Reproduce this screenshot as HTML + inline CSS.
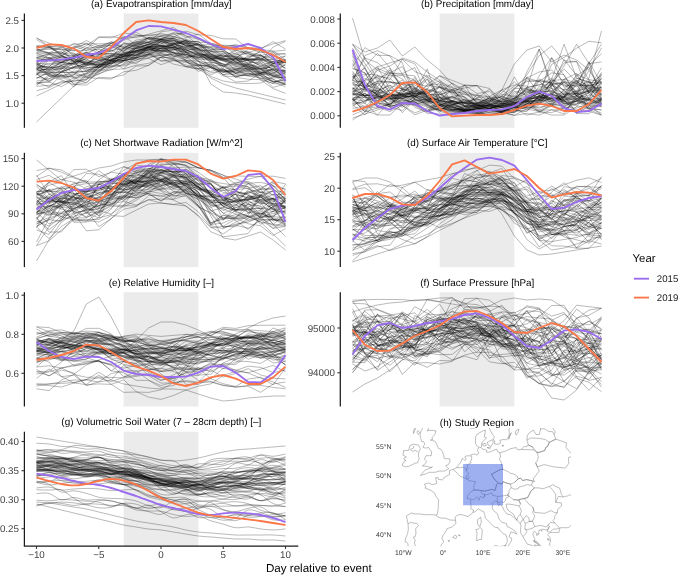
<!DOCTYPE html>
<html><head><meta charset="utf-8"><style>
html,body{margin:0;padding:0;background:#fff;}
svg{display:block;will-change:transform;}
text{font-family:"Liberation Sans",sans-serif;text-rendering:geometricPrecision;}
.tk{font-size:9.80px;fill:#444;}
.ti{font-size:9.90px;fill:#000;}
.at{font-size:11.6px;fill:#000;}
.lt{font-size:11.4px;fill:#000;}
.ll{font-size:9.7px;fill:#1a1a1a;}
.mk{font-size:6.8px;fill:#3a3a3a;}
</style></head><body>
<svg width="685" height="575" viewBox="0 0 685 575">
<rect width="685" height="575" fill="#fff"/>
<rect x="123.65" y="13.50" width="74.70" height="114.30" fill="#ebebeb"/>
<g fill="none" stroke="#000" stroke-opacity="0.5" stroke-width="0.55" stroke-linejoin="round"><path d="M36.5 49.0L49.0 52.7 61.4 58.6 73.9 62.1 86.3 57.0 98.8 60.3 111.2 60.6 123.7 60.2 136.1 58.9 148.6 58.4 161.0 64.7 173.4 60.3 185.9 60.8 198.3 71.4 210.8 67.5 223.2 71.7 235.7 68.9 248.1 69.8 260.6 73.2 273.1 63.5 285.5 59.3"/><path d="M36.5 45.7L49.0 46.9 61.4 45.4 73.9 56.2 86.3 53.9 98.8 60.9 111.2 55.9 123.7 54.3 136.1 50.9 148.6 47.4 161.0 41.8 173.4 43.6 185.9 47.5 198.3 52.5 210.8 58.8 223.2 58.2 235.7 58.8 248.1 58.0 260.6 51.0 273.1 55.1 285.5 53.6"/><path d="M36.5 63.0L49.0 76.3 61.4 75.4 73.9 73.9 86.3 77.5 98.8 78.4 111.2 79.0 123.7 71.8 136.1 70.3 148.6 65.2 161.0 57.3 173.4 52.2 185.9 57.9 198.3 64.5 210.8 72.9 223.2 70.7 235.7 69.7 248.1 65.0 260.6 56.2 273.1 58.0 285.5 68.8"/><path d="M36.5 78.5L49.0 71.4 61.4 76.6 73.9 71.1 86.3 71.3 98.8 71.1 111.2 64.3 123.7 56.1 136.1 55.1 148.6 50.1 161.0 46.5 173.4 49.0 185.9 49.8 198.3 55.3 210.8 54.2 223.2 61.2 235.7 58.5 248.1 58.9 260.6 51.0 273.1 59.5 285.5 61.8"/><path d="M36.5 70.0L49.0 58.7 61.4 60.1 73.9 58.3 86.3 65.1 98.8 53.9 111.2 53.6 123.7 55.9 136.1 47.0 148.6 44.5 161.0 39.4 173.4 40.4 185.9 44.4 198.3 54.3 210.8 58.4 223.2 58.4 235.7 63.2 248.1 65.0 260.6 71.6 273.1 69.2 285.5 77.9"/><path d="M36.5 66.2L49.0 67.0 61.4 72.0 73.9 67.5 86.3 63.9 98.8 63.3 111.2 59.4 123.7 56.2 136.1 50.6 148.6 45.8 161.0 48.5 173.4 56.1 185.9 51.3 198.3 61.6 210.8 67.7 223.2 76.0 235.7 76.8 248.1 73.5 260.6 73.1 273.1 68.9 285.5 60.5"/><path d="M36.5 63.0L49.0 64.4 61.4 62.5 73.9 63.4 86.3 55.1 98.8 58.6 111.2 55.1 123.7 52.6 136.1 52.4 148.6 46.3 161.0 55.8 173.4 59.7 185.9 65.0 198.3 68.5 210.8 67.6 223.2 72.6 235.7 69.5 248.1 71.6 260.6 73.6 273.1 81.0 285.5 83.8"/><path d="M36.5 65.9L49.0 73.6 61.4 71.2 73.9 66.8 86.3 63.3 98.8 67.6 111.2 63.5 123.7 56.8 136.1 44.5 148.6 37.8 161.0 39.2 173.4 42.3 185.9 51.5 198.3 52.3 210.8 58.0 223.2 67.5 235.7 57.6 248.1 71.0 260.6 66.1 273.1 61.2 285.5 68.1"/><path d="M36.5 69.4L49.0 75.5 61.4 77.2 73.9 76.4 86.3 73.4 98.8 64.9 111.2 63.9 123.7 51.1 136.1 47.3 148.6 47.5 161.0 41.8 173.4 45.7 185.9 51.7 198.3 55.8 210.8 58.3 223.2 64.2 235.7 68.7 248.1 68.6 260.6 80.0 273.1 88.5 285.5 93.4"/><path d="M36.5 82.2L49.0 86.9 61.4 75.2 73.9 87.0 86.3 75.5 98.8 71.5 111.2 61.4 123.7 60.6 136.1 57.9 148.6 54.1 161.0 40.7 173.4 44.6 185.9 47.8 198.3 43.0 210.8 54.0 223.2 56.9 235.7 55.5 248.1 60.3 260.6 59.0 273.1 62.9 285.5 62.3"/><path d="M36.5 52.3L49.0 47.1 61.4 54.0 73.9 55.8 86.3 52.8 98.8 48.5 111.2 43.2 123.7 52.2 136.1 50.7 148.6 47.9 161.0 52.9 173.4 49.5 185.9 46.7 198.3 48.6 210.8 53.1 223.2 55.8 235.7 56.6 248.1 59.8 260.6 59.1 273.1 54.8 285.5 61.1"/><path d="M36.5 60.3L49.0 58.8 61.4 62.2 73.9 64.3 86.3 57.9 98.8 51.9 111.2 43.5 123.7 37.1 136.1 37.6 148.6 34.2 161.0 30.8 173.4 27.3 185.9 36.3 198.3 39.2 210.8 44.5 223.2 48.2 235.7 46.8 248.1 52.4 260.6 54.8 273.1 63.6 285.5 68.2"/><path d="M36.5 47.1L49.0 48.4 61.4 49.6 73.9 50.8 86.3 45.8 98.8 36.9 111.2 36.7 123.7 38.4 136.1 32.1 148.6 39.1 161.0 41.5 173.4 39.8 185.9 50.7 198.3 47.7 210.8 46.7 223.2 45.5 235.7 54.5 248.1 53.5 260.6 58.9 273.1 61.7 285.5 59.7"/><path d="M36.5 65.1L49.0 57.4 61.4 62.6 73.9 56.9 86.3 52.8 98.8 54.6 111.2 50.0 123.7 56.5 136.1 58.3 148.6 46.7 161.0 46.2 173.4 45.5 185.9 56.1 198.3 57.0 210.8 57.2 223.2 59.5 235.7 60.3 248.1 57.9 260.6 60.7 273.1 59.2 285.5 56.0"/><path d="M36.5 83.4L49.0 80.9 61.4 71.8 73.9 62.5 86.3 60.5 98.8 51.5 111.2 43.6 123.7 47.6 136.1 44.4 148.6 39.6 161.0 40.1 173.4 38.4 185.9 41.5 198.3 53.6 210.8 56.7 223.2 57.1 235.7 53.8 248.1 59.6 260.6 60.1 273.1 63.8 285.5 55.9"/><path d="M36.5 58.7L49.0 59.7 61.4 62.9 73.9 64.1 86.3 62.1 98.8 65.5 111.2 61.4 123.7 48.2 136.1 40.1 148.6 38.0 161.0 38.9 173.4 34.3 185.9 32.7 198.3 39.2 210.8 44.7 223.2 50.7 235.7 57.0 248.1 59.6 260.6 57.1 273.1 65.6 285.5 72.8"/><path d="M36.5 86.3L49.0 85.4 61.4 82.7 73.9 80.9 86.3 79.7 98.8 65.1 111.2 60.8 123.7 55.9 136.1 54.0 148.6 51.4 161.0 48.9 173.4 47.1 185.9 43.8 198.3 49.6 210.8 51.5 223.2 54.0 235.7 62.0 248.1 69.2 260.6 68.9 273.1 79.4 285.5 84.3"/><path d="M36.5 65.4L49.0 59.9 61.4 55.4 73.9 61.8 86.3 51.7 98.8 59.2 111.2 59.7 123.7 54.7 136.1 58.1 148.6 54.3 161.0 47.3 173.4 44.4 185.9 42.1 198.3 41.2 210.8 54.2 223.2 58.1 235.7 59.2 248.1 65.1 260.6 69.0 273.1 66.1 285.5 61.4"/><path d="M36.5 37.6L49.0 46.6 61.4 47.2 73.9 54.1 86.3 55.1 98.8 46.2 111.2 42.1 123.7 48.1 136.1 42.6 148.6 42.2 161.0 31.9 173.4 30.1 185.9 37.7 198.3 34.0 210.8 43.4 223.2 45.2 235.7 45.8 248.1 56.4 260.6 55.4 273.1 63.2 285.5 62.4"/><path d="M36.5 69.1L49.0 74.4 61.4 78.9 73.9 75.0 86.3 61.1 98.8 67.3 111.2 60.6 123.7 63.1 136.1 54.8 148.6 49.0 161.0 48.4 173.4 48.2 185.9 58.2 198.3 54.3 210.8 55.4 223.2 60.5 235.7 64.7 248.1 66.7 260.6 69.1 273.1 76.0 285.5 73.8"/><path d="M36.5 57.5L49.0 57.9 61.4 62.8 73.9 55.0 86.3 66.2 98.8 61.2 111.2 55.1 123.7 51.1 136.1 43.5 148.6 37.5 161.0 36.5 173.4 39.7 185.9 45.5 198.3 48.2 210.8 50.7 223.2 56.9 235.7 50.2 248.1 52.8 260.6 60.3 273.1 70.9 285.5 70.9"/><path d="M36.5 46.3L49.0 45.3 61.4 55.2 73.9 67.5 86.3 65.8 98.8 54.9 111.2 53.6 123.7 54.8 136.1 55.1 148.6 52.5 161.0 60.9 173.4 59.2 185.9 66.7 198.3 69.2 210.8 76.4 223.2 81.0 235.7 83.0 248.1 83.6 260.6 83.1 273.1 76.9 285.5 77.8"/><path d="M36.5 68.0L49.0 70.7 61.4 62.5 73.9 58.6 86.3 47.8 98.8 47.6 111.2 41.7 123.7 46.1 136.1 41.6 148.6 41.7 161.0 39.8 173.4 40.5 185.9 42.3 198.3 41.6 210.8 49.7 223.2 49.4 235.7 58.7 248.1 49.2 260.6 48.8 273.1 55.6 285.5 62.4"/><path d="M36.5 38.4L49.0 43.1 61.4 47.0 73.9 50.7 86.3 50.3 98.8 45.3 111.2 45.4 123.7 46.7 136.1 48.5 148.6 44.9 161.0 40.7 173.4 44.1 185.9 40.6 198.3 42.0 210.8 43.1 223.2 47.3 235.7 51.4 248.1 63.9 260.6 68.3 273.1 74.4 285.5 72.7"/><path d="M36.5 49.8L49.0 49.4 61.4 48.4 73.9 61.9 86.3 69.6 98.8 69.8 111.2 64.9 123.7 54.7 136.1 49.8 148.6 43.9 161.0 40.2 173.4 42.7 185.9 52.3 198.3 64.9 210.8 66.8 223.2 70.1 235.7 72.4 248.1 70.0 260.6 77.9 273.1 81.4 285.5 82.5"/><path d="M36.5 71.9L49.0 68.0 61.4 66.1 73.9 72.7 86.3 76.5 98.8 72.5 111.2 60.9 123.7 68.9 136.1 65.2 148.6 63.4 161.0 56.9 173.4 58.3 185.9 61.7 198.3 66.6 210.8 74.9 223.2 69.2 235.7 76.4 248.1 75.2 260.6 73.9 273.1 75.2 285.5 79.0"/><path d="M36.5 68.2L49.0 65.8 61.4 69.3 73.9 84.5 86.3 85.1 98.8 77.3 111.2 77.9 123.7 74.9 136.1 66.1 148.6 65.5 161.0 57.2 173.4 58.4 185.9 66.7 198.3 65.0 210.8 66.0 223.2 65.4 235.7 73.5 248.1 71.1 260.6 71.9 273.1 75.4 285.5 82.1"/><path d="M36.5 74.2L49.0 67.1 61.4 55.1 73.9 61.6 86.3 62.1 98.8 62.5 111.2 56.2 123.7 53.3 136.1 55.9 148.6 45.5 161.0 43.9 173.4 37.8 185.9 46.2 198.3 51.0 210.8 50.3 223.2 46.3 235.7 50.3 248.1 54.2 260.6 55.2 273.1 64.4 285.5 60.1"/><path d="M36.5 74.1L49.0 81.3 61.4 75.0 73.9 77.7 86.3 83.2 98.8 70.2 111.2 62.6 123.7 53.0 136.1 51.9 148.6 55.8 161.0 48.1 173.4 47.9 185.9 60.5 198.3 61.1 210.8 66.8 223.2 72.4 235.7 70.4 248.1 75.7 260.6 78.2 273.1 78.1 285.5 77.1"/><path d="M36.5 81.0L49.0 79.1 61.4 72.2 73.9 67.8 86.3 68.5 98.8 66.8 111.2 56.1 123.7 57.3 136.1 48.1 148.6 37.7 161.0 36.5 173.4 39.0 185.9 45.8 198.3 45.0 210.8 47.4 223.2 56.4 235.7 58.5 248.1 66.3 260.6 70.8 273.1 63.7 285.5 60.6"/><path d="M36.5 75.7L49.0 59.4 61.4 64.7 73.9 63.4 86.3 58.6 98.8 67.7 111.2 59.3 123.7 53.1 136.1 48.5 148.6 44.1 161.0 45.7 173.4 47.4 185.9 39.6 198.3 49.2 210.8 57.9 223.2 65.8 235.7 69.4 248.1 63.2 260.6 68.4 273.1 67.1 285.5 62.3"/><path d="M36.5 64.8L49.0 68.4 61.4 61.8 73.9 56.0 86.3 60.1 98.8 62.8 111.2 56.7 123.7 54.8 136.1 51.2 148.6 53.0 161.0 52.5 173.4 44.4 185.9 43.2 198.3 52.9 210.8 62.5 223.2 71.8 235.7 71.3 248.1 67.8 260.6 72.5 273.1 72.7 285.5 72.2"/><path d="M36.5 55.1L49.0 58.3 61.4 53.8 73.9 52.9 86.3 64.6 98.8 60.9 111.2 63.7 123.7 60.6 136.1 57.8 148.6 53.8 161.0 61.1 173.4 60.8 185.9 62.2 198.3 66.0 210.8 66.3 223.2 74.7 235.7 71.0 248.1 64.5 260.6 67.1 273.1 70.7 285.5 64.9"/><path d="M36.5 67.6L49.0 66.8 61.4 56.9 73.9 46.0 86.3 50.3 98.8 49.3 111.2 52.1 123.7 43.8 136.1 47.0 148.6 44.6 161.0 45.7 173.4 53.6 185.9 54.6 198.3 57.4 210.8 58.6 223.2 55.0 235.7 57.1 248.1 52.5 260.6 49.0 273.1 41.6 285.5 49.0"/><path d="M36.5 62.6L49.0 69.8 61.4 65.4 73.9 62.7 86.3 58.8 98.8 51.7 111.2 58.4 123.7 42.4 136.1 46.3 148.6 48.3 161.0 45.3 173.4 46.0 185.9 54.3 198.3 57.9 210.8 51.7 223.2 52.1 235.7 61.1 248.1 58.5 260.6 66.3 273.1 65.2 285.5 70.8"/><path d="M36.5 57.2L49.0 53.9 61.4 53.4 73.9 43.0 86.3 49.0 98.8 37.4 111.2 37.8 123.7 33.1 136.1 34.4 148.6 38.8 161.0 38.9 173.4 38.5 185.9 42.5 198.3 48.9 210.8 56.7 223.2 57.8 235.7 65.6 248.1 62.2 260.6 62.8 273.1 76.4 285.5 78.2"/><path d="M36.5 73.9L49.0 74.7 61.4 74.6 73.9 83.5 86.3 80.4 98.8 66.9 111.2 61.9 123.7 59.1 136.1 52.4 148.6 46.3 161.0 50.5 173.4 52.4 185.9 60.2 198.3 64.5 210.8 62.2 223.2 64.2 235.7 64.2 248.1 64.3 260.6 69.5 273.1 61.0 285.5 61.9"/><path d="M36.5 84.8L49.0 74.7 61.4 77.0 73.9 74.9 86.3 64.1 98.8 56.3 111.2 60.5 123.7 53.8 136.1 50.7 148.6 46.9 161.0 41.4 173.4 46.7 185.9 52.4 198.3 58.0 210.8 60.4 223.2 59.7 235.7 57.1 248.1 64.1 260.6 54.8 273.1 62.1 285.5 65.7"/><path d="M36.5 70.3L49.0 69.2 61.4 62.4 73.9 57.7 86.3 57.6 98.8 57.7 111.2 61.0 123.7 58.7 136.1 56.8 148.6 49.1 161.0 51.4 173.4 52.9 185.9 61.4 198.3 68.8 210.8 71.4 223.2 68.6 235.7 77.1 248.1 72.9 260.6 75.4 273.1 81.7 285.5 86.8"/><path d="M36.5 50.4L49.0 46.7 61.4 55.8 73.9 60.7 86.3 77.2 98.8 68.1 111.2 56.1 123.7 48.0 136.1 41.9 148.6 38.3 161.0 39.6 173.4 41.7 185.9 43.2 198.3 44.3 210.8 49.8 223.2 51.4 235.7 58.8 248.1 59.6 260.6 58.1 273.1 66.5 285.5 74.7"/><path d="M36.5 85.3L49.0 76.3 61.4 79.9 73.9 84.9 86.3 82.6 98.8 72.0 111.2 66.5 123.7 64.8 136.1 60.2 148.6 55.6 161.0 57.6 173.4 64.1 185.9 66.7 198.3 69.0 210.8 64.1 223.2 75.0 235.7 81.9 248.1 81.1 260.6 73.2 273.1 82.0 285.5 79.5"/><path d="M36.5 53.8L49.0 53.9 61.4 55.8 73.9 48.2 86.3 43.8 98.8 43.8 111.2 43.6 123.7 36.0 136.1 45.3 148.6 47.4 161.0 48.5 173.4 50.8 185.9 43.9 198.3 48.5 210.8 54.6 223.2 58.7 235.7 62.4 248.1 67.0 260.6 75.9 273.1 82.3 285.5 79.5"/><path d="M36.5 78.2L49.0 73.0 61.4 72.6 73.9 72.7 86.3 70.9 98.8 65.7 111.2 63.1 123.7 60.6 136.1 45.6 148.6 42.5 161.0 38.8 173.4 45.9 185.9 48.6 198.3 49.4 210.8 55.2 223.2 59.3 235.7 63.9 248.1 55.8 260.6 55.7 273.1 52.3 285.5 62.8"/><path d="M36.5 73.8L49.0 70.6 61.4 68.7 73.9 67.0 86.3 63.5 98.8 55.6 111.2 47.1 123.7 50.8 136.1 43.4 148.6 42.8 161.0 45.7 173.4 47.9 185.9 49.4 198.3 55.7 210.8 56.2 223.2 54.9 235.7 61.6 248.1 66.5 260.6 73.3 273.1 74.0 285.5 63.6"/><path d="M36.5 57.8L49.0 54.3 61.4 61.3 73.9 56.7 86.3 62.4 98.8 60.7 111.2 58.9 123.7 56.8 136.1 55.5 148.6 46.9 161.0 50.8 173.4 43.7 185.9 43.1 198.3 44.3 210.8 51.7 223.2 51.6 235.7 62.8 248.1 60.1 260.6 75.0 273.1 79.3 285.5 84.8"/><path d="M36.5 69.1L49.0 73.6 61.4 67.9 73.9 59.5 86.3 64.6 98.8 64.8 111.2 60.4 123.7 55.8 136.1 51.4 148.6 48.6 161.0 51.2 173.4 49.3 185.9 52.4 198.3 61.4 210.8 63.5 223.2 69.5 235.7 67.6 248.1 69.2 260.6 69.1 273.1 76.7 285.5 75.4"/><path d="M36.5 49.6L49.0 53.2 61.4 51.8 73.9 60.9 86.3 63.4 98.8 58.3 111.2 50.5 123.7 48.8 136.1 45.3 148.6 42.3 161.0 42.3 173.4 56.6 185.9 54.3 198.3 58.9 210.8 65.8 223.2 74.5 235.7 74.1 248.1 76.1 260.6 75.6 273.1 87.4 285.5 84.0"/><path d="M36.5 68.2L49.0 63.1 61.4 67.3 73.9 62.9 86.3 71.1 98.8 64.2 111.2 60.1 123.7 56.4 136.1 53.9 148.6 47.4 161.0 39.2 173.4 32.5 185.9 35.2 198.3 44.8 210.8 53.8 223.2 59.7 235.7 66.4 248.1 67.8 260.6 68.3 273.1 72.3 285.5 81.2"/><path d="M36.5 82.8L49.0 82.4 61.4 71.8 73.9 67.2 86.3 54.0 98.8 57.8 111.2 55.1 123.7 58.5 136.1 60.2 148.6 54.5 161.0 55.4 173.4 54.2 185.9 49.4 198.3 55.3 210.8 59.6 223.2 64.0 235.7 73.3 248.1 69.5 260.6 62.9 273.1 69.5 285.5 77.6"/><path d="M36.5 72.7L49.0 72.0 61.4 72.4 73.9 72.3 86.3 71.5 98.8 65.9 111.2 68.0 123.7 60.9 136.1 50.9 148.6 47.6 161.0 43.8 173.4 40.6 185.9 45.7 198.3 45.0 210.8 44.7 223.2 46.2 235.7 45.7 248.1 47.6 260.6 48.2 273.1 43.9 285.5 40.6"/><path d="M36.5 90.7L49.0 87.6 61.4 81.4 73.9 81.2 86.3 79.2 98.8 74.3 111.2 67.3 123.7 61.5 136.1 54.9 148.6 57.4 161.0 53.9 173.4 54.8 185.9 57.9 198.3 53.4 210.8 61.9 223.2 66.0 235.7 58.9 248.1 68.1 260.6 74.0 273.1 76.2 285.5 73.2"/><path d="M36.5 52.5L49.0 53.1 61.4 51.9 73.9 58.9 86.3 62.6 98.8 65.0 111.2 62.2 123.7 57.6 136.1 52.5 148.6 47.6 161.0 45.9 173.4 47.3 185.9 50.0 198.3 53.8 210.8 68.0 223.2 71.1 235.7 73.3 248.1 72.8 260.6 78.6 273.1 83.6 285.5 84.3"/><path d="M36.5 77.4L49.0 78.9 61.4 69.0 73.9 61.1 86.3 56.2 98.8 54.9 111.2 49.2 123.7 40.2 136.1 36.3 148.6 35.0 161.0 35.0 173.4 36.8 185.9 39.1 198.3 44.4 210.8 47.4 223.2 47.6 235.7 44.5 248.1 48.0 260.6 52.7 273.1 51.3 285.5 50.2"/><path d="M36.5 73.8L49.0 81.9 61.4 86.7 73.9 79.7 86.3 72.8 98.8 66.7 111.2 63.2 123.7 60.4 136.1 47.9 148.6 49.7 161.0 51.7 173.4 49.0 185.9 52.6 198.3 53.4 210.8 56.3 223.2 66.4 235.7 61.2 248.1 60.5 260.6 59.3 273.1 59.0 285.5 62.2"/><path d="M36.5 62.1L49.0 72.6 61.4 65.7 73.9 69.0 86.3 65.7 98.8 64.1 111.2 59.6 123.7 54.6 136.1 48.3 148.6 44.0 161.0 39.0 173.4 37.3 185.9 31.1 198.3 34.8 210.8 35.4 223.2 38.8 235.7 39.0 248.1 48.4 260.6 49.5 273.1 50.9 285.5 60.0"/><path d="M36.5 50.5L49.0 53.0 61.4 46.8 73.9 44.4 86.3 43.1 98.8 51.9 111.2 46.8 123.7 48.8 136.1 48.5 148.6 51.1 161.0 48.7 173.4 43.2 185.9 40.9 198.3 51.7 210.8 58.3 223.2 68.8 235.7 77.3 248.1 79.2 260.6 79.7 273.1 83.4 285.5 76.5"/><path d="M36.5 60.4L49.0 60.9 61.4 65.7 73.9 56.0 86.3 47.6 98.8 53.1 111.2 54.1 123.7 49.8 136.1 44.9 148.6 42.4 161.0 35.6 173.4 33.5 185.9 41.1 198.3 49.9 210.8 60.9 223.2 66.3 235.7 73.3 248.1 67.1 260.6 61.1 273.1 47.0 285.5 41.4"/><path d="M36.5 39.7L49.0 46.9 61.4 53.3 73.9 47.0 86.3 40.6 98.8 46.0 111.2 51.3 123.7 43.7 136.1 42.9 148.6 46.5 161.0 46.7 173.4 52.9 185.9 54.4 198.3 59.0 210.8 60.3 223.2 53.2 235.7 53.3 248.1 51.4 260.6 58.8 273.1 52.8 285.5 54.2"/><path d="M36.5 64.5L49.0 67.7 61.4 67.2 73.9 77.8 86.3 77.9 98.8 73.7 111.2 69.5 123.7 68.9 136.1 56.4 148.6 48.8 161.0 47.8 173.4 44.4 185.9 47.2 198.3 43.3 210.8 56.1 223.2 61.0 235.7 63.3 248.1 60.2 260.6 65.8 273.1 72.1 285.5 70.2"/><path d="M36.5 63.2L49.0 54.6 61.4 57.2 73.9 58.3 86.3 64.4 98.8 63.8 111.2 66.0 123.7 60.9 136.1 57.2 148.6 51.9 161.0 50.4 173.4 47.3 185.9 48.8 198.3 50.3 210.8 58.9 223.2 64.1 235.7 66.3 248.1 65.8 260.6 72.3 273.1 73.8 285.5 77.7"/><path d="M36.5 58.1L49.0 60.6 61.4 57.1 73.9 54.4 86.3 52.6 98.8 59.6 111.2 57.3 123.7 60.7 136.1 52.3 148.6 49.9 161.0 46.3 173.4 47.6 185.9 55.9 198.3 65.7 210.8 64.5 223.2 70.9 235.7 75.5 248.1 75.0 260.6 73.5 273.1 69.6 285.5 71.6"/><path d="M36.5 46.3L49.0 47.3 61.4 50.0 73.9 47.9 86.3 43.9 98.8 47.5 111.2 45.6 123.7 37.4 136.1 35.5 148.6 35.8 161.0 33.5 173.4 36.5 185.9 40.3 198.3 46.2 210.8 48.3 223.2 49.8 235.7 57.5 248.1 61.0 260.6 64.4 273.1 68.9 285.5 71.9"/><path d="M36.5 68.7L49.0 69.5 61.4 68.6 73.9 64.3 86.3 67.9 98.8 65.4 111.2 60.1 123.7 60.3 136.1 63.7 148.6 54.3 161.0 53.3 173.4 57.6 185.9 52.8 198.3 56.7 210.8 59.6 223.2 60.2 235.7 69.7 248.1 74.6 260.6 75.0 273.1 68.5 285.5 70.6"/><path d="M36.5 53.4L49.0 57.8 61.4 56.9 73.9 59.4 86.3 67.4 98.8 67.6 111.2 62.4 123.7 58.1 136.1 50.6 148.6 50.2 161.0 45.5 173.4 43.5 185.9 40.4 198.3 45.4 210.8 58.0 223.2 59.4 235.7 59.6 248.1 59.5 260.6 61.8 273.1 65.6 285.5 80.8"/><path d="M36.5 122.0L49.0 110.0 61.4 98.0 73.9 86.0 86.3 74.0 98.8 68.0 111.2 66.0 123.7 66.0 136.1 62.0 148.6 58.0 161.0 55.0 173.4 56.0 185.9 60.0 198.3 66.0 210.8 78.0 223.2 84.0 235.7 88.0 248.1 91.0 260.6 94.0 273.1 97.0 285.5 100.0"/><path d="M36.5 96.0L49.0 90.0 61.4 84.0 73.9 78.0 86.3 74.0 98.8 70.0 111.2 70.0 123.7 64.0 136.1 58.0 148.6 54.0 161.0 50.0 173.4 52.0 185.9 56.0 198.3 60.0 210.8 84.0 223.2 92.0 235.7 93.0 248.1 95.0 260.6 98.0 273.1 101.0 285.5 104.0"/></g>
<path d="M36.5 61.0L49.0 60.4 61.4 59.6 73.9 57.6 86.3 55.0 98.8 53.0 111.2 48.0 123.7 39.0 136.1 30.4 148.6 26.0 161.0 26.4 173.4 29.6 185.9 33.0 198.3 38.0 210.8 44.0 223.2 49.0 235.7 47.0 248.1 44.0 260.6 48.0 273.1 57.0 285.5 81.0" fill="none" stroke="#9a6cef" stroke-width="1.85" stroke-linejoin="round" stroke-linecap="butt"/>
<path d="M36.5 48.0L49.0 44.4 61.4 45.0 73.9 48.6 86.3 57.0 98.8 58.0 111.2 47.0 123.7 33.0 136.1 22.0 148.6 20.4 161.0 22.0 173.4 23.0 185.9 25.0 198.3 31.0 210.8 39.0 223.2 47.0 235.7 49.0 248.1 48.0 260.6 50.0 273.1 55.0 285.5 62.0" fill="none" stroke="#fb7748" stroke-width="1.85" stroke-linejoin="round" stroke-linecap="butt"/>
<line x1="24.40" y1="13.50" x2="24.40" y2="127.80" stroke="#1a1a1a" stroke-width="1.25"/>
<line x1="21.50" y1="20.40" x2="24.40" y2="20.40" stroke="#333" stroke-width="1.1"/>
<text x="19.00" y="23.90" text-anchor="end" class="tk">2.5</text>
<line x1="21.50" y1="48.00" x2="24.40" y2="48.00" stroke="#333" stroke-width="1.1"/>
<text x="19.00" y="51.50" text-anchor="end" class="tk">2.0</text>
<line x1="21.50" y1="75.60" x2="24.40" y2="75.60" stroke="#333" stroke-width="1.1"/>
<text x="19.00" y="79.10" text-anchor="end" class="tk">1.5</text>
<line x1="21.50" y1="103.20" x2="24.40" y2="103.20" stroke="#333" stroke-width="1.1"/>
<text x="19.00" y="106.70" text-anchor="end" class="tk">1.0</text>
<text x="161.35" y="7.10" text-anchor="middle" class="ti">(a) Evapotranspiration [mm/day]</text>
<rect x="439.65" y="13.50" width="74.70" height="114.30" fill="#ebebeb"/>
<g fill="none" stroke="#000" stroke-opacity="0.5" stroke-width="0.55" stroke-linejoin="round"><path d="M352.5 99.1L364.9 111.9 377.4 101.6 389.9 94.2 402.3 96.8 414.8 96.0 427.2 84.8 439.6 84.2 452.1 87.7 464.6 91.8 477.0 103.1 489.4 97.9 501.9 107.2 514.4 105.4 526.8 103.0 539.2 110.0 551.7 105.6 564.1 89.0 576.6 92.3 589.0 101.2 601.5 99.5"/><path d="M352.5 88.3L364.9 89.7 377.4 101.0 389.9 95.5 402.3 92.3 414.8 83.8 427.2 75.1 439.6 82.1 452.1 103.4 464.6 109.9 477.0 112.2 489.4 109.2 501.9 110.3 514.4 101.2 526.8 94.9 539.2 88.9 551.7 80.7 564.1 79.3 576.6 96.0 589.0 63.4 601.5 44.2"/><path d="M352.5 98.6L364.9 110.3 377.4 115.0 389.9 115.0 402.3 103.6 414.8 97.1 427.2 88.6 439.6 75.8 452.1 83.4 464.6 92.4 477.0 100.6 489.4 103.6 501.9 107.8 514.4 102.5 526.8 95.7 539.2 96.1 551.7 100.1 564.1 94.3 576.6 78.0 589.0 82.4 601.5 82.9"/><path d="M352.5 93.4L364.9 95.4 377.4 96.7 389.9 100.2 402.3 96.1 414.8 88.1 427.2 99.9 439.6 93.9 452.1 101.5 464.6 105.9 477.0 112.5 489.4 115.4 501.9 111.7 514.4 112.5 526.8 102.9 539.2 98.7 551.7 95.0 564.1 78.9 576.6 83.3 589.0 111.5 601.5 115.0"/><path d="M352.5 48.0L364.9 69.0 377.4 86.4 389.9 99.5 402.3 94.7 414.8 107.4 427.2 111.9 439.6 108.8 452.1 107.6 464.6 108.8 477.0 104.8 489.4 108.8 501.9 111.2 514.4 109.3 526.8 104.0 539.2 102.0 551.7 80.7 564.1 90.6 576.6 83.0 589.0 92.5 601.5 89.9"/><path d="M352.5 94.9L364.9 78.1 377.4 87.1 389.9 70.0 402.3 88.1 414.8 96.1 427.2 90.6 439.6 108.9 452.1 114.1 464.6 111.7 477.0 108.9 489.4 106.0 501.9 106.5 514.4 109.2 526.8 99.7 539.2 93.1 551.7 100.4 564.1 97.1 576.6 74.4 589.0 79.7 601.5 95.8"/><path d="M352.5 94.7L364.9 91.5 377.4 83.3 389.9 95.0 402.3 99.7 414.8 93.5 427.2 91.5 439.6 86.2 452.1 103.9 464.6 108.8 477.0 105.0 489.4 108.0 501.9 105.9 514.4 103.1 526.8 102.6 539.2 86.4 551.7 88.1 564.1 93.6 576.6 93.6 589.0 91.6 601.5 103.5"/><path d="M352.5 104.5L364.9 115.0 377.4 101.9 389.9 88.9 402.3 79.8 414.8 100.6 427.2 99.4 439.6 98.4 452.1 104.4 464.6 102.7 477.0 108.1 489.4 110.4 501.9 111.4 514.4 110.8 526.8 111.3 539.2 99.7 551.7 104.6 564.1 104.0 576.6 104.7 589.0 81.3 601.5 94.4"/><path d="M352.5 53.1L364.9 85.6 377.4 94.9 389.9 97.2 402.3 105.6 414.8 96.4 427.2 101.3 439.6 97.8 452.1 98.2 464.6 102.5 477.0 98.8 489.4 102.5 501.9 96.3 514.4 103.2 526.8 102.7 539.2 89.5 551.7 105.1 564.1 97.8 576.6 98.4 589.0 100.7 601.5 103.5"/><path d="M352.5 106.9L364.9 96.2 377.4 91.7 389.9 95.7 402.3 96.3 414.8 93.2 427.2 100.3 439.6 109.0 452.1 107.1 464.6 110.3 477.0 110.5 489.4 108.7 501.9 105.1 514.4 87.8 526.8 81.5 539.2 81.3 551.7 72.8 564.1 74.7 576.6 96.5 589.0 99.8 601.5 106.5"/><path d="M352.5 68.5L364.9 73.0 377.4 91.0 389.9 85.2 402.3 96.2 414.8 96.3 427.2 104.9 439.6 111.1 452.1 114.5 464.6 112.0 477.0 112.3 489.4 108.9 501.9 111.7 514.4 106.1 526.8 104.6 539.2 91.6 551.7 79.5 564.1 85.8 576.6 85.6 589.0 85.5 601.5 82.8"/><path d="M352.5 72.6L364.9 86.0 377.4 102.8 389.9 98.5 402.3 98.3 414.8 93.9 427.2 93.1 439.6 97.7 452.1 100.8 464.6 103.4 477.0 107.1 489.4 110.0 501.9 111.0 514.4 107.8 526.8 115.2 539.2 111.7 551.7 112.7 564.1 107.2 576.6 108.2 589.0 103.1 601.5 101.8"/><path d="M352.5 94.4L364.9 95.6 377.4 94.5 389.9 107.2 402.3 110.5 414.8 98.3 427.2 97.1 439.6 100.3 452.1 96.6 464.6 102.7 477.0 105.3 489.4 106.2 501.9 111.2 514.4 103.8 526.8 100.2 539.2 97.4 551.7 97.9 564.1 100.2 576.6 113.4 589.0 106.1 601.5 84.1"/><path d="M352.5 93.8L364.9 100.2 377.4 97.7 389.9 94.2 402.3 95.5 414.8 91.6 427.2 101.3 439.6 97.7 452.1 100.5 464.6 106.1 477.0 107.3 489.4 105.4 501.9 101.2 514.4 98.3 526.8 88.7 539.2 49.1 551.7 88.4 564.1 104.0 576.6 99.3 589.0 104.3 601.5 100.2"/><path d="M352.5 89.1L364.9 75.3 377.4 66.6 389.9 89.7 402.3 94.1 414.8 89.9 427.2 76.5 439.6 97.5 452.1 105.0 464.6 101.8 477.0 105.3 489.4 108.3 501.9 103.2 514.4 107.8 526.8 106.6 539.2 95.9 551.7 98.8 564.1 90.6 576.6 99.4 589.0 92.0 601.5 87.9"/><path d="M352.5 93.4L364.9 95.7 377.4 95.5 389.9 86.9 402.3 95.5 414.8 98.2 427.2 85.0 439.6 87.3 452.1 89.6 464.6 101.4 477.0 98.5 489.4 106.1 501.9 110.2 514.4 110.5 526.8 97.8 539.2 93.4 551.7 99.2 564.1 99.2 576.6 93.2 589.0 80.4 601.5 99.0"/><path d="M352.5 76.0L364.9 89.4 377.4 93.6 389.9 90.3 402.3 94.2 414.8 95.7 427.2 103.9 439.6 112.4 452.1 100.5 464.6 103.1 477.0 103.4 489.4 101.1 501.9 92.6 514.4 81.9 526.8 92.9 539.2 92.0 551.7 91.1 564.1 82.2 576.6 91.1 589.0 87.9 601.5 87.5"/><path d="M352.5 114.9L364.9 109.5 377.4 101.8 389.9 94.9 402.3 95.3 414.8 102.0 427.2 98.9 439.6 99.9 452.1 105.9 464.6 111.1 477.0 108.3 489.4 109.8 501.9 106.2 514.4 93.2 526.8 87.8 539.2 84.5 551.7 85.2 564.1 65.9 576.6 44.2 589.0 63.6 601.5 62.0"/><path d="M352.5 96.0L364.9 88.8 377.4 90.9 389.9 98.1 402.3 107.3 414.8 98.8 427.2 105.3 439.6 110.2 452.1 109.8 464.6 107.1 477.0 112.1 489.4 108.1 501.9 105.8 514.4 107.7 526.8 109.0 539.2 105.0 551.7 85.7 564.1 89.8 576.6 75.8 589.0 67.1 601.5 94.8"/><path d="M352.5 74.8L364.9 86.9 377.4 75.2 389.9 92.7 402.3 103.5 414.8 104.9 427.2 100.7 439.6 104.5 452.1 101.5 464.6 109.4 477.0 110.4 489.4 104.2 501.9 112.2 514.4 107.2 526.8 107.2 539.2 107.1 551.7 105.0 564.1 111.1 576.6 98.4 589.0 92.7 601.5 79.2"/><path d="M352.5 100.7L364.9 93.3 377.4 102.8 389.9 106.4 402.3 88.1 414.8 82.7 427.2 86.7 439.6 80.6 452.1 94.7 464.6 97.0 477.0 104.9 489.4 106.0 501.9 105.1 514.4 91.1 526.8 94.8 539.2 80.3 551.7 84.0 564.1 100.4 576.6 111.2 589.0 110.4 601.5 97.7"/><path d="M352.5 53.2L364.9 66.8 377.4 53.2 389.9 67.6 402.3 88.5 414.8 86.8 427.2 98.2 439.6 107.4 452.1 109.8 464.6 110.5 477.0 108.6 489.4 104.6 501.9 101.3 514.4 76.9 526.8 98.2 539.2 96.1 551.7 57.9 564.1 75.5 576.6 93.6 589.0 98.7 601.5 103.8"/><path d="M352.5 55.6L364.9 88.2 377.4 95.0 389.9 82.3 402.3 84.3 414.8 87.4 427.2 96.0 439.6 93.7 452.1 104.2 464.6 101.7 477.0 102.9 489.4 104.2 501.9 106.1 514.4 97.3 526.8 89.9 539.2 92.4 551.7 90.7 564.1 98.3 576.6 83.5 589.0 65.4 601.5 53.7"/><path d="M352.5 83.0L364.9 97.2 377.4 98.3 389.9 98.6 402.3 98.4 414.8 95.1 427.2 100.2 439.6 105.6 452.1 100.8 464.6 105.2 477.0 107.8 489.4 112.8 501.9 114.7 514.4 111.6 526.8 104.8 539.2 111.6 551.7 106.1 564.1 99.4 576.6 100.1 589.0 97.4 601.5 82.7"/><path d="M352.5 108.4L364.9 106.0 377.4 108.1 389.9 104.0 402.3 96.6 414.8 91.9 427.2 93.6 439.6 87.6 452.1 92.9 464.6 92.1 477.0 95.3 489.4 96.6 501.9 102.1 514.4 99.5 526.8 99.0 539.2 97.5 551.7 95.2 564.1 81.5 576.6 86.9 589.0 81.5 601.5 96.6"/><path d="M352.5 68.2L364.9 72.7 377.4 96.6 389.9 96.1 402.3 97.6 414.8 105.5 427.2 113.3 439.6 114.1 452.1 115.0 464.6 110.2 477.0 107.5 489.4 104.3 501.9 98.0 514.4 107.3 526.8 103.9 539.2 97.5 551.7 100.1 564.1 101.7 576.6 104.0 589.0 99.4 601.5 98.0"/><path d="M352.5 85.2L364.9 85.4 377.4 88.1 389.9 96.1 402.3 95.1 414.8 91.2 427.2 92.0 439.6 103.3 452.1 110.1 464.6 107.3 477.0 106.7 489.4 105.0 501.9 107.5 514.4 100.8 526.8 89.8 539.2 91.0 551.7 84.6 564.1 94.7 576.6 93.6 589.0 107.5 601.5 105.0"/><path d="M352.5 79.8L364.9 58.0 377.4 62.7 389.9 72.5 402.3 79.0 414.8 90.6 427.2 89.0 439.6 100.6 452.1 102.6 464.6 85.2 477.0 85.6 489.4 96.4 501.9 89.8 514.4 84.9 526.8 86.1 539.2 95.8 551.7 95.2 564.1 96.5 576.6 93.7 589.0 89.8 601.5 87.5"/><path d="M352.5 82.4L364.9 80.7 377.4 96.8 389.9 93.5 402.3 94.5 414.8 93.9 427.2 102.9 439.6 105.4 452.1 106.7 464.6 111.1 477.0 108.3 489.4 108.1 501.9 105.7 514.4 106.6 526.8 109.3 539.2 111.3 551.7 115.1 564.1 115.0 576.6 106.7 589.0 92.0 601.5 78.4"/><path d="M352.5 66.6L364.9 47.6 377.4 55.3 389.9 55.6 402.3 62.5 414.8 100.0 427.2 99.9 439.6 102.0 452.1 101.8 464.6 106.3 477.0 108.6 489.4 108.9 501.9 105.0 514.4 98.9 526.8 76.9 539.2 93.7 551.7 79.3 564.1 44.2 576.6 78.2 589.0 82.0 601.5 99.3"/><path d="M352.5 105.2L364.9 100.8 377.4 96.7 389.9 98.8 402.3 93.4 414.8 93.5 427.2 79.2 439.6 101.3 452.1 106.8 464.6 109.4 477.0 110.6 489.4 110.5 501.9 98.0 514.4 99.0 526.8 88.5 539.2 99.4 551.7 102.0 564.1 92.8 576.6 79.9 589.0 99.1 601.5 74.4"/><path d="M352.5 99.2L364.9 93.5 377.4 98.1 389.9 107.5 402.3 102.3 414.8 96.6 427.2 91.1 439.6 105.9 452.1 109.9 464.6 109.9 477.0 105.8 489.4 98.1 501.9 102.5 514.4 105.8 526.8 97.9 539.2 98.0 551.7 93.1 564.1 79.5 576.6 73.3 589.0 92.6 601.5 101.9"/><path d="M352.5 78.9L364.9 67.5 377.4 89.5 389.9 95.4 402.3 102.2 414.8 102.5 427.2 107.3 439.6 110.6 452.1 104.4 464.6 102.2 477.0 103.9 489.4 97.4 501.9 103.4 514.4 97.7 526.8 100.5 539.2 102.3 551.7 92.6 564.1 101.2 576.6 101.5 589.0 108.1 601.5 113.1"/><path d="M352.5 91.0L364.9 103.7 377.4 82.2 389.9 68.3 402.3 90.1 414.8 91.5 427.2 95.5 439.6 103.5 452.1 110.1 464.6 109.8 477.0 109.8 489.4 104.7 501.9 104.2 514.4 106.4 526.8 106.1 539.2 102.4 551.7 93.3 564.1 101.8 576.6 97.2 589.0 84.5 601.5 100.5"/><path d="M352.5 97.9L364.9 97.3 377.4 100.6 389.9 96.7 402.3 93.6 414.8 92.9 427.2 68.9 439.6 103.7 452.1 107.1 464.6 112.1 477.0 111.4 489.4 112.0 501.9 111.0 514.4 107.8 526.8 106.7 539.2 96.4 551.7 105.6 564.1 105.7 576.6 101.5 589.0 88.1 601.5 100.8"/><path d="M352.5 83.9L364.9 86.6 377.4 100.4 389.9 90.3 402.3 90.5 414.8 96.8 427.2 101.1 439.6 102.9 452.1 106.0 464.6 106.2 477.0 105.5 489.4 108.9 501.9 112.8 514.4 102.5 526.8 101.2 539.2 80.8 551.7 82.8 564.1 107.1 576.6 100.4 589.0 104.8 601.5 115.0"/><path d="M352.5 103.3L364.9 101.8 377.4 90.7 389.9 85.4 402.3 89.1 414.8 93.1 427.2 96.6 439.6 103.9 452.1 109.0 464.6 110.4 477.0 109.2 489.4 110.6 501.9 109.9 514.4 106.7 526.8 107.6 539.2 96.6 551.7 83.0 564.1 84.3 576.6 95.4 589.0 109.5 601.5 115.0"/><path d="M352.5 89.4L364.9 95.7 377.4 106.6 389.9 104.6 402.3 96.1 414.8 96.5 427.2 104.9 439.6 85.5 452.1 91.1 464.6 105.9 477.0 105.2 489.4 103.6 501.9 100.2 514.4 95.9 526.8 101.4 539.2 95.8 551.7 100.6 564.1 97.4 576.6 96.1 589.0 90.5 601.5 90.1"/><path d="M352.5 44.4L364.9 63.6 377.4 81.2 389.9 82.1 402.3 83.0 414.8 80.1 427.2 100.2 439.6 105.3 452.1 101.5 464.6 103.5 477.0 103.7 489.4 109.1 501.9 112.6 514.4 112.6 526.8 106.5 539.2 97.4 551.7 88.4 564.1 104.0 576.6 101.1 589.0 98.7 601.5 100.6"/><path d="M352.5 103.2L364.9 103.1 377.4 115.0 389.9 101.9 402.3 99.2 414.8 89.9 427.2 100.5 439.6 110.6 452.1 102.5 464.6 112.2 477.0 114.4 489.4 109.7 501.9 103.3 514.4 104.3 526.8 101.3 539.2 99.9 551.7 94.5 564.1 100.2 576.6 93.4 589.0 85.2 601.5 90.1"/><path d="M352.5 44.4L364.9 57.7 377.4 79.3 389.9 72.6 402.3 66.6 414.8 88.9 427.2 100.8 439.6 94.7 452.1 90.8 464.6 88.0 477.0 85.6 489.4 99.6 501.9 108.0 514.4 100.1 526.8 87.1 539.2 85.2 551.7 78.1 564.1 91.5 576.6 98.8 589.0 98.2 601.5 94.1"/><path d="M352.5 92.4L364.9 87.5 377.4 76.1 389.9 78.2 402.3 89.9 414.8 77.5 427.2 97.6 439.6 100.2 452.1 89.7 464.6 85.2 477.0 85.6 489.4 88.4 501.9 105.4 514.4 104.5 526.8 100.2 539.2 96.2 551.7 101.7 564.1 102.4 576.6 97.3 589.0 95.7 601.5 82.4"/><path d="M352.5 82.2L364.9 91.0 377.4 91.0 389.9 105.9 402.3 105.3 414.8 112.9 427.2 108.2 439.6 104.9 452.1 105.2 464.6 99.7 477.0 105.6 489.4 105.7 501.9 107.0 514.4 105.2 526.8 90.9 539.2 99.9 551.7 82.1 564.1 62.8 576.6 61.5 589.0 79.6 601.5 81.6"/><path d="M352.5 63.5L364.9 88.5 377.4 97.3 389.9 96.3 402.3 112.7 414.8 99.4 427.2 102.4 439.6 100.4 452.1 102.1 464.6 110.4 477.0 109.2 489.4 106.7 501.9 109.7 514.4 110.4 526.8 111.1 539.2 100.8 551.7 106.5 564.1 108.5 576.6 103.9 589.0 99.8 601.5 102.2"/><path d="M352.5 59.8L364.9 88.6 377.4 68.4 389.9 73.3 402.3 74.5 414.8 75.9 427.2 98.2 439.6 106.9 452.1 105.2 464.6 108.8 477.0 94.4 489.4 101.1 501.9 95.9 514.4 101.5 526.8 72.0 539.2 49.1 551.7 84.4 564.1 81.9 576.6 83.3 589.0 62.3 601.5 99.5"/><path d="M352.5 77.2L364.9 87.1 377.4 94.6 389.9 105.3 402.3 100.3 414.8 102.1 427.2 110.3 439.6 108.3 452.1 110.6 464.6 109.2 477.0 106.8 489.4 101.6 501.9 100.9 514.4 104.3 526.8 101.3 539.2 100.7 551.7 91.1 564.1 97.0 576.6 79.9 589.0 86.1 601.5 81.7"/><path d="M352.5 71.2L364.9 87.2 377.4 70.3 389.9 75.9 402.3 75.5 414.8 80.1 427.2 96.4 439.6 91.0 452.1 105.7 464.6 106.8 477.0 104.3 489.4 99.1 501.9 104.5 514.4 104.1 526.8 101.2 539.2 104.6 551.7 103.2 564.1 106.6 576.6 99.0 589.0 99.4 601.5 104.0"/><path d="M352.5 90.2L364.9 97.9 377.4 107.2 389.9 111.5 402.3 105.5 414.8 114.8 427.2 110.2 439.6 105.3 452.1 108.6 464.6 109.9 477.0 113.6 489.4 114.6 501.9 114.0 514.4 109.3 526.8 107.1 539.2 110.4 551.7 109.8 564.1 113.9 576.6 95.6 589.0 100.3 601.5 86.5"/><path d="M352.5 102.4L364.9 89.2 377.4 93.5 389.9 73.0 402.3 73.5 414.8 67.5 427.2 97.4 439.6 100.5 452.1 104.8 464.6 99.2 477.0 104.8 489.4 105.1 501.9 107.8 514.4 111.8 526.8 104.0 539.2 103.0 551.7 98.4 564.1 103.9 576.6 101.4 589.0 106.0 601.5 106.9"/><path d="M352.5 98.2L364.9 93.4 377.4 102.8 389.9 104.2 402.3 93.8 414.8 101.6 427.2 112.0 439.6 104.8 452.1 106.7 464.6 111.1 477.0 113.7 489.4 110.1 501.9 112.6 514.4 115.3 526.8 108.7 539.2 103.4 551.7 97.3 564.1 100.4 576.6 95.7 589.0 103.2 601.5 104.0"/><path d="M352.5 89.7L364.9 80.4 377.4 77.1 389.9 93.2 402.3 98.4 414.8 95.3 427.2 88.8 439.6 92.7 452.1 101.1 464.6 103.2 477.0 98.1 489.4 89.3 501.9 99.2 514.4 102.9 526.8 98.0 539.2 98.8 551.7 96.7 564.1 100.9 576.6 95.3 589.0 90.5 601.5 72.4"/><path d="M352.5 87.6L364.9 96.0 377.4 88.1 389.9 95.2 402.3 104.8 414.8 104.9 427.2 110.9 439.6 100.9 452.1 97.4 464.6 93.5 477.0 101.9 489.4 103.8 501.9 103.3 514.4 103.1 526.8 99.0 539.2 93.3 551.7 98.4 564.1 97.2 576.6 84.0 589.0 86.5 601.5 102.9"/><path d="M352.5 99.1L364.9 101.0 377.4 97.7 389.9 103.6 402.3 91.0 414.8 96.5 427.2 96.4 439.6 104.7 452.1 113.3 464.6 110.2 477.0 107.2 489.4 102.6 501.9 103.9 514.4 100.5 526.8 101.5 539.2 108.3 551.7 103.7 564.1 97.1 576.6 92.1 589.0 84.1 601.5 75.3"/><path d="M352.5 80.4L364.9 82.6 377.4 91.9 389.9 106.9 402.3 102.2 414.8 93.3 427.2 93.8 439.6 82.3 452.1 86.7 464.6 106.7 477.0 102.2 489.4 106.3 501.9 105.7 514.4 103.8 526.8 98.8 539.2 75.9 551.7 57.4 564.1 87.5 576.6 80.8 589.0 90.9 601.5 73.4"/><path d="M352.5 92.5L364.9 80.2 377.4 66.9 389.9 62.9 402.3 59.2 414.8 71.6 427.2 76.5 439.6 87.1 452.1 92.0 464.6 97.1 477.0 108.0 489.4 106.5 501.9 98.8 514.4 102.8 526.8 99.3 539.2 113.0 551.7 103.3 564.1 97.6 576.6 85.5 589.0 61.7 601.5 83.8"/><path d="M352.5 80.1L364.9 87.9 377.4 81.4 389.9 98.1 402.3 98.2 414.8 104.6 427.2 111.1 439.6 107.9 452.1 111.1 464.6 111.6 477.0 111.4 489.4 115.5 501.9 112.1 514.4 107.1 526.8 101.2 539.2 99.6 551.7 85.1 564.1 82.9 576.6 94.8 589.0 91.3 601.5 78.5"/><path d="M352.5 91.3L364.9 87.4 377.4 81.2 389.9 81.3 402.3 89.6 414.8 88.1 427.2 95.3 439.6 101.1 452.1 96.2 464.6 103.1 477.0 107.3 489.4 104.6 501.9 107.5 514.4 98.3 526.8 93.3 539.2 79.0 551.7 82.9 564.1 94.8 576.6 113.6 589.0 113.7 601.5 99.7"/><path d="M352.5 77.2L364.9 67.9 377.4 94.2 389.9 97.4 402.3 97.9 414.8 88.7 427.2 78.8 439.6 97.0 452.1 97.0 464.6 100.2 477.0 107.2 489.4 101.7 501.9 90.0 514.4 99.2 526.8 89.1 539.2 94.9 551.7 82.8 564.1 69.1 576.6 81.8 589.0 88.1 601.5 67.7"/><path d="M352.5 73.7L364.9 96.9 377.4 106.5 389.9 95.6 402.3 94.3 414.8 98.7 427.2 106.2 439.6 105.4 452.1 111.1 464.6 110.8 477.0 108.0 489.4 108.1 501.9 112.3 514.4 115.3 526.8 113.5 539.2 115.1 551.7 109.7 564.1 110.3 576.6 110.0 589.0 108.3 601.5 110.0"/><path d="M352.5 99.2L364.9 107.0 377.4 95.8 389.9 101.3 402.3 89.9 414.8 89.0 427.2 98.2 439.6 101.5 452.1 107.8 464.6 111.9 477.0 107.5 489.4 108.1 501.9 107.8 514.4 107.0 526.8 102.0 539.2 100.7 551.7 98.3 564.1 96.2 576.6 81.4 589.0 91.3 601.5 93.4"/><path d="M352.5 101.0L364.9 95.0 377.4 95.4 389.9 99.4 402.3 103.6 414.8 103.1 427.2 102.0 439.6 102.1 452.1 100.6 464.6 105.4 477.0 99.5 489.4 100.7 501.9 94.4 514.4 96.3 526.8 79.9 539.2 81.0 551.7 92.2 564.1 94.7 576.6 91.4 589.0 103.6 601.5 99.0"/><path d="M352.5 88.3L364.9 96.0 377.4 103.8 389.9 104.7 402.3 93.4 414.8 81.2 427.2 93.0 439.6 86.9 452.1 93.0 464.6 85.2 477.0 93.5 489.4 91.4 501.9 102.5 514.4 89.5 526.8 75.0 539.2 55.6 551.7 46.0 564.1 60.8 576.6 61.7 589.0 94.6 601.5 100.0"/><path d="M352.5 76.8L364.9 74.0 377.4 75.1 389.9 79.7 402.3 59.2 414.8 63.8 427.2 84.3 439.6 75.8 452.1 80.3 464.6 85.2 477.0 104.1 489.4 107.1 501.9 104.0 514.4 102.3 526.8 106.0 539.2 99.9 551.7 101.6 564.1 95.8 576.6 90.8 589.0 70.3 601.5 88.8"/><path d="M352.5 99.5L364.9 87.9 377.4 83.3 389.9 81.9 402.3 84.6 414.8 95.0 427.2 94.5 439.6 94.9 452.1 89.6 464.6 94.6 477.0 95.3 489.4 104.2 501.9 109.7 514.4 105.3 526.8 77.8 539.2 81.5 551.7 93.8 564.1 110.8 576.6 100.5 589.0 105.1 601.5 105.8"/><path d="M352.5 80.8L364.9 55.5 377.4 50.7 389.9 56.1 402.3 73.8 414.8 94.9 427.2 99.3 439.6 96.5 452.1 109.7 464.6 109.5 477.0 103.3 489.4 98.3 501.9 101.9 514.4 101.4 526.8 91.6 539.2 92.3 551.7 86.1 564.1 59.6 576.6 75.4 589.0 88.9 601.5 77.2"/><path d="M352.5 99.3L364.9 111.9 377.4 93.1 389.9 74.0 402.3 83.9 414.8 85.2 427.2 90.0 439.6 93.0 452.1 83.0 464.6 90.3 477.0 97.4 489.4 97.0 501.9 97.7 514.4 88.5 526.8 88.1 539.2 92.9 551.7 64.4 564.1 57.3 576.6 48.2 589.0 41.2 601.5 42.8"/><path d="M352.5 18.0L364.9 60.0 377.4 70.0 389.9 66.0 402.3 58.0 414.8 62.0 427.2 72.0 439.6 80.0 452.1 90.0 464.6 100.0 477.0 104.0 489.4 102.0 501.9 96.0 514.4 86.0 526.8 78.0 539.2 72.0 551.7 70.0 564.1 82.0 576.6 92.0 589.0 78.0 601.5 31.0"/><path d="M352.5 44.0L364.9 52.0 377.4 48.0 389.9 40.0 402.3 56.0 414.8 47.0 427.2 60.0 439.6 70.0 452.1 84.0 464.6 98.0 477.0 106.0 489.4 100.0 501.9 90.0 514.4 64.0 526.8 50.0 539.2 46.0 551.7 62.0 564.1 55.0 576.6 60.0 589.0 70.0 601.5 48.0"/><path d="M352.5 120.0L364.9 112.0 377.4 108.0 389.9 104.0 402.3 100.0 414.8 102.0 427.2 106.0 439.6 110.0 452.1 112.0 464.6 113.0 477.0 114.0 489.4 113.0 501.9 112.0 514.4 110.0 526.8 104.0 539.2 100.0 551.7 98.0 564.1 102.0 576.6 106.0 589.0 108.0 601.5 110.0"/><path d="M352.5 118.0L364.9 114.0 377.4 110.0 389.9 106.0 402.3 104.0 414.8 100.0 427.2 104.0 439.6 108.0 452.1 111.0 464.6 112.0 477.0 113.0 489.4 112.0 501.9 110.0 514.4 106.0 526.8 100.0 539.2 96.0 551.7 94.0 564.1 98.0 576.6 100.0 589.0 104.0 601.5 106.0"/></g>
<path d="M352.5 49.6L364.9 85.0 377.4 106.0 389.9 109.6 402.3 103.0 414.8 103.6 427.2 111.0 439.6 115.6 452.1 114.0 464.6 113.0 477.0 111.0 489.4 110.0 501.9 109.6 514.4 106.0 526.8 97.0 539.2 91.6 551.7 96.0 564.1 108.0 576.6 112.0 589.0 111.0 601.5 103.6" fill="none" stroke="#9a6cef" stroke-width="1.85" stroke-linejoin="round" stroke-linecap="butt"/>
<path d="M352.5 111.6L364.9 107.6 377.4 102.0 389.9 95.0 402.3 83.0 414.8 82.4 427.2 92.0 439.6 108.0 452.1 116.4 464.6 115.6 477.0 115.0 489.4 115.0 501.9 114.0 514.4 110.0 526.8 105.6 539.2 103.6 551.7 106.0 564.1 111.0 576.6 111.0 589.0 104.0 601.5 90.0" fill="none" stroke="#fb7748" stroke-width="1.85" stroke-linejoin="round" stroke-linecap="butt"/>
<line x1="340.30" y1="13.50" x2="340.30" y2="127.80" stroke="#1a1a1a" stroke-width="1.25"/>
<line x1="337.40" y1="19.00" x2="340.30" y2="19.00" stroke="#333" stroke-width="1.1"/>
<text x="334.90" y="22.50" text-anchor="end" class="tk">0.008</text>
<line x1="337.40" y1="43.20" x2="340.30" y2="43.20" stroke="#333" stroke-width="1.1"/>
<text x="334.90" y="46.70" text-anchor="end" class="tk">0.006</text>
<line x1="337.40" y1="67.40" x2="340.30" y2="67.40" stroke="#333" stroke-width="1.1"/>
<text x="334.90" y="70.90" text-anchor="end" class="tk">0.004</text>
<line x1="337.40" y1="91.60" x2="340.30" y2="91.60" stroke="#333" stroke-width="1.1"/>
<text x="334.90" y="95.10" text-anchor="end" class="tk">0.002</text>
<line x1="337.40" y1="115.80" x2="340.30" y2="115.80" stroke="#333" stroke-width="1.1"/>
<text x="334.90" y="119.30" text-anchor="end" class="tk">0.000</text>
<text x="477.25" y="7.10" text-anchor="middle" class="ti">(b) Precipitation [mm/day]</text>
<rect x="123.65" y="152.80" width="74.70" height="114.30" fill="#ebebeb"/>
<g fill="none" stroke="#000" stroke-opacity="0.5" stroke-width="0.55" stroke-linejoin="round"><path d="M36.5 217.3L49.0 232.1 61.4 231.9 73.9 217.0 86.3 208.3 98.8 212.4 111.2 204.8 123.7 205.6 136.1 186.9 148.6 193.8 161.0 201.0 173.4 191.9 185.9 190.4 198.3 194.5 210.8 201.0 223.2 213.3 235.7 208.0 248.1 201.0 260.6 206.8 273.1 219.0 285.5 216.9"/><path d="M36.5 212.5L49.0 197.5 61.4 206.1 73.9 222.3 86.3 222.1 98.8 217.9 111.2 195.8 123.7 189.4 136.1 173.9 148.6 177.2 161.0 187.0 173.4 195.6 185.9 196.4 198.3 207.0 210.8 212.7 223.2 218.3 235.7 217.8 248.1 215.5 260.6 195.5 273.1 200.8 285.5 207.5"/><path d="M36.5 192.9L49.0 198.5 61.4 205.2 73.9 186.6 86.3 194.8 98.8 190.8 111.2 179.8 123.7 179.3 136.1 172.7 148.6 168.9 161.0 164.0 173.4 164.1 185.9 162.0 198.3 167.8 210.8 170.2 223.2 175.2 235.7 179.1 248.1 183.2 260.6 189.2 273.1 205.4 285.5 212.7"/><path d="M36.5 205.7L49.0 194.1 61.4 201.2 73.9 203.6 86.3 209.4 98.8 205.9 111.2 197.1 123.7 178.2 136.1 180.0 148.6 168.8 161.0 166.8 173.4 172.9 185.9 176.0 198.3 183.6 210.8 194.9 223.2 186.9 235.7 189.8 248.1 200.6 260.6 209.1 273.1 198.9 285.5 208.8"/><path d="M36.5 213.0L49.0 200.6 61.4 188.3 73.9 187.8 86.3 198.9 98.8 201.2 111.2 189.1 123.7 186.1 136.1 188.8 148.6 183.4 161.0 179.3 173.4 183.2 185.9 172.9 198.3 183.9 210.8 181.3 223.2 188.1 235.7 193.0 248.1 193.3 260.6 189.3 273.1 189.2 285.5 198.9"/><path d="M36.5 179.6L49.0 175.3 61.4 182.5 73.9 190.5 86.3 190.3 98.8 186.3 111.2 189.0 123.7 182.7 136.1 192.3 148.6 193.8 161.0 201.0 173.4 194.0 185.9 190.8 198.3 196.4 210.8 195.9 223.2 197.2 235.7 204.9 248.1 197.0 260.6 195.7 273.1 209.6 285.5 213.5"/><path d="M36.5 214.5L49.0 210.9 61.4 202.4 73.9 197.7 86.3 198.6 98.8 193.0 111.2 189.7 123.7 183.0 136.1 179.8 148.6 185.5 161.0 187.1 173.4 180.3 185.9 180.9 198.3 199.9 210.8 223.1 223.2 215.6 235.7 216.3 248.1 213.6 260.6 194.2 273.1 199.1 285.5 217.8"/><path d="M36.5 192.0L49.0 190.5 61.4 199.7 73.9 195.0 86.3 191.0 98.8 193.2 111.2 179.4 123.7 181.2 136.1 171.0 148.6 170.5 161.0 175.5 173.4 186.7 185.9 183.1 198.3 192.4 210.8 203.1 223.2 193.7 235.7 194.5 248.1 197.4 260.6 202.2 273.1 219.3 285.5 220.9"/><path d="M36.5 204.4L49.0 202.3 61.4 201.0 73.9 203.4 86.3 213.4 98.8 202.2 111.2 197.0 123.7 176.2 136.1 165.1 148.6 166.5 161.0 159.0 173.4 163.0 185.9 174.2 198.3 177.5 210.8 179.5 223.2 187.4 235.7 186.1 248.1 188.4 260.6 185.6 273.1 195.5 285.5 200.6"/><path d="M36.5 203.8L49.0 182.2 61.4 179.6 73.9 182.2 86.3 189.1 98.8 184.4 111.2 186.8 123.7 189.1 136.1 181.5 148.6 182.1 161.0 179.9 173.4 175.3 185.9 177.3 198.3 193.2 210.8 204.9 223.2 209.1 235.7 213.8 248.1 216.4 260.6 215.8 273.1 202.6 285.5 184.2"/><path d="M36.5 175.0L49.0 194.4 61.4 200.2 73.9 186.5 86.3 192.9 98.8 181.7 111.2 181.4 123.7 185.0 136.1 180.8 148.6 181.7 161.0 184.8 173.4 176.0 185.9 177.3 198.3 187.7 210.8 191.4 223.2 186.5 235.7 198.9 248.1 200.2 260.6 195.8 273.1 190.6 285.5 192.2"/><path d="M36.5 224.3L49.0 213.0 61.4 212.2 73.9 210.1 86.3 204.3 98.8 201.6 111.2 196.0 123.7 184.2 136.1 172.3 148.6 174.3 161.0 181.4 173.4 185.2 185.9 181.1 198.3 188.7 210.8 192.6 223.2 187.7 235.7 182.4 248.1 181.4 260.6 187.8 273.1 182.1 285.5 194.4"/><path d="M36.5 204.6L49.0 212.8 61.4 216.5 73.9 213.3 86.3 209.8 98.8 209.0 111.2 203.9 123.7 201.4 136.1 205.1 148.6 199.7 161.0 203.0 173.4 204.5 185.9 202.4 198.3 211.8 210.8 226.8 223.2 234.0 235.7 225.3 248.1 228.3 260.6 220.3 273.1 219.3 285.5 224.9"/><path d="M36.5 207.9L49.0 198.0 61.4 187.3 73.9 184.2 86.3 180.2 98.8 197.4 111.2 185.6 123.7 173.6 136.1 185.6 148.6 172.5 161.0 169.4 173.4 174.9 185.9 177.3 198.3 187.1 210.8 206.5 223.2 227.4 235.7 224.1 248.1 222.2 260.6 217.0 273.1 213.5 285.5 210.7"/><path d="M36.5 208.3L49.0 201.2 61.4 201.9 73.9 196.2 86.3 186.7 98.8 184.3 111.2 180.1 123.7 174.6 136.1 170.6 148.6 172.1 161.0 164.9 173.4 172.8 185.9 171.7 198.3 178.8 210.8 194.7 223.2 206.3 235.7 191.6 248.1 194.9 260.6 204.5 273.1 198.4 285.5 196.3"/><path d="M36.5 227.4L49.0 208.6 61.4 218.9 73.9 203.2 86.3 194.9 98.8 189.5 111.2 182.9 123.7 184.8 136.1 183.4 148.6 180.1 161.0 179.7 173.4 172.1 185.9 171.0 198.3 185.2 210.8 183.6 223.2 200.4 235.7 198.5 248.1 191.1 260.6 197.5 273.1 204.5 285.5 200.2"/><path d="M36.5 192.8L49.0 185.3 61.4 182.0 73.9 169.6 86.3 169.2 98.8 176.7 111.2 172.3 123.7 174.1 136.1 177.5 148.6 175.5 161.0 172.1 173.4 171.3 185.9 170.8 198.3 180.7 210.8 184.9 223.2 196.9 235.7 209.7 248.1 211.1 260.6 199.5 273.1 203.6 285.5 203.3"/><path d="M36.5 196.5L49.0 189.6 61.4 188.4 73.9 213.2 86.3 230.8 98.8 229.8 111.2 218.5 123.7 209.2 136.1 206.6 148.6 195.6 161.0 195.3 173.4 200.0 185.9 206.0 198.3 215.2 210.8 227.8 223.2 226.3 235.7 219.0 248.1 216.3 260.6 213.0 273.1 219.3 285.5 221.9"/><path d="M36.5 199.9L49.0 211.7 61.4 205.0 73.9 206.9 86.3 207.3 98.8 200.0 111.2 194.5 123.7 190.8 136.1 182.6 148.6 171.8 161.0 185.6 173.4 182.4 185.9 181.5 198.3 187.5 210.8 195.1 223.2 206.4 235.7 210.6 248.1 204.3 260.6 206.0 273.1 211.9 285.5 211.0"/><path d="M36.5 223.9L49.0 219.7 61.4 221.1 73.9 207.7 86.3 217.4 98.8 212.0 111.2 197.4 123.7 186.3 136.1 178.3 148.6 177.5 161.0 165.1 173.4 163.7 185.9 173.7 198.3 189.4 210.8 190.3 223.2 198.0 235.7 200.7 248.1 199.7 260.6 196.9 273.1 205.9 285.5 206.4"/><path d="M36.5 210.8L49.0 215.6 61.4 204.7 73.9 196.5 86.3 212.9 98.8 203.2 111.2 206.0 123.7 207.0 136.1 200.4 148.6 191.9 161.0 189.5 173.4 186.2 185.9 187.7 198.3 194.7 210.8 200.7 223.2 203.7 235.7 210.1 248.1 209.4 260.6 207.9 273.1 224.3 285.5 225.2"/><path d="M36.5 218.6L49.0 207.4 61.4 197.6 73.9 201.4 86.3 207.5 98.8 184.1 111.2 187.8 123.7 190.1 136.1 186.6 148.6 186.2 161.0 179.4 173.4 183.4 185.9 179.2 198.3 186.4 210.8 192.4 223.2 200.0 235.7 191.3 248.1 195.3 260.6 199.4 273.1 210.3 285.5 207.6"/><path d="M36.5 215.0L49.0 205.8 61.4 208.0 73.9 200.7 86.3 191.5 98.8 187.4 111.2 195.9 123.7 200.2 136.1 194.4 148.6 189.1 161.0 189.0 173.4 181.6 185.9 193.6 198.3 195.7 210.8 196.2 223.2 200.7 235.7 194.4 248.1 198.1 260.6 203.6 273.1 203.3 285.5 207.0"/><path d="M36.5 195.3L49.0 181.7 61.4 175.6 73.9 194.0 86.3 193.1 98.8 179.8 111.2 171.7 123.7 166.7 136.1 172.1 148.6 171.9 161.0 179.9 173.4 191.5 185.9 194.9 198.3 205.3 210.8 224.5 223.2 223.0 235.7 217.6 248.1 203.7 260.6 209.3 273.1 204.6 285.5 209.1"/><path d="M36.5 245.6L49.0 226.6 61.4 216.3 73.9 204.7 86.3 194.2 98.8 199.3 111.2 183.7 123.7 183.3 136.1 181.1 148.6 183.7 161.0 173.0 173.4 169.0 185.9 177.5 198.3 175.2 210.8 183.8 223.2 199.3 235.7 188.9 248.1 183.8 260.6 192.6 273.1 185.9 285.5 195.8"/><path d="M36.5 226.0L49.0 219.8 61.4 213.7 73.9 209.4 86.3 201.1 98.8 205.3 111.2 203.9 123.7 196.9 136.1 192.6 148.6 179.5 161.0 173.4 173.4 164.3 185.9 165.0 198.3 178.7 210.8 188.0 223.2 190.5 235.7 189.4 248.1 188.4 260.6 197.4 273.1 190.8 285.5 203.1"/><path d="M36.5 213.9L49.0 197.1 61.4 201.5 73.9 205.3 86.3 199.6 98.8 211.4 111.2 198.4 123.7 190.3 136.1 187.1 148.6 185.2 161.0 182.5 173.4 188.3 185.9 185.4 198.3 196.0 210.8 203.8 223.2 208.1 235.7 199.9 248.1 199.2 260.6 189.2 273.1 181.4 285.5 183.9"/><path d="M36.5 219.4L49.0 205.4 61.4 206.8 73.9 221.1 86.3 219.5 98.8 219.6 111.2 209.2 123.7 188.9 136.1 182.2 148.6 179.1 161.0 172.2 173.4 175.6 185.9 173.9 198.3 187.0 210.8 195.9 223.2 203.0 235.7 205.4 248.1 203.4 260.6 214.0 273.1 206.6 285.5 201.6"/><path d="M36.5 203.9L49.0 203.5 61.4 191.3 73.9 198.9 86.3 196.0 98.8 200.0 111.2 191.0 123.7 183.7 136.1 182.5 148.6 176.7 161.0 172.7 173.4 176.8 185.9 183.0 198.3 189.4 210.8 201.0 223.2 199.8 235.7 202.9 248.1 196.8 260.6 199.9 273.1 194.4 285.5 199.0"/><path d="M36.5 222.3L49.0 217.6 61.4 199.8 73.9 209.3 86.3 201.3 98.8 183.5 111.2 194.2 123.7 185.3 136.1 185.8 148.6 182.7 161.0 191.0 173.4 198.9 185.9 188.4 198.3 198.2 210.8 199.3 223.2 203.3 235.7 201.2 248.1 199.6 260.6 191.5 273.1 198.5 285.5 206.9"/><path d="M36.5 218.6L49.0 229.7 61.4 220.3 73.9 208.1 86.3 205.4 98.8 184.2 111.2 180.3 123.7 170.4 136.1 163.5 148.6 160.0 161.0 159.0 173.4 160.5 185.9 162.0 198.3 167.8 210.8 170.2 223.2 175.2 235.7 184.1 248.1 186.7 260.6 201.7 273.1 208.7 285.5 200.8"/><path d="M36.5 199.7L49.0 211.3 61.4 196.4 73.9 187.3 86.3 173.5 98.8 174.3 111.2 180.2 123.7 184.7 136.1 179.8 148.6 169.2 161.0 170.4 173.4 171.7 185.9 178.1 198.3 186.9 210.8 203.0 223.2 202.4 235.7 201.8 248.1 200.2 260.6 196.9 273.1 201.9 285.5 189.9"/><path d="M36.5 176.6L49.0 168.2 61.4 170.0 73.9 176.9 86.3 182.0 98.8 194.5 111.2 191.0 123.7 180.9 136.1 180.2 148.6 178.0 161.0 178.1 173.4 185.3 185.9 181.5 198.3 184.6 210.8 192.1 223.2 206.7 235.7 200.2 248.1 209.3 260.6 217.6 273.1 215.4 285.5 211.3"/><path d="M36.5 203.6L49.0 188.9 61.4 202.7 73.9 202.4 86.3 208.5 98.8 201.3 111.2 197.4 123.7 191.1 136.1 196.0 148.6 184.0 161.0 188.8 173.4 189.2 185.9 189.4 198.3 186.8 210.8 194.1 223.2 196.8 235.7 201.8 248.1 198.4 260.6 194.8 273.1 204.1 285.5 207.8"/><path d="M36.5 197.3L49.0 199.1 61.4 202.6 73.9 199.5 86.3 197.4 98.8 207.6 111.2 200.7 123.7 181.0 136.1 183.5 148.6 186.7 161.0 190.2 173.4 195.0 185.9 183.8 198.3 186.3 210.8 195.0 223.2 201.6 235.7 201.2 248.1 192.2 260.6 188.9 273.1 188.8 285.5 199.0"/><path d="M36.5 242.1L49.0 218.2 61.4 213.4 73.9 202.2 86.3 206.7 98.8 205.6 111.2 202.0 123.7 195.8 136.1 186.0 148.6 177.8 161.0 175.3 173.4 181.9 185.9 193.2 198.3 206.0 210.8 213.8 223.2 227.6 235.7 225.0 248.1 220.7 260.6 218.2 273.1 211.5 285.5 200.9"/><path d="M36.5 191.6L49.0 190.5 61.4 192.8 73.9 183.0 86.3 182.6 98.8 170.5 111.2 180.0 123.7 174.5 136.1 167.5 148.6 170.7 161.0 171.1 173.4 168.3 185.9 180.5 198.3 183.5 210.8 194.5 223.2 195.9 235.7 202.2 248.1 207.1 260.6 201.7 273.1 198.4 285.5 209.9"/><path d="M36.5 209.5L49.0 214.7 61.4 213.3 73.9 218.0 86.3 217.8 98.8 210.5 111.2 214.1 123.7 205.1 136.1 198.4 148.6 193.1 161.0 196.9 173.4 192.1 185.9 192.5 198.3 199.4 210.8 207.3 223.2 203.7 235.7 184.5 248.1 182.7 260.6 192.5 273.1 194.6 285.5 194.2"/><path d="M36.5 202.0L49.0 208.5 61.4 204.8 73.9 200.4 86.3 202.4 98.8 208.5 111.2 204.2 123.7 198.7 136.1 183.0 148.6 171.0 161.0 171.6 173.4 171.3 185.9 171.3 198.3 181.1 210.8 193.9 223.2 219.9 235.7 210.0 248.1 209.6 260.6 224.3 273.1 218.7 285.5 223.8"/><path d="M36.5 186.0L49.0 198.9 61.4 192.7 73.9 197.1 86.3 202.0 98.8 197.1 111.2 183.0 123.7 175.6 136.1 175.3 148.6 176.3 161.0 180.0 173.4 176.8 185.9 186.0 198.3 196.4 210.8 205.4 223.2 204.9 235.7 197.4 248.1 183.3 260.6 182.4 273.1 185.3 285.5 200.6"/><path d="M36.5 218.2L49.0 203.5 61.4 206.8 73.9 196.1 86.3 210.4 98.8 226.6 111.2 218.7 123.7 205.6 136.1 206.0 148.6 199.8 161.0 199.0 173.4 199.4 185.9 195.0 198.3 206.2 210.8 225.6 223.2 228.8 235.7 222.1 248.1 216.4 260.6 219.8 273.1 228.3 285.5 226.5"/><path d="M36.5 184.8L49.0 191.6 61.4 190.8 73.9 193.2 86.3 207.5 98.8 215.5 111.2 194.6 123.7 184.5 136.1 182.1 148.6 170.3 161.0 160.9 173.4 163.3 185.9 165.1 198.3 172.3 210.8 181.2 223.2 183.6 235.7 185.1 248.1 186.7 260.6 195.5 273.1 183.2 285.5 189.8"/><path d="M36.5 170.5L49.0 168.2 61.4 172.2 73.9 177.9 86.3 181.9 98.8 182.0 111.2 180.6 123.7 173.5 136.1 173.3 148.6 178.5 161.0 166.5 173.4 168.0 185.9 167.0 198.3 167.8 210.8 170.2 223.2 177.4 235.7 175.8 248.1 176.4 260.6 176.4 273.1 176.2 285.5 178.4"/><path d="M36.5 196.7L49.0 206.7 61.4 200.7 73.9 190.1 86.3 191.7 98.8 188.8 111.2 185.3 123.7 166.7 136.1 169.8 148.6 168.5 161.0 170.5 173.4 175.5 185.9 186.5 198.3 193.7 210.8 201.5 223.2 213.1 235.7 219.0 248.1 218.0 260.6 213.9 273.1 211.4 285.5 207.8"/><path d="M36.5 192.8L49.0 201.2 61.4 196.2 73.9 200.3 86.3 192.8 98.8 199.6 111.2 194.3 123.7 198.1 136.1 195.6 148.6 191.2 161.0 185.5 173.4 183.5 185.9 182.9 198.3 189.7 210.8 193.1 223.2 203.3 235.7 207.5 248.1 204.8 260.6 215.7 273.1 216.7 285.5 206.5"/><path d="M36.5 201.7L49.0 201.7 61.4 198.1 73.9 199.3 86.3 191.3 98.8 190.3 111.2 186.6 123.7 185.6 136.1 179.4 148.6 173.1 161.0 172.7 173.4 176.6 185.9 177.2 198.3 184.2 210.8 183.3 223.2 201.0 235.7 193.7 248.1 212.8 260.6 210.1 273.1 221.0 285.5 218.0"/><path d="M36.5 213.9L49.0 211.9 61.4 206.0 73.9 194.5 86.3 190.6 98.8 180.6 111.2 189.7 123.7 180.1 136.1 188.2 148.6 182.6 161.0 172.3 173.4 185.1 185.9 192.0 198.3 197.3 210.8 202.6 223.2 202.8 235.7 210.2 248.1 199.6 260.6 196.8 273.1 206.9 285.5 224.1"/><path d="M36.5 194.7L49.0 191.3 61.4 186.8 73.9 195.1 86.3 188.8 98.8 187.6 111.2 188.6 123.7 189.3 136.1 190.0 148.6 180.9 161.0 180.7 173.4 184.1 185.9 189.6 198.3 205.7 210.8 222.7 223.2 219.1 235.7 217.9 248.1 207.9 260.6 217.1 273.1 216.9 285.5 217.1"/><path d="M36.5 212.2L49.0 205.0 61.4 209.1 73.9 212.3 86.3 210.8 98.8 208.7 111.2 179.9 123.7 176.0 136.1 178.2 148.6 177.5 161.0 159.0 173.4 166.9 185.9 175.6 198.3 179.9 210.8 180.7 223.2 188.8 235.7 183.5 248.1 179.1 260.6 176.4 273.1 186.0 285.5 189.2"/><path d="M36.5 192.0L49.0 182.4 61.4 189.6 73.9 186.0 86.3 183.7 98.8 183.0 111.2 178.3 123.7 178.8 136.1 182.6 148.6 171.7 161.0 166.4 173.4 171.6 185.9 169.4 198.3 177.3 210.8 194.9 223.2 203.8 235.7 210.8 248.1 216.8 260.6 222.1 273.1 224.3 285.5 236.4"/><path d="M36.5 194.9L49.0 190.5 61.4 196.8 73.9 189.9 86.3 191.3 98.8 187.8 111.2 192.8 123.7 192.3 136.1 194.1 148.6 185.7 161.0 174.9 173.4 183.5 185.9 193.4 198.3 196.0 210.8 197.3 223.2 189.6 235.7 200.2 248.1 192.1 260.6 195.4 273.1 199.8 285.5 197.5"/><path d="M36.5 201.2L49.0 196.1 61.4 202.3 73.9 211.1 86.3 217.2 98.8 202.4 111.2 188.1 123.7 181.4 136.1 181.1 148.6 181.6 161.0 169.2 173.4 172.7 185.9 179.7 198.3 187.6 210.8 194.8 223.2 186.7 235.7 199.5 248.1 203.0 260.6 200.2 273.1 198.4 285.5 207.2"/><path d="M36.5 227.1L49.0 218.6 61.4 202.8 73.9 204.7 86.3 197.0 98.8 194.9 111.2 188.9 123.7 178.3 136.1 183.9 148.6 173.6 161.0 180.9 173.4 177.6 185.9 178.4 198.3 186.5 210.8 197.8 223.2 195.7 235.7 209.7 248.1 207.3 260.6 218.2 273.1 225.6 285.5 226.1"/><path d="M36.5 193.5L49.0 199.1 61.4 202.7 73.9 195.8 86.3 194.9 98.8 200.2 111.2 203.3 123.7 196.7 136.1 190.7 148.6 181.7 161.0 174.6 173.4 182.2 185.9 185.2 198.3 191.8 210.8 210.0 223.2 220.4 235.7 205.6 248.1 189.5 260.6 192.5 273.1 191.5 285.5 202.2"/><path d="M36.5 184.3L49.0 193.1 61.4 198.6 73.9 189.3 86.3 205.5 98.8 198.0 111.2 194.4 123.7 187.0 136.1 181.2 148.6 173.3 161.0 169.7 173.4 175.1 185.9 168.9 198.3 176.9 210.8 184.6 223.2 192.4 235.7 194.3 248.1 209.0 260.6 208.5 273.1 209.3 285.5 205.3"/><path d="M36.5 230.0L49.0 234.4 61.4 218.5 73.9 206.3 86.3 196.4 98.8 203.0 111.2 199.2 123.7 198.2 136.1 186.8 148.6 182.3 161.0 181.2 173.4 188.3 185.9 184.6 198.3 177.2 210.8 182.9 223.2 198.5 235.7 212.0 248.1 195.8 260.6 200.6 273.1 209.0 285.5 212.4"/><path d="M36.5 198.1L49.0 202.5 61.4 201.1 73.9 211.8 86.3 204.0 98.8 216.0 111.2 207.9 123.7 197.0 136.1 197.6 148.6 191.2 161.0 193.5 173.4 196.2 185.9 193.5 198.3 199.6 210.8 224.0 223.2 217.7 235.7 218.2 248.1 223.8 260.6 225.8 273.1 235.5 285.5 228.6"/><path d="M36.5 221.0L49.0 226.1 61.4 207.0 73.9 208.6 86.3 202.7 98.8 196.9 111.2 198.5 123.7 195.5 136.1 198.1 148.6 193.7 161.0 181.7 173.4 180.1 185.9 184.0 198.3 196.4 210.8 201.5 223.2 210.6 235.7 204.5 248.1 212.7 260.6 213.4 273.1 217.7 285.5 197.9"/><path d="M36.5 207.0L49.0 206.8 61.4 198.6 73.9 193.4 86.3 198.5 98.8 192.8 111.2 190.6 123.7 173.9 136.1 176.7 148.6 164.4 161.0 159.0 173.4 160.7 185.9 162.0 198.3 167.8 210.8 171.1 223.2 177.6 235.7 191.6 248.1 193.7 260.6 202.9 273.1 198.0 285.5 202.2"/><path d="M36.5 245.6L49.0 240.8 61.4 230.0 73.9 219.9 86.3 212.2 98.8 213.1 111.2 191.2 123.7 192.6 136.1 189.9 148.6 183.3 161.0 186.3 173.4 174.5 185.9 186.2 198.3 194.8 210.8 211.0 223.2 207.6 235.7 209.7 248.1 208.4 260.6 214.7 273.1 206.6 285.5 226.0"/><path d="M36.5 212.2L49.0 223.8 61.4 219.8 73.9 216.2 86.3 213.0 98.8 217.9 111.2 214.6 123.7 200.5 136.1 191.2 148.6 189.0 161.0 181.2 173.4 185.4 185.9 183.2 198.3 197.0 210.8 210.4 223.2 218.4 235.7 214.4 248.1 220.1 260.6 216.3 273.1 228.5 285.5 220.0"/><path d="M36.5 212.8L49.0 206.4 61.4 216.9 73.9 219.5 86.3 221.2 98.8 213.0 111.2 205.9 123.7 192.9 136.1 184.1 148.6 188.1 161.0 180.5 173.4 184.3 185.9 190.8 198.3 202.7 210.8 225.1 223.2 214.8 235.7 220.6 248.1 229.4 260.6 219.3 273.1 220.2 285.5 219.3"/><path d="M36.5 193.7L49.0 201.6 61.4 194.8 73.9 197.2 86.3 200.4 98.8 187.9 111.2 180.2 123.7 177.2 136.1 184.0 148.6 180.3 161.0 180.9 173.4 173.5 185.9 188.3 198.3 197.5 210.8 212.8 223.2 226.5 235.7 226.6 248.1 218.4 260.6 211.0 273.1 224.4 285.5 213.5"/><path d="M36.5 227.0L49.0 238.6 61.4 226.6 73.9 218.7 86.3 220.4 98.8 222.0 111.2 215.6 123.7 216.4 136.1 210.2 148.6 204.0 161.0 203.0 173.4 204.5 185.9 206.0 198.3 216.2 210.8 231.8 223.2 236.8 235.7 235.2 248.1 233.6 260.6 215.9 273.1 206.7 285.5 198.6"/><path d="M36.5 261.0L49.0 240.0 61.4 222.0 73.9 214.0 86.3 210.0 98.8 206.0 111.2 200.0 123.7 196.0 136.1 186.0 148.6 180.0 161.0 178.0 173.4 180.0 185.9 184.0 198.3 192.0 210.8 216.0 223.2 238.0 235.7 240.0 248.1 236.0 260.6 232.0 273.1 240.0 285.5 250.0"/><path d="M36.5 160.0L49.0 170.0 61.4 180.0 73.9 176.0 86.3 172.0 98.8 168.0 111.2 166.0 123.7 162.0 136.1 160.0 148.6 160.0 161.0 160.0 173.4 162.0 185.9 166.0 198.3 176.0 210.8 196.0 223.2 206.0 235.7 212.0 248.1 216.0 260.6 222.0 273.1 234.0 285.5 246.0"/></g>
<path d="M36.5 209.6L49.0 200.0 61.4 193.0 73.9 190.0 86.3 189.6 98.8 188.0 111.2 181.6 123.7 174.0 136.1 168.0 148.6 165.6 161.0 167.0 173.4 169.0 185.9 171.0 198.3 177.0 210.8 188.0 223.2 197.0 235.7 191.0 248.1 175.0 260.6 173.6 273.1 189.0 285.5 222.0" fill="none" stroke="#9a6cef" stroke-width="1.85" stroke-linejoin="round" stroke-linecap="butt"/>
<path d="M36.5 181.6L49.0 180.6 61.4 183.0 73.9 187.6 86.3 198.0 98.8 200.6 111.2 191.0 123.7 178.0 136.1 163.6 148.6 161.0 161.0 161.6 173.4 159.6 185.9 159.6 198.3 164.4 210.8 173.6 223.2 178.6 235.7 176.0 248.1 170.4 260.6 171.6 273.1 180.0 285.5 195.0" fill="none" stroke="#fb7748" stroke-width="1.85" stroke-linejoin="round" stroke-linecap="butt"/>
<line x1="24.40" y1="152.80" x2="24.40" y2="267.10" stroke="#1a1a1a" stroke-width="1.25"/>
<line x1="21.50" y1="158.60" x2="24.40" y2="158.60" stroke="#333" stroke-width="1.1"/>
<text x="19.00" y="162.10" text-anchor="end" class="tk">150</text>
<line x1="21.50" y1="186.20" x2="24.40" y2="186.20" stroke="#333" stroke-width="1.1"/>
<text x="19.00" y="189.70" text-anchor="end" class="tk">120</text>
<line x1="21.50" y1="213.80" x2="24.40" y2="213.80" stroke="#333" stroke-width="1.1"/>
<text x="19.00" y="217.30" text-anchor="end" class="tk">90</text>
<line x1="21.50" y1="241.40" x2="24.40" y2="241.40" stroke="#333" stroke-width="1.1"/>
<text x="19.00" y="244.90" text-anchor="end" class="tk">60</text>
<text x="161.35" y="146.40" text-anchor="middle" class="ti">(c) Net Shortwave Radiation [W/m^2]</text>
<rect x="439.65" y="152.80" width="74.70" height="114.30" fill="#ebebeb"/>
<g fill="none" stroke="#000" stroke-opacity="0.5" stroke-width="0.55" stroke-linejoin="round"><path d="M352.5 242.0L364.9 225.8 377.4 228.7 389.9 216.5 402.3 222.6 414.8 208.0 427.2 199.9 439.6 193.5 452.1 178.3 464.6 181.4 477.0 170.6 489.4 165.1 501.9 166.1 514.4 178.7 526.8 182.1 539.2 207.2 551.7 208.1 564.1 205.5 576.6 208.9 589.0 207.3 601.5 197.9"/><path d="M352.5 210.6L364.9 213.1 377.4 225.9 389.9 225.1 402.3 225.5 414.8 205.8 427.2 200.9 439.6 197.8 452.1 203.8 464.6 206.6 477.0 201.6 489.4 202.0 501.9 200.9 514.4 203.0 526.8 214.7 539.2 219.4 551.7 221.7 564.1 224.8 576.6 220.1 589.0 227.5 601.5 215.4"/><path d="M352.5 221.2L364.9 221.9 377.4 206.0 389.9 211.5 402.3 216.1 414.8 225.0 427.2 217.9 439.6 215.2 452.1 212.0 464.6 196.0 477.0 193.3 489.4 184.1 501.9 187.3 514.4 198.7 526.8 211.9 539.2 202.7 551.7 216.7 564.1 217.6 576.6 223.5 589.0 215.8 601.5 211.2"/><path d="M352.5 260.7L364.9 250.1 377.4 239.6 389.9 231.5 402.3 234.3 414.8 218.1 427.2 210.6 439.6 200.4 452.1 210.2 464.6 209.2 477.0 203.8 489.4 202.3 501.9 200.4 514.4 204.2 526.8 214.7 539.2 237.5 551.7 232.3 564.1 226.1 576.6 225.2 589.0 235.1 601.5 235.7"/><path d="M352.5 200.8L364.9 204.4 377.4 206.8 389.9 197.8 402.3 194.9 414.8 197.0 427.2 192.9 439.6 201.4 452.1 198.9 464.6 191.4 477.0 187.4 489.4 181.8 501.9 180.2 514.4 192.3 526.8 202.5 539.2 194.6 551.7 186.1 564.1 194.1 576.6 186.9 589.0 186.1 601.5 197.2"/><path d="M352.5 217.0L364.9 214.5 377.4 211.7 389.9 219.6 402.3 213.0 414.8 202.1 427.2 200.4 439.6 207.3 452.1 204.0 464.6 206.8 477.0 208.0 489.4 198.8 501.9 199.1 514.4 205.3 526.8 217.5 539.2 236.1 551.7 245.8 564.1 246.1 576.6 248.2 589.0 240.6 601.5 244.0"/><path d="M352.5 202.1L364.9 202.4 377.4 195.7 389.9 208.1 402.3 205.9 414.8 210.0 427.2 198.2 439.6 197.6 452.1 198.8 464.6 194.8 477.0 192.3 489.4 192.3 501.9 193.1 514.4 198.4 526.8 203.9 539.2 221.5 551.7 221.7 564.1 220.8 576.6 221.7 589.0 210.5 601.5 199.1"/><path d="M352.5 197.4L364.9 217.5 377.4 215.6 389.9 220.8 402.3 206.8 414.8 203.0 427.2 201.7 439.6 195.8 452.1 199.0 464.6 192.7 477.0 189.0 489.4 194.8 501.9 204.4 514.4 213.3 526.8 223.1 539.2 229.4 551.7 238.7 564.1 225.8 576.6 215.3 589.0 207.0 601.5 215.9"/><path d="M352.5 230.7L364.9 220.7 377.4 214.2 389.9 214.0 402.3 209.9 414.8 200.8 427.2 193.5 439.6 191.1 452.1 185.0 464.6 182.3 477.0 178.1 489.4 174.8 501.9 180.2 514.4 190.7 526.8 186.7 539.2 197.4 551.7 196.0 564.1 189.5 576.6 198.0 589.0 200.8 601.5 205.9"/><path d="M352.5 210.9L364.9 227.6 377.4 229.2 389.9 221.4 402.3 232.5 414.8 221.6 427.2 225.3 439.6 215.8 452.1 205.3 464.6 195.3 477.0 185.5 489.4 180.0 501.9 184.2 514.4 190.9 526.8 189.2 539.2 199.1 551.7 188.6 564.1 195.5 576.6 193.2 589.0 192.3 601.5 203.3"/><path d="M352.5 181.6L364.9 207.7 377.4 233.8 389.9 237.7 402.3 236.3 414.8 225.9 427.2 226.0 439.6 216.9 452.1 208.1 464.6 197.2 477.0 200.4 489.4 202.7 501.9 194.1 514.4 200.2 526.8 201.7 539.2 217.6 551.7 209.7 564.1 208.6 576.6 212.5 589.0 210.0 601.5 198.6"/><path d="M352.5 212.3L364.9 201.3 377.4 215.5 389.9 221.6 402.3 207.0 414.8 197.0 427.2 210.2 439.6 209.3 452.1 201.6 464.6 201.2 477.0 198.2 489.4 200.5 501.9 197.9 514.4 214.3 526.8 228.7 539.2 226.3 551.7 224.6 564.1 219.1 576.6 220.0 589.0 220.6 601.5 219.7"/><path d="M352.5 204.7L364.9 208.8 377.4 205.5 389.9 218.7 402.3 208.9 414.8 204.9 427.2 198.6 439.6 190.0 452.1 189.7 464.6 187.9 477.0 185.8 489.4 193.7 501.9 191.0 514.4 200.7 526.8 212.7 539.2 223.0 551.7 211.2 564.1 200.5 576.6 207.9 589.0 197.7 601.5 207.6"/><path d="M352.5 250.5L364.9 238.6 377.4 236.6 389.9 233.3 402.3 239.5 414.8 243.8 427.2 237.1 439.6 230.4 452.1 224.3 464.6 217.5 477.0 210.1 489.4 211.4 501.9 206.9 514.4 223.2 526.8 229.5 539.2 235.7 551.7 234.2 564.1 235.4 576.6 223.3 589.0 218.1 601.5 219.5"/><path d="M352.5 222.5L364.9 226.2 377.4 217.2 389.9 207.4 402.3 187.6 414.8 182.2 427.2 179.9 439.6 177.6 452.1 173.7 464.6 171.1 477.0 166.6 489.4 172.9 501.9 179.3 514.4 186.2 526.8 200.7 539.2 215.3 551.7 202.8 564.1 215.6 576.6 198.8 589.0 200.6 601.5 194.6"/><path d="M352.5 208.4L364.9 210.8 377.4 207.8 389.9 206.2 402.3 205.9 414.8 197.4 427.2 196.9 439.6 187.8 452.1 188.3 464.6 178.4 477.0 177.7 489.4 175.4 501.9 186.3 514.4 187.9 526.8 207.3 539.2 212.5 551.7 199.9 564.1 213.0 576.6 220.3 589.0 233.3 601.5 227.4"/><path d="M352.5 240.7L364.9 250.2 377.4 245.7 389.9 250.5 402.3 246.8 414.8 243.8 427.2 236.6 439.6 223.8 452.1 215.0 464.6 208.5 477.0 205.5 489.4 206.9 501.9 195.6 514.4 204.8 526.8 214.4 539.2 209.6 551.7 206.5 564.1 214.1 576.6 218.5 589.0 206.3 601.5 202.4"/><path d="M352.5 214.6L364.9 227.5 377.4 223.7 389.9 216.3 402.3 215.2 414.8 195.4 427.2 195.1 439.6 199.1 452.1 197.2 464.6 182.6 477.0 193.2 489.4 195.0 501.9 194.5 514.4 200.6 526.8 218.0 539.2 224.6 551.7 222.2 564.1 224.7 576.6 212.9 589.0 218.0 601.5 208.3"/><path d="M352.5 229.2L364.9 235.5 377.4 235.4 389.9 236.9 402.3 229.1 414.8 218.9 427.2 219.9 439.6 212.3 452.1 201.1 464.6 192.8 477.0 185.0 489.4 188.6 501.9 192.8 514.4 208.2 526.8 211.9 539.2 220.2 551.7 218.9 564.1 200.0 576.6 200.2 589.0 205.3 601.5 198.0"/><path d="M352.5 197.0L364.9 220.8 377.4 209.0 389.9 220.3 402.3 220.5 414.8 219.8 427.2 210.6 439.6 199.8 452.1 203.7 464.6 208.0 477.0 197.6 489.4 202.2 501.9 201.5 514.4 212.6 526.8 223.4 539.2 225.4 551.7 211.2 564.1 196.3 576.6 196.6 589.0 195.2 601.5 185.9"/><path d="M352.5 189.6L364.9 187.7 377.4 196.2 389.9 205.0 402.3 212.5 414.8 210.0 427.2 210.5 439.6 198.0 452.1 202.7 464.6 197.3 477.0 188.1 489.4 181.9 501.9 177.4 514.4 182.7 526.8 198.0 539.2 199.2 551.7 208.2 564.1 208.4 576.6 193.8 589.0 184.9 601.5 178.1"/><path d="M352.5 210.6L364.9 226.4 377.4 241.9 389.9 237.4 402.3 233.5 414.8 222.2 427.2 222.4 439.6 209.6 452.1 200.4 464.6 195.0 477.0 195.1 489.4 194.4 501.9 181.7 514.4 190.7 526.8 197.7 539.2 207.9 551.7 219.6 564.1 204.1 576.6 205.2 589.0 212.0 601.5 197.7"/><path d="M352.5 245.1L364.9 244.1 377.4 240.0 389.9 228.4 402.3 227.3 414.8 227.4 427.2 214.7 439.6 205.0 452.1 194.5 464.6 191.3 477.0 189.0 489.4 192.6 501.9 194.6 514.4 198.7 526.8 209.5 539.2 209.8 551.7 218.3 564.1 208.4 576.6 200.8 589.0 201.2 601.5 185.5"/><path d="M352.5 228.8L364.9 237.4 377.4 237.6 389.9 237.7 402.3 235.7 414.8 230.3 427.2 222.2 439.6 208.3 452.1 204.5 464.6 203.2 477.0 208.3 489.4 202.8 501.9 204.0 514.4 213.2 526.8 222.8 539.2 227.0 551.7 222.3 564.1 217.8 576.6 228.3 589.0 212.4 601.5 201.7"/><path d="M352.5 194.8L364.9 201.8 377.4 209.0 389.9 202.4 402.3 210.0 414.8 200.8 427.2 208.3 439.6 204.4 452.1 204.8 464.6 191.5 477.0 192.7 489.4 192.2 501.9 189.8 514.4 187.6 526.8 203.7 539.2 217.8 551.7 214.8 564.1 221.3 576.6 226.5 589.0 233.3 601.5 222.1"/><path d="M352.5 234.9L364.9 233.1 377.4 224.5 389.9 223.5 402.3 217.7 414.8 222.5 427.2 215.7 439.6 212.4 452.1 211.3 464.6 214.7 477.0 212.1 489.4 202.1 501.9 209.9 514.4 217.7 526.8 239.5 539.2 249.0 551.7 242.5 564.1 226.2 576.6 224.7 589.0 229.5 601.5 222.7"/><path d="M352.5 211.5L364.9 206.8 377.4 207.7 389.9 209.4 402.3 215.5 414.8 210.6 427.2 208.1 439.6 197.9 452.1 199.6 464.6 194.8 477.0 183.4 489.4 178.4 501.9 180.0 514.4 194.5 526.8 206.0 539.2 227.8 551.7 230.4 564.1 220.1 576.6 212.2 589.0 225.5 601.5 217.3"/><path d="M352.5 206.6L364.9 201.1 377.4 193.9 389.9 202.9 402.3 210.7 414.8 201.5 427.2 210.4 439.6 211.6 452.1 203.7 464.6 190.4 477.0 184.9 489.4 182.5 501.9 188.4 514.4 193.3 526.8 211.1 539.2 239.9 551.7 230.7 564.1 222.3 576.6 229.7 589.0 242.1 601.5 222.4"/><path d="M352.5 210.7L364.9 197.9 377.4 204.5 389.9 206.8 402.3 202.0 414.8 202.8 427.2 208.2 439.6 185.1 452.1 174.1 464.6 169.8 477.0 168.0 489.4 172.2 501.9 176.6 514.4 195.1 526.8 206.8 539.2 208.7 551.7 203.0 564.1 186.7 576.6 188.3 589.0 194.5 601.5 185.8"/><path d="M352.5 238.1L364.9 222.3 377.4 226.3 389.9 222.3 402.3 232.0 414.8 229.3 427.2 223.4 439.6 213.9 452.1 201.0 464.6 192.5 477.0 183.5 489.4 175.1 501.9 184.9 514.4 198.6 526.8 214.1 539.2 227.3 551.7 214.4 564.1 191.0 576.6 197.8 589.0 203.0 601.5 208.1"/><path d="M352.5 238.5L364.9 240.6 377.4 230.5 389.9 232.4 402.3 232.8 414.8 239.2 427.2 234.5 439.6 226.8 452.1 219.7 464.6 207.2 477.0 200.0 489.4 203.1 501.9 192.2 514.4 194.1 526.8 211.1 539.2 213.9 551.7 200.8 564.1 205.9 576.6 211.2 589.0 214.2 601.5 216.0"/><path d="M352.5 195.3L364.9 223.2 377.4 216.0 389.9 210.3 402.3 215.5 414.8 217.6 427.2 213.4 439.6 210.1 452.1 208.7 464.6 205.0 477.0 195.9 489.4 195.8 501.9 198.7 514.4 208.4 526.8 221.3 539.2 221.9 551.7 226.5 564.1 230.4 576.6 230.7 589.0 215.7 601.5 218.6"/><path d="M352.5 253.6L364.9 251.7 377.4 241.6 389.9 239.3 402.3 234.1 414.8 227.4 427.2 224.5 439.6 219.5 452.1 208.5 464.6 212.6 477.0 212.4 489.4 200.0 501.9 199.6 514.4 206.6 526.8 200.2 539.2 199.0 551.7 211.4 564.1 211.5 576.6 215.1 589.0 216.7 601.5 216.8"/><path d="M352.5 214.2L364.9 204.5 377.4 193.8 389.9 191.9 402.3 202.0 414.8 208.6 427.2 214.3 439.6 208.5 452.1 198.7 464.6 202.5 477.0 203.8 489.4 204.5 501.9 206.7 514.4 211.0 526.8 233.3 539.2 226.9 551.7 223.3 564.1 226.8 576.6 224.7 589.0 236.7 601.5 237.9"/><path d="M352.5 210.4L364.9 205.8 377.4 191.5 389.9 205.4 402.3 208.2 414.8 211.9 427.2 201.0 439.6 192.8 452.1 193.7 464.6 187.6 477.0 185.0 489.4 193.9 501.9 197.5 514.4 207.6 526.8 222.8 539.2 228.2 551.7 234.7 564.1 233.7 576.6 248.2 589.0 248.3 601.5 235.8"/><path d="M352.5 219.5L364.9 213.3 377.4 227.3 389.9 225.2 402.3 215.3 414.8 211.6 427.2 215.7 439.6 216.1 452.1 211.3 464.6 206.4 477.0 195.1 489.4 192.5 501.9 193.2 514.4 196.1 526.8 209.8 539.2 209.9 551.7 220.3 564.1 213.6 576.6 205.6 589.0 197.0 601.5 195.4"/><path d="M352.5 229.5L364.9 229.8 377.4 221.4 389.9 221.0 402.3 211.6 414.8 208.5 427.2 208.3 439.6 204.6 452.1 196.2 464.6 187.1 477.0 185.2 489.4 184.2 501.9 175.5 514.4 177.0 526.8 183.5 539.2 192.4 551.7 193.9 564.1 206.1 576.6 196.3 589.0 207.7 601.5 203.1"/><path d="M352.5 225.9L364.9 220.2 377.4 220.5 389.9 207.7 402.3 217.8 414.8 210.9 427.2 206.2 439.6 188.8 452.1 186.0 464.6 179.9 477.0 182.0 489.4 184.3 501.9 183.6 514.4 182.9 526.8 203.2 539.2 209.0 551.7 219.0 564.1 225.9 576.6 234.9 589.0 221.9 601.5 211.0"/><path d="M352.5 215.2L364.9 210.1 377.4 217.5 389.9 219.5 402.3 222.9 414.8 221.3 427.2 218.9 439.6 216.1 452.1 210.8 464.6 201.8 477.0 204.3 489.4 200.5 501.9 192.3 514.4 189.0 526.8 204.4 539.2 210.9 551.7 209.3 564.1 199.4 576.6 203.3 589.0 212.7 601.5 215.9"/><path d="M352.5 204.4L364.9 206.8 377.4 211.0 389.9 205.2 402.3 198.9 414.8 191.1 427.2 203.4 439.6 208.9 452.1 203.4 464.6 199.3 477.0 201.5 489.4 205.6 501.9 209.1 514.4 210.9 526.8 217.3 539.2 225.9 551.7 232.2 564.1 234.4 576.6 229.9 589.0 222.2 601.5 234.6"/><path d="M352.5 206.9L364.9 210.8 377.4 214.3 389.9 218.2 402.3 227.2 414.8 210.4 427.2 189.6 439.6 192.2 452.1 195.6 464.6 196.6 477.0 196.6 489.4 195.1 501.9 194.7 514.4 213.5 526.8 221.2 539.2 238.8 551.7 234.6 564.1 230.6 576.6 219.1 589.0 215.0 601.5 207.5"/><path d="M352.5 188.7L364.9 184.2 377.4 183.8 389.9 186.4 402.3 185.2 414.8 182.2 427.2 190.0 439.6 191.6 452.1 184.8 464.6 186.0 477.0 183.3 489.4 185.2 501.9 180.6 514.4 191.7 526.8 202.1 539.2 204.6 551.7 196.1 564.1 193.3 576.6 186.3 589.0 186.9 601.5 187.4"/><path d="M352.5 201.1L364.9 213.0 377.4 218.2 389.9 205.4 402.3 215.1 414.8 206.2 427.2 192.7 439.6 190.8 452.1 193.9 464.6 197.4 477.0 189.8 489.4 190.5 501.9 192.5 514.4 207.8 526.8 227.3 539.2 240.3 551.7 241.5 564.1 239.5 576.6 237.4 589.0 233.6 601.5 226.2"/><path d="M352.5 250.2L364.9 245.7 377.4 242.2 389.9 235.4 402.3 233.9 414.8 225.5 427.2 221.7 439.6 214.1 452.1 214.9 464.6 197.7 477.0 201.1 489.4 200.5 501.9 195.1 514.4 205.8 526.8 215.8 539.2 227.6 551.7 225.0 564.1 224.0 576.6 221.4 589.0 217.4 601.5 211.8"/><path d="M352.5 234.8L364.9 238.5 377.4 240.7 389.9 233.4 402.3 230.3 414.8 228.0 427.2 222.9 439.6 216.3 452.1 213.0 464.6 203.9 477.0 202.3 489.4 194.8 501.9 194.4 514.4 199.3 526.8 208.3 539.2 225.1 551.7 213.7 564.1 210.9 576.6 209.4 589.0 213.4 601.5 204.8"/><path d="M352.5 199.9L364.9 197.8 377.4 200.9 389.9 205.2 402.3 217.3 414.8 225.8 427.2 224.0 439.6 218.6 452.1 216.4 464.6 211.6 477.0 205.0 489.4 200.8 501.9 210.4 514.4 220.0 526.8 228.8 539.2 247.0 551.7 237.1 564.1 230.7 576.6 229.3 589.0 226.8 601.5 222.8"/><path d="M352.5 212.9L364.9 208.6 377.4 202.1 389.9 206.6 402.3 215.5 414.8 207.6 427.2 208.6 439.6 209.2 452.1 197.5 464.6 198.5 477.0 199.1 489.4 197.5 501.9 194.6 514.4 205.8 526.8 221.5 539.2 225.0 551.7 205.5 564.1 216.4 576.6 195.0 589.0 196.1 601.5 176.7"/><path d="M352.5 213.9L364.9 210.0 377.4 211.4 389.9 214.3 402.3 217.6 414.8 207.9 427.2 209.6 439.6 208.5 452.1 198.0 464.6 195.3 477.0 187.1 489.4 187.5 501.9 182.4 514.4 191.2 526.8 211.4 539.2 215.7 551.7 217.8 564.1 231.1 576.6 247.7 589.0 234.6 601.5 228.4"/><path d="M352.5 180.3L364.9 181.5 377.4 196.9 389.9 197.1 402.3 196.9 414.8 194.0 427.2 200.4 439.6 190.2 452.1 183.5 464.6 179.9 477.0 174.1 489.4 176.8 501.9 187.8 514.4 191.9 526.8 203.9 539.2 224.3 551.7 224.3 564.1 213.4 576.6 217.7 589.0 222.7 601.5 234.3"/><path d="M352.5 220.6L364.9 229.3 377.4 236.4 389.9 217.6 402.3 215.3 414.8 225.3 427.2 213.2 439.6 215.6 452.1 207.4 464.6 193.2 477.0 175.9 489.4 172.8 501.9 168.5 514.4 186.7 526.8 179.7 539.2 195.6 551.7 195.7 564.1 205.0 576.6 193.0 589.0 195.8 601.5 188.2"/><path d="M352.5 233.6L364.9 242.2 377.4 240.4 389.9 234.8 402.3 235.5 414.8 233.8 427.2 220.7 439.6 200.8 452.1 193.4 464.6 177.0 477.0 170.2 489.4 184.9 501.9 194.5 514.4 197.6 526.8 210.8 539.2 232.0 551.7 229.0 564.1 210.3 576.6 195.7 589.0 207.4 601.5 218.4"/><path d="M352.5 244.8L364.9 243.5 377.4 240.1 389.9 237.0 402.3 229.7 414.8 227.3 427.2 223.4 439.6 210.0 452.1 215.6 464.6 211.4 477.0 210.5 489.4 203.2 501.9 202.7 514.4 207.2 526.8 211.3 539.2 214.4 551.7 234.4 564.1 233.6 576.6 235.4 589.0 234.3 601.5 233.1"/><path d="M352.5 209.6L364.9 216.0 377.4 210.3 389.9 214.3 402.3 204.8 414.8 198.7 427.2 195.2 439.6 196.8 452.1 187.3 464.6 185.7 477.0 185.6 489.4 189.8 501.9 191.9 514.4 200.4 526.8 211.8 539.2 210.2 551.7 215.3 564.1 210.4 576.6 211.4 589.0 223.8 601.5 228.6"/><path d="M352.5 227.3L364.9 223.7 377.4 218.0 389.9 207.9 402.3 209.3 414.8 217.8 427.2 215.4 439.6 204.8 452.1 205.7 464.6 195.1 477.0 186.9 489.4 192.0 501.9 196.5 514.4 213.2 526.8 218.2 539.2 229.6 551.7 230.6 564.1 226.7 576.6 223.8 589.0 207.5 601.5 207.7"/><path d="M352.5 204.2L364.9 208.3 377.4 202.8 389.9 210.7 402.3 212.8 414.8 209.9 427.2 206.5 439.6 198.8 452.1 201.0 464.6 198.4 477.0 194.6 489.4 193.0 501.9 193.5 514.4 201.5 526.8 210.1 539.2 207.0 551.7 191.9 564.1 182.7 576.6 193.4 589.0 188.3 601.5 194.9"/><path d="M352.5 248.2L364.9 243.8 377.4 236.6 389.9 231.6 402.3 234.3 414.8 224.3 427.2 222.0 439.6 227.6 452.1 223.4 464.6 218.0 477.0 213.7 489.4 209.2 501.9 201.0 514.4 212.8 526.8 232.4 539.2 228.8 551.7 229.1 564.1 236.9 576.6 239.8 589.0 243.2 601.5 233.9"/><path d="M352.5 206.8L364.9 210.4 377.4 221.8 389.9 216.9 402.3 228.9 414.8 217.9 427.2 210.0 439.6 213.1 452.1 199.5 464.6 199.0 477.0 198.3 489.4 200.0 501.9 200.5 514.4 206.9 526.8 210.6 539.2 217.6 551.7 214.1 564.1 201.9 576.6 193.4 589.0 201.1 601.5 198.1"/><path d="M352.5 207.5L364.9 208.9 377.4 196.8 389.9 204.3 402.3 212.0 414.8 223.5 427.2 216.3 439.6 216.2 452.1 206.6 464.6 196.9 477.0 189.8 489.4 190.2 501.9 188.9 514.4 197.1 526.8 202.7 539.2 202.9 551.7 211.2 564.1 200.3 576.6 198.3 589.0 209.2 601.5 210.0"/><path d="M352.5 226.5L364.9 220.8 377.4 213.4 389.9 219.4 402.3 216.0 414.8 212.9 427.2 212.1 439.6 201.3 452.1 196.7 464.6 173.4 477.0 179.1 489.4 184.6 501.9 177.6 514.4 186.2 526.8 196.2 539.2 191.5 551.7 190.1 564.1 184.8 576.6 180.3 589.0 177.8 601.5 182.6"/><path d="M352.5 202.5L364.9 198.0 377.4 193.9 389.9 184.5 402.3 187.7 414.8 198.7 427.2 202.1 439.6 190.5 452.1 188.4 464.6 179.6 477.0 181.7 489.4 171.1 501.9 180.4 514.4 177.9 526.8 190.4 539.2 208.7 551.7 209.7 564.1 220.5 576.6 215.8 589.0 227.1 601.5 219.8"/><path d="M352.5 219.9L364.9 223.7 377.4 240.8 389.9 230.2 402.3 220.7 414.8 225.8 427.2 219.7 439.6 209.0 452.1 202.2 464.6 201.5 477.0 192.6 489.4 186.7 501.9 190.7 514.4 201.7 526.8 209.4 539.2 216.6 551.7 227.0 564.1 214.5 576.6 205.8 589.0 217.4 601.5 224.0"/><path d="M352.5 255.3L364.9 251.8 377.4 246.8 389.9 245.1 402.3 228.9 414.8 218.0 427.2 217.3 439.6 215.6 452.1 214.2 464.6 210.8 477.0 206.3 489.4 197.9 501.9 201.2 514.4 210.0 526.8 211.7 539.2 227.2 551.7 229.2 564.1 231.9 576.6 221.8 589.0 216.7 601.5 239.8"/><path d="M352.5 214.2L364.9 213.2 377.4 221.5 389.9 204.4 402.3 207.3 414.8 210.5 427.2 212.6 439.6 211.7 452.1 197.6 464.6 194.7 477.0 193.9 489.4 180.6 501.9 185.7 514.4 190.9 526.8 203.4 539.2 213.1 551.7 213.4 564.1 217.5 576.6 219.4 589.0 226.7 601.5 228.6"/><path d="M352.5 207.9L364.9 224.4 377.4 225.0 389.9 211.9 402.3 215.9 414.8 216.1 427.2 217.2 439.6 219.8 452.1 214.2 464.6 203.1 477.0 203.9 489.4 199.2 501.9 198.5 514.4 209.0 526.8 218.4 539.2 222.8 551.7 234.5 564.1 231.9 576.6 232.3 589.0 228.1 601.5 225.6"/><path d="M352.5 182.0L364.9 178.0 377.4 178.0 389.9 182.0 402.3 192.0 414.8 200.0 427.2 205.0 439.6 205.0 452.1 200.0 464.6 190.0 477.0 190.0 489.4 200.0 501.9 214.0 514.4 236.0 526.8 250.0 539.2 255.0 551.7 254.0 564.1 252.0 576.6 250.0 589.0 248.0 601.5 246.0"/><path d="M352.5 262.0L364.9 258.0 377.4 254.0 389.9 250.0 402.3 244.0 414.8 236.0 427.2 228.0 439.6 220.0 452.1 214.0 464.6 210.0 477.0 208.0 489.4 206.0 501.9 210.0 514.4 218.0 526.8 228.0 539.2 240.0 551.7 250.0 564.1 248.0 576.6 244.0 589.0 240.0 601.5 236.0"/></g>
<path d="M352.5 240.0L364.9 228.0 377.4 218.0 389.9 209.0 402.3 205.6 414.8 204.4 427.2 198.0 439.6 188.0 452.1 177.0 464.6 168.0 477.0 159.6 489.4 157.6 501.9 160.0 514.4 165.6 526.8 180.0 539.2 195.0 551.7 209.0 564.1 207.6 576.6 202.0 589.0 198.0 601.5 196.4" fill="none" stroke="#9a6cef" stroke-width="1.85" stroke-linejoin="round" stroke-linecap="butt"/>
<path d="M352.5 198.0L364.9 194.0 377.4 194.0 389.9 197.6 402.3 204.4 414.8 205.0 427.2 195.6 439.6 181.0 452.1 164.4 464.6 160.4 477.0 167.0 489.4 173.6 501.9 171.6 514.4 169.0 526.8 176.0 539.2 188.0 551.7 197.6 564.1 194.4 576.6 192.0 589.0 192.6 601.5 195.6" fill="none" stroke="#fb7748" stroke-width="1.85" stroke-linejoin="round" stroke-linecap="butt"/>
<line x1="340.30" y1="152.80" x2="340.30" y2="267.10" stroke="#1a1a1a" stroke-width="1.25"/>
<line x1="337.40" y1="156.80" x2="340.30" y2="156.80" stroke="#333" stroke-width="1.1"/>
<text x="334.90" y="160.30" text-anchor="end" class="tk">25</text>
<line x1="337.40" y1="188.20" x2="340.30" y2="188.20" stroke="#333" stroke-width="1.1"/>
<text x="334.90" y="191.70" text-anchor="end" class="tk">20</text>
<line x1="337.40" y1="219.70" x2="340.30" y2="219.70" stroke="#333" stroke-width="1.1"/>
<text x="334.90" y="223.20" text-anchor="end" class="tk">15</text>
<line x1="337.40" y1="251.20" x2="340.30" y2="251.20" stroke="#333" stroke-width="1.1"/>
<text x="334.90" y="254.70" text-anchor="end" class="tk">10</text>
<text x="477.25" y="146.40" text-anchor="middle" class="ti">(d) Surface Air Temperature [°C]</text>
<rect x="123.65" y="292.20" width="74.70" height="114.30" fill="#ebebeb"/>
<g fill="none" stroke="#000" stroke-opacity="0.5" stroke-width="0.55" stroke-linejoin="round"><path d="M36.5 352.3L49.0 352.7 61.4 348.0 73.9 346.5 86.3 345.1 98.8 345.1 111.2 355.4 123.7 355.9 136.1 356.4 148.6 356.4 161.0 361.0 173.4 358.2 185.9 356.9 198.3 358.0 210.8 357.7 223.2 350.2 235.7 356.0 248.1 354.8 260.6 357.9 273.1 358.3 285.5 364.5"/><path d="M36.5 343.7L49.0 340.7 61.4 342.3 73.9 346.8 86.3 345.4 98.8 348.4 111.2 356.2 123.7 352.4 136.1 359.6 148.6 365.4 161.0 363.2 173.4 361.7 185.9 358.6 198.3 359.3 210.8 353.4 223.2 353.0 235.7 356.9 248.1 347.5 260.6 349.3 273.1 348.9 285.5 346.8"/><path d="M36.5 351.4L49.0 349.2 61.4 341.7 73.9 339.1 86.3 338.8 98.8 336.7 111.2 334.8 123.7 347.8 136.1 355.9 148.6 362.7 161.0 363.0 173.4 353.6 185.9 352.0 198.3 352.3 210.8 347.9 223.2 343.1 235.7 343.9 248.1 351.7 260.6 352.6 273.1 352.8 285.5 349.3"/><path d="M36.5 362.0L49.0 359.9 61.4 356.4 73.9 352.9 86.3 348.9 98.8 349.5 111.2 359.6 123.7 361.7 136.1 365.3 148.6 363.8 161.0 365.4 173.4 358.9 185.9 364.5 198.3 359.8 210.8 359.1 223.2 356.7 235.7 361.1 248.1 361.5 260.6 363.4 273.1 356.0 285.5 351.4"/><path d="M36.5 338.2L49.0 335.2 61.4 333.4 73.9 337.8 86.3 337.7 98.8 338.6 111.2 338.3 123.7 338.1 136.1 336.8 148.6 345.1 161.0 347.6 173.4 350.6 185.9 351.4 198.3 346.0 210.8 343.9 223.2 333.3 235.7 336.7 248.1 336.9 260.6 338.9 273.1 340.3 285.5 343.7"/><path d="M36.5 344.8L49.0 344.4 61.4 341.1 73.9 339.8 86.3 340.5 98.8 344.1 111.2 345.1 123.7 342.3 136.1 338.3 148.6 341.3 161.0 340.8 173.4 343.8 185.9 350.8 198.3 345.9 210.8 349.3 223.2 351.7 235.7 346.1 248.1 343.1 260.6 346.6 273.1 343.3 285.5 339.5"/><path d="M36.5 354.6L49.0 349.7 61.4 345.6 73.9 347.0 86.3 346.1 98.8 346.7 111.2 354.5 123.7 361.4 136.1 356.1 148.6 361.9 161.0 362.3 173.4 362.7 185.9 365.2 198.3 369.6 210.8 367.2 223.2 363.7 235.7 362.9 248.1 354.0 260.6 356.0 273.1 356.6 285.5 351.0"/><path d="M36.5 334.5L49.0 330.7 61.4 329.9 73.9 333.4 86.3 333.6 98.8 332.5 111.2 335.2 123.7 343.6 136.1 345.7 148.6 345.9 161.0 356.3 173.4 352.5 185.9 354.2 198.3 355.8 210.8 353.6 223.2 349.7 235.7 353.6 248.1 352.3 260.6 354.6 273.1 353.9 285.5 360.5"/><path d="M36.5 339.0L49.0 334.6 61.4 332.8 73.9 333.3 86.3 333.2 98.8 335.0 111.2 336.1 123.7 341.4 136.1 339.6 148.6 338.9 161.0 340.8 173.4 339.0 185.9 336.7 198.3 334.5 210.8 331.3 223.2 332.1 235.7 335.7 248.1 340.9 260.6 342.4 273.1 340.2 285.5 336.6"/><path d="M36.5 337.2L49.0 331.8 61.4 335.9 73.9 342.6 86.3 341.6 98.8 342.8 111.2 337.4 123.7 340.5 136.1 341.7 148.6 345.6 161.0 344.6 173.4 342.2 185.9 339.5 198.3 336.6 210.8 344.1 223.2 344.9 235.7 338.4 248.1 337.4 260.6 337.1 273.1 346.8 285.5 339.5"/><path d="M36.5 353.3L49.0 354.6 61.4 360.1 73.9 361.1 86.3 358.9 98.8 351.5 111.2 349.7 123.7 349.4 136.1 351.1 148.6 351.1 161.0 347.4 173.4 350.1 185.9 350.6 198.3 347.4 210.8 343.5 223.2 339.2 235.7 335.0 248.1 345.5 260.6 344.4 273.1 342.4 285.5 349.5"/><path d="M36.5 343.9L49.0 344.9 61.4 340.5 73.9 338.8 86.3 332.2 98.8 335.4 111.2 346.3 123.7 349.8 136.1 353.7 148.6 360.4 161.0 365.2 173.4 360.4 185.9 356.4 198.3 352.9 210.8 355.5 223.2 347.6 235.7 344.3 248.1 342.7 260.6 343.4 273.1 344.9 285.5 343.9"/><path d="M36.5 359.0L49.0 352.9 61.4 358.5 73.9 356.4 86.3 356.2 98.8 350.3 111.2 353.5 123.7 350.8 136.1 347.5 148.6 353.5 161.0 354.5 173.4 349.5 185.9 341.3 198.3 343.7 210.8 342.2 223.2 343.7 235.7 346.9 248.1 350.4 260.6 340.8 273.1 327.9 285.5 332.8"/><path d="M36.5 329.0L49.0 336.0 61.4 338.4 73.9 338.3 86.3 337.8 98.8 332.6 111.2 335.6 123.7 338.2 136.1 343.2 148.6 354.0 161.0 352.7 173.4 354.9 185.9 361.4 198.3 355.3 210.8 348.7 223.2 342.8 235.7 337.3 248.1 330.3 260.6 334.4 273.1 341.9 285.5 344.9"/><path d="M36.5 341.4L49.0 338.8 61.4 340.0 73.9 336.9 86.3 336.3 98.8 335.1 111.2 341.6 123.7 346.8 136.1 350.0 148.6 348.2 161.0 347.9 173.4 350.9 185.9 357.9 198.3 353.2 210.8 361.0 223.2 355.4 235.7 351.7 248.1 351.3 260.6 348.2 273.1 348.3 285.5 348.9"/><path d="M36.5 342.9L49.0 341.6 61.4 343.6 73.9 347.5 86.3 354.1 98.8 353.5 111.2 349.7 123.7 350.2 136.1 346.3 148.6 349.7 161.0 348.5 173.4 349.9 185.9 348.7 198.3 347.3 210.8 343.7 223.2 348.1 235.7 339.4 248.1 343.6 260.6 348.8 273.1 351.3 285.5 352.2"/><path d="M36.5 351.2L49.0 347.7 61.4 342.4 73.9 344.9 86.3 346.5 98.8 349.5 111.2 351.0 123.7 357.2 136.1 361.1 148.6 369.7 161.0 368.8 173.4 358.7 185.9 353.5 198.3 353.1 210.8 344.7 223.2 345.6 235.7 341.7 248.1 341.7 260.6 343.5 273.1 340.3 285.5 342.8"/><path d="M36.5 358.1L49.0 352.7 61.4 349.1 73.9 345.2 86.3 346.2 98.8 349.3 111.2 348.7 123.7 349.2 136.1 354.6 148.6 356.7 161.0 363.7 173.4 361.9 185.9 357.7 198.3 349.9 210.8 344.6 223.2 335.2 235.7 336.3 248.1 343.0 260.6 336.6 273.1 331.5 285.5 327.8"/><path d="M36.5 344.5L49.0 339.6 61.4 342.8 73.9 345.7 86.3 341.8 98.8 340.8 111.2 340.5 123.7 345.8 136.1 355.3 148.6 353.2 161.0 352.2 173.4 347.3 185.9 349.2 198.3 349.4 210.8 343.7 223.2 340.7 235.7 349.4 248.1 356.3 260.6 351.6 273.1 351.3 285.5 349.2"/><path d="M36.5 351.3L49.0 344.8 61.4 346.3 73.9 349.0 86.3 351.9 98.8 345.6 111.2 354.9 123.7 353.2 136.1 349.8 148.6 357.0 161.0 361.3 173.4 360.2 185.9 363.1 198.3 363.0 210.8 360.8 223.2 352.7 235.7 349.8 248.1 348.6 260.6 353.7 273.1 360.1 285.5 358.6"/><path d="M36.5 342.0L49.0 338.9 61.4 343.1 73.9 340.3 86.3 347.8 98.8 348.2 111.2 351.1 123.7 356.0 136.1 357.9 148.6 356.4 161.0 357.7 173.4 358.9 185.9 356.2 198.3 353.3 210.8 350.8 223.2 340.9 235.7 337.7 248.1 337.4 260.6 334.1 273.1 338.0 285.5 341.8"/><path d="M36.5 326.8L49.0 327.6 61.4 332.3 73.9 332.4 86.3 335.3 98.8 338.8 111.2 336.4 123.7 341.1 136.1 341.4 148.6 336.5 161.0 341.8 173.4 339.8 185.9 340.5 198.3 343.2 210.8 346.1 223.2 343.3 235.7 339.2 248.1 336.7 260.6 342.7 273.1 342.3 285.5 351.0"/><path d="M36.5 363.0L49.0 356.6 61.4 360.9 73.9 355.8 86.3 353.1 98.8 352.1 111.2 350.3 123.7 353.2 136.1 357.9 148.6 368.7 161.0 371.6 173.4 369.4 185.9 369.2 198.3 369.7 210.8 365.5 223.2 358.0 235.7 355.5 248.1 349.0 260.6 349.6 273.1 347.5 285.5 353.0"/><path d="M36.5 345.5L49.0 339.9 61.4 343.1 73.9 341.6 86.3 337.9 98.8 339.8 111.2 339.8 123.7 336.3 136.1 335.7 148.6 344.3 161.0 351.9 173.4 349.8 185.9 351.0 198.3 342.0 210.8 343.9 223.2 341.2 235.7 342.9 248.1 340.7 260.6 341.0 273.1 334.4 285.5 337.3"/><path d="M36.5 341.1L49.0 342.1 61.4 347.8 73.9 336.8 86.3 340.2 98.8 341.5 111.2 345.0 123.7 350.4 136.1 350.5 148.6 345.3 161.0 344.4 173.4 342.7 185.9 334.3 198.3 334.8 210.8 335.6 223.2 329.1 235.7 329.5 248.1 329.8 260.6 330.8 273.1 331.5 285.5 336.8"/><path d="M36.5 347.1L49.0 353.8 61.4 351.4 73.9 353.6 86.3 355.5 98.8 347.9 111.2 350.3 123.7 353.5 136.1 357.0 148.6 360.0 161.0 364.4 173.4 366.0 185.9 362.8 198.3 364.0 210.8 358.7 223.2 356.1 235.7 351.2 248.1 343.6 260.6 338.8 273.1 345.6 285.5 348.7"/><path d="M36.5 339.7L49.0 342.7 61.4 338.2 73.9 334.8 86.3 328.4 98.8 328.3 111.2 333.8 123.7 346.3 136.1 347.4 148.6 350.8 161.0 353.1 173.4 355.8 185.9 351.8 198.3 344.8 210.8 346.2 223.2 338.4 235.7 340.0 248.1 337.0 260.6 337.8 273.1 340.4 285.5 333.1"/><path d="M36.5 366.9L49.0 356.0 61.4 348.2 73.9 348.4 86.3 335.1 98.8 332.5 111.2 336.5 123.7 338.0 136.1 340.8 148.6 342.6 161.0 343.2 173.4 341.5 185.9 349.5 198.3 349.7 210.8 342.3 223.2 338.6 235.7 341.3 248.1 345.6 260.6 339.3 273.1 338.9 285.5 328.5"/><path d="M36.5 338.8L49.0 345.6 61.4 346.4 73.9 343.1 86.3 337.2 98.8 336.7 111.2 338.9 123.7 341.9 136.1 346.9 148.6 349.3 161.0 342.7 173.4 339.4 185.9 337.2 198.3 332.3 210.8 335.6 223.2 328.8 235.7 330.8 248.1 331.8 260.6 333.1 273.1 333.4 285.5 330.1"/><path d="M36.5 345.9L49.0 347.9 61.4 341.7 73.9 345.5 86.3 341.2 98.8 344.1 111.2 344.7 123.7 353.0 136.1 360.6 148.6 367.7 161.0 371.6 173.4 370.5 185.9 354.5 198.3 345.1 210.8 337.4 223.2 339.3 235.7 342.2 248.1 336.3 260.6 339.3 273.1 336.9 285.5 334.4"/><path d="M36.5 346.5L49.0 338.5 61.4 341.0 73.9 341.9 86.3 346.8 98.8 349.0 111.2 351.6 123.7 357.5 136.1 357.8 148.6 359.5 161.0 354.5 173.4 350.6 185.9 349.7 198.3 351.8 210.8 355.5 223.2 358.5 235.7 353.8 248.1 351.2 260.6 346.6 273.1 339.3 285.5 343.9"/><path d="M36.5 332.2L49.0 336.5 61.4 334.8 73.9 334.1 86.3 338.2 98.8 335.2 111.2 340.3 123.7 339.4 136.1 342.3 148.6 344.9 161.0 347.0 173.4 341.6 185.9 340.6 198.3 341.2 210.8 336.2 223.2 337.1 235.7 338.8 248.1 337.6 260.6 336.2 273.1 337.6 285.5 334.9"/><path d="M36.5 349.9L49.0 348.2 61.4 351.4 73.9 348.5 86.3 342.6 98.8 343.4 111.2 343.9 123.7 351.7 136.1 349.3 148.6 348.8 161.0 348.6 173.4 346.8 185.9 346.8 198.3 355.1 210.8 350.9 223.2 353.2 235.7 348.3 248.1 343.9 260.6 343.3 273.1 350.1 285.5 350.6"/><path d="M36.5 350.0L49.0 345.6 61.4 343.7 73.9 351.4 86.3 344.4 98.8 336.0 111.2 337.8 123.7 336.3 136.1 334.1 148.6 335.4 161.0 336.4 173.4 335.4 185.9 334.3 198.3 336.8 210.8 339.7 223.2 338.1 235.7 341.0 248.1 333.8 260.6 336.0 273.1 332.0 285.5 332.3"/><path d="M36.5 359.7L49.0 355.3 61.4 359.3 73.9 360.3 86.3 359.3 98.8 352.3 111.2 353.6 123.7 356.6 136.1 361.0 148.6 361.6 161.0 355.2 173.4 357.5 185.9 349.4 198.3 343.9 210.8 333.0 223.2 331.7 235.7 335.1 248.1 338.6 260.6 334.3 273.1 337.2 285.5 338.7"/><path d="M36.5 350.8L49.0 352.4 61.4 351.1 73.9 355.4 86.3 348.2 98.8 349.0 111.2 351.6 123.7 348.4 136.1 351.4 148.6 352.7 161.0 349.7 173.4 351.5 185.9 350.3 198.3 352.5 210.8 348.1 223.2 351.3 235.7 351.3 248.1 350.9 260.6 354.8 273.1 363.0 285.5 361.3"/><path d="M36.5 348.8L49.0 347.3 61.4 347.3 73.9 338.9 86.3 344.4 98.8 350.6 111.2 358.0 123.7 359.7 136.1 354.5 148.6 352.4 161.0 354.0 173.4 351.6 185.9 344.7 198.3 341.2 210.8 332.9 223.2 327.3 235.7 328.4 248.1 325.7 260.6 325.3 273.1 325.2 285.5 325.2"/><path d="M36.5 350.9L49.0 352.7 61.4 353.0 73.9 348.7 86.3 345.0 98.8 351.1 111.2 353.1 123.7 352.6 136.1 357.8 148.6 355.1 161.0 361.6 173.4 367.3 185.9 368.5 198.3 351.9 210.8 350.4 223.2 350.5 235.7 350.2 248.1 359.2 260.6 354.8 273.1 351.9 285.5 356.3"/><path d="M36.5 347.7L49.0 351.4 61.4 349.5 73.9 345.7 86.3 340.7 98.8 340.4 111.2 341.6 123.7 347.9 136.1 352.1 148.6 347.4 161.0 353.1 173.4 351.1 185.9 345.9 198.3 353.4 210.8 350.3 223.2 348.3 235.7 349.5 248.1 343.2 260.6 344.4 273.1 346.0 285.5 343.8"/><path d="M36.5 350.7L49.0 352.4 61.4 351.4 73.9 341.9 86.3 340.1 98.8 341.9 111.2 350.7 123.7 355.7 136.1 359.3 148.6 356.5 161.0 359.8 173.4 368.9 185.9 367.4 198.3 362.3 210.8 359.3 223.2 358.4 235.7 354.4 248.1 353.0 260.6 348.2 273.1 347.1 285.5 347.4"/><path d="M36.5 342.6L49.0 338.3 61.4 345.7 73.9 345.1 86.3 347.0 98.8 341.3 111.2 343.4 123.7 345.0 136.1 356.0 148.6 361.3 161.0 361.0 173.4 362.4 185.9 361.9 198.3 360.9 210.8 350.7 223.2 338.6 235.7 338.3 248.1 338.2 260.6 339.4 273.1 346.6 285.5 345.9"/><path d="M36.5 347.9L49.0 344.8 61.4 337.2 73.9 333.0 86.3 331.0 98.8 331.8 111.2 341.2 123.7 345.5 136.1 347.6 148.6 343.4 161.0 348.3 173.4 346.4 185.9 336.4 198.3 337.4 210.8 337.4 223.2 338.1 235.7 339.2 248.1 335.7 260.6 336.1 273.1 333.1 285.5 333.9"/><path d="M36.5 350.6L49.0 350.8 61.4 345.7 73.9 350.2 86.3 347.7 98.8 339.2 111.2 347.2 123.7 353.3 136.1 360.5 148.6 361.7 161.0 360.5 173.4 356.6 185.9 358.9 198.3 359.8 210.8 359.6 223.2 359.4 235.7 354.1 248.1 353.2 260.6 355.6 273.1 354.7 285.5 362.1"/><path d="M36.5 326.9L49.0 331.8 61.4 332.7 73.9 333.8 86.3 334.6 98.8 335.1 111.2 339.0 123.7 341.8 136.1 339.8 148.6 346.3 161.0 350.7 173.4 346.0 185.9 348.4 198.3 347.1 210.8 346.9 223.2 344.9 235.7 340.6 248.1 341.8 260.6 335.0 273.1 343.0 285.5 339.9"/><path d="M36.5 340.0L49.0 343.2 61.4 342.7 73.9 345.1 86.3 351.0 98.8 352.7 111.2 353.8 123.7 351.7 136.1 353.5 148.6 351.6 161.0 353.7 173.4 341.7 185.9 339.2 198.3 336.6 210.8 331.8 223.2 334.0 235.7 337.7 248.1 329.3 260.6 336.5 273.1 335.9 285.5 338.2"/><path d="M36.5 351.8L49.0 348.3 61.4 347.2 73.9 348.2 86.3 344.3 98.8 345.0 111.2 350.9 123.7 352.5 136.1 353.7 148.6 354.1 161.0 352.8 173.4 351.4 185.9 345.6 198.3 344.3 210.8 339.8 223.2 339.8 235.7 346.6 248.1 349.3 260.6 347.2 273.1 349.5 285.5 349.4"/><path d="M36.5 339.4L49.0 342.4 61.4 346.7 73.9 348.1 86.3 346.8 98.8 342.9 111.2 344.4 123.7 349.5 136.1 353.1 148.6 358.4 161.0 356.9 173.4 345.8 185.9 349.9 198.3 351.5 210.8 355.3 223.2 358.2 235.7 359.6 248.1 355.0 260.6 348.2 273.1 345.3 285.5 341.7"/><path d="M36.5 333.2L49.0 333.0 61.4 338.3 73.9 335.9 86.3 336.4 98.8 339.6 111.2 339.1 123.7 340.7 136.1 341.4 148.6 338.9 161.0 343.6 173.4 347.2 185.9 350.6 198.3 348.9 210.8 343.0 223.2 346.5 235.7 337.4 248.1 338.2 260.6 337.7 273.1 333.2 285.5 339.1"/><path d="M36.5 361.9L49.0 356.3 61.4 351.5 73.9 350.0 86.3 347.0 98.8 353.7 111.2 351.1 123.7 349.7 136.1 353.3 148.6 353.0 161.0 351.5 173.4 349.0 185.9 348.0 198.3 351.0 210.8 343.9 223.2 345.4 235.7 340.2 248.1 335.3 260.6 340.0 273.1 342.6 285.5 346.7"/><path d="M36.5 355.5L49.0 350.4 61.4 345.0 73.9 344.8 86.3 340.3 98.8 340.1 111.2 349.3 123.7 346.2 136.1 344.4 148.6 350.6 161.0 355.6 173.4 354.0 185.9 354.4 198.3 350.5 210.8 345.8 223.2 344.1 235.7 346.3 248.1 339.1 260.6 333.0 273.1 335.3 285.5 333.9"/><path d="M36.5 353.6L49.0 351.6 61.4 348.1 73.9 346.6 86.3 356.3 98.8 354.5 111.2 353.4 123.7 349.0 136.1 353.8 148.6 361.8 161.0 362.4 173.4 361.7 185.9 360.0 198.3 358.4 210.8 354.0 223.2 352.5 235.7 352.3 248.1 351.1 260.6 358.1 273.1 354.9 285.5 352.9"/><path d="M36.5 355.2L49.0 354.5 61.4 355.6 73.9 365.7 86.3 363.3 98.8 361.1 111.2 364.2 123.7 361.5 136.1 363.6 148.6 354.8 161.0 362.8 173.4 367.3 185.9 371.6 198.3 380.4 210.8 381.4 223.2 385.2 235.7 387.1 248.1 385.5 260.6 385.4 273.1 387.4 285.5 388.8"/><path d="M36.5 348.8L49.0 343.7 61.4 341.5 73.9 336.2 86.3 335.4 98.8 334.6 111.2 337.1 123.7 339.6 136.1 349.2 148.6 361.7 161.0 374.2 173.4 381.1 185.9 365.0 198.3 375.1 210.8 374.2 223.2 362.9 235.7 357.7 248.1 354.9 260.6 350.3 273.1 357.6 285.5 356.1"/><path d="M36.5 388.8L49.0 390.6 61.4 380.1 73.9 374.5 86.3 377.3 98.8 377.1 111.2 377.4 123.7 377.9 136.1 376.4 148.6 374.3 161.0 379.8 173.4 378.5 185.9 372.5 198.3 361.0 210.8 361.9 223.2 359.8 235.7 344.6 248.1 347.0 260.6 341.0 273.1 343.7 285.5 344.1"/><path d="M36.5 378.3L49.0 369.0 61.4 376.7 73.9 375.1 86.3 384.7 98.8 383.9 111.2 384.4 123.7 379.8 136.1 391.6 148.6 397.1 161.0 399.4 173.4 395.5 185.9 390.1 198.3 386.2 210.8 383.9 223.2 375.5 235.7 371.3 248.1 372.6 260.6 369.2 273.1 365.4 285.5 371.7"/><path d="M36.5 383.8L49.0 384.0 61.4 383.4 73.9 382.5 86.3 379.5 98.8 378.0 111.2 381.7 123.7 377.3 136.1 371.2 148.6 369.5 161.0 368.1 173.4 371.5 185.9 376.1 198.3 375.4 210.8 366.6 223.2 357.8 235.7 348.1 248.1 349.3 260.6 354.7 273.1 351.3 285.5 349.8"/><path d="M36.5 367.0L49.0 365.8 61.4 368.1 73.9 364.7 86.3 362.1 98.8 360.5 111.2 370.8 123.7 372.8 136.1 380.3 148.6 380.4 161.0 387.5 173.4 385.6 185.9 377.4 198.3 367.6 210.8 371.8 223.2 364.9 235.7 364.4 248.1 355.9 260.6 358.1 273.1 353.9 285.5 365.2"/><path d="M36.5 357.5L49.0 362.0 61.4 376.5 73.9 382.9 86.3 384.6 98.8 375.1 111.2 384.2 123.7 392.4 136.1 392.0 148.6 392.4 161.0 389.7 173.4 382.7 185.9 381.6 198.3 382.9 210.8 382.0 223.2 385.6 235.7 387.0 248.1 386.2 260.6 392.3 273.1 384.0 285.5 382.0"/><path d="M36.5 371.6L49.0 375.8 61.4 367.9 73.9 374.2 86.3 365.0 98.8 360.4 111.2 370.9 123.7 361.7 136.1 363.5 148.6 375.7 161.0 383.2 173.4 382.7 185.9 380.6 198.3 382.2 210.8 369.9 223.2 377.1 235.7 373.4 248.1 368.7 260.6 374.9 273.1 378.2 285.5 378.9"/><path d="M36.5 371.7L49.0 371.2 61.4 362.0 73.9 350.9 86.3 357.5 98.8 361.7 111.2 364.7 123.7 376.7 136.1 375.3 148.6 373.8 161.0 380.9 173.4 374.8 185.9 369.2 198.3 369.0 210.8 363.9 223.2 364.7 235.7 370.5 248.1 366.2 260.6 367.4 273.1 372.6 285.5 370.0"/><path d="M36.5 369.5L49.0 375.8 61.4 370.0 73.9 372.9 86.3 385.9 98.8 381.7 111.2 373.7 123.7 370.8 136.1 370.6 148.6 380.1 161.0 385.5 173.4 382.3 185.9 369.1 198.3 367.8 210.8 378.9 223.2 368.3 235.7 370.0 248.1 373.1 260.6 378.0 273.1 381.9 285.5 387.5"/><path d="M36.5 384.3L49.0 385.6 61.4 387.0 73.9 383.0 86.3 379.6 98.8 372.2 111.2 380.0 123.7 365.2 136.1 373.3 148.6 365.5 161.0 370.7 173.4 367.5 185.9 384.4 198.3 384.5 210.8 378.6 223.2 383.8 235.7 386.4 248.1 379.1 260.6 377.3 273.1 384.8 285.5 367.9"/><path d="M36.5 348.9L49.0 349.3 61.4 360.2 73.9 352.1 86.3 350.8 98.8 348.7 111.2 358.9 123.7 364.5 136.1 366.9 148.6 363.8 161.0 356.3 173.4 361.5 185.9 372.1 198.3 369.7 210.8 362.8 223.2 368.8 235.7 358.9 248.1 345.7 260.6 351.6 273.1 356.3 285.5 364.8"/><path d="M36.5 358.5L49.0 358.9 61.4 357.6 73.9 361.3 86.3 361.0 98.8 361.3 111.2 365.4 123.7 368.1 136.1 365.5 148.6 372.3 161.0 377.5 173.4 378.8 185.9 372.9 198.3 371.2 210.8 369.8 223.2 354.8 235.7 359.3 248.1 355.3 260.6 345.4 273.1 353.6 285.5 347.3"/><path d="M36.5 345.0L49.0 343.0 61.4 340.0 73.9 331.0 86.3 304.0 98.8 297.0 111.2 317.0 123.7 341.0 136.1 352.0 148.6 358.0 161.0 360.0 173.4 361.0 185.9 362.0 198.3 358.0 210.8 352.0 223.2 350.0 235.7 352.0 248.1 354.0 260.6 356.0 273.1 357.0 285.5 358.0"/><path d="M36.5 386.0L49.0 384.0 61.4 382.0 73.9 380.0 86.3 380.0 98.8 382.0 111.2 380.0 123.7 384.0 136.1 386.0 148.6 388.0 161.0 389.0 173.4 389.0 185.9 390.0 198.3 394.0 210.8 398.0 223.2 401.0 235.7 400.0 248.1 398.0 260.6 397.0 273.1 396.0 285.5 396.0"/><path d="M36.5 374.0L49.0 372.0 61.4 368.0 73.9 366.0 86.3 364.0 98.8 360.0 111.2 356.0 123.7 352.0 136.1 340.0 148.6 328.0 161.0 322.0 173.4 322.0 185.9 325.0 198.3 330.0 210.8 336.0 223.2 340.0 235.7 334.0 248.1 328.0 260.6 322.0 273.1 318.0 285.5 316.0"/></g>
<path d="M36.5 342.0L49.0 351.0 61.4 357.0 73.9 359.0 86.3 356.6 98.8 357.0 111.2 362.0 123.7 370.6 136.1 374.0 148.6 375.0 161.0 377.0 173.4 377.0 185.9 376.6 198.3 372.6 210.8 366.6 223.2 366.0 235.7 372.6 248.1 382.0 260.6 382.4 273.1 373.0 285.5 355.0" fill="none" stroke="#9a6cef" stroke-width="1.85" stroke-linejoin="round" stroke-linecap="butt"/>
<path d="M36.5 360.0L49.0 358.0 61.4 355.0 73.9 351.0 86.3 344.6 98.8 345.4 111.2 352.0 123.7 360.0 136.1 366.6 148.6 370.6 161.0 376.0 173.4 383.4 185.9 386.0 198.3 382.6 210.8 377.4 223.2 375.0 235.7 378.6 248.1 384.0 260.6 384.0 273.1 377.4 285.5 366.6" fill="none" stroke="#fb7748" stroke-width="1.85" stroke-linejoin="round" stroke-linecap="butt"/>
<line x1="24.40" y1="292.20" x2="24.40" y2="406.50" stroke="#1a1a1a" stroke-width="1.25"/>
<line x1="21.50" y1="295.20" x2="24.40" y2="295.20" stroke="#333" stroke-width="1.1"/>
<text x="19.00" y="298.70" text-anchor="end" class="tk">1.0</text>
<line x1="21.50" y1="334.30" x2="24.40" y2="334.30" stroke="#333" stroke-width="1.1"/>
<text x="19.00" y="337.80" text-anchor="end" class="tk">0.8</text>
<line x1="21.50" y1="373.30" x2="24.40" y2="373.30" stroke="#333" stroke-width="1.1"/>
<text x="19.00" y="376.80" text-anchor="end" class="tk">0.6</text>
<text x="161.35" y="285.80" text-anchor="middle" class="ti">(e) Relative Humidity [–]</text>
<rect x="439.65" y="292.20" width="74.70" height="114.30" fill="#ebebeb"/>
<g fill="none" stroke="#000" stroke-opacity="0.5" stroke-width="0.55" stroke-linejoin="round"><path d="M352.5 340.8L364.9 353.4 377.4 370.5 389.9 362.0 402.3 353.2 414.8 358.4 427.2 351.4 439.6 352.2 452.1 359.8 464.6 356.1 477.0 359.8 489.4 336.7 501.9 346.4 514.4 347.1 526.8 340.6 539.2 342.1 551.7 329.9 564.1 320.6 576.6 305.2 589.0 306.7 601.5 308.2"/><path d="M352.5 326.8L364.9 337.7 377.4 337.4 389.9 323.3 402.3 330.2 414.8 340.4 427.2 337.2 439.6 334.0 452.1 330.8 464.6 320.4 477.0 331.7 489.4 337.0 501.9 336.9 514.4 339.7 526.8 341.8 539.2 360.6 551.7 355.3 564.1 334.4 576.6 339.0 589.0 351.9 601.5 360.1"/><path d="M352.5 333.9L364.9 315.6 377.4 341.8 389.9 329.3 402.3 331.2 414.8 329.6 427.2 321.9 439.6 317.6 452.1 308.8 464.6 303.7 477.0 304.6 489.4 309.7 501.9 335.8 514.4 329.6 526.8 344.9 539.2 347.0 551.7 341.8 564.1 326.0 576.6 329.0 589.0 320.8 601.5 329.7"/><path d="M352.5 346.5L364.9 329.1 377.4 341.4 389.9 337.0 402.3 335.5 414.8 336.8 427.2 329.9 439.6 337.0 452.1 347.9 464.6 343.4 477.0 349.0 489.4 361.8 501.9 363.8 514.4 362.2 526.8 376.4 539.2 375.9 551.7 370.2 564.1 350.0 576.6 352.2 589.0 343.2 601.5 348.9"/><path d="M352.5 301.8L364.9 299.8 377.4 320.3 389.9 341.9 402.3 343.7 414.8 343.5 427.2 317.2 439.6 322.2 452.1 316.2 464.6 298.6 477.0 298.2 489.4 300.2 501.9 308.9 514.4 317.2 526.8 346.8 539.2 364.3 551.7 362.1 564.1 365.3 576.6 347.5 589.0 358.2 601.5 353.4"/><path d="M352.5 344.6L364.9 346.2 377.4 343.8 389.9 337.2 402.3 344.0 414.8 348.8 427.2 319.5 439.6 314.6 452.1 315.2 464.6 311.9 477.0 317.5 489.4 329.1 501.9 332.7 514.4 335.3 526.8 350.3 539.2 356.2 551.7 359.1 564.1 381.8 576.6 388.8 589.0 371.3 601.5 384.6"/><path d="M352.5 329.3L364.9 333.8 377.4 314.1 389.9 330.0 402.3 313.1 414.8 322.7 427.2 343.3 439.6 344.3 452.1 340.1 464.6 327.5 477.0 325.8 489.4 335.7 501.9 316.3 514.4 312.1 526.8 330.4 539.2 328.9 551.7 344.1 564.1 351.4 576.6 339.5 589.0 339.3 601.5 357.6"/><path d="M352.5 333.3L364.9 332.0 377.4 337.1 389.9 329.4 402.3 326.2 414.8 331.7 427.2 327.3 439.6 325.2 452.1 330.0 464.6 343.3 477.0 340.3 489.4 334.5 501.9 360.9 514.4 369.8 526.8 350.8 539.2 347.0 551.7 328.4 564.1 341.8 576.6 330.2 589.0 329.6 601.5 354.7"/><path d="M352.5 329.9L364.9 331.5 377.4 336.4 389.9 347.3 402.3 355.7 414.8 365.3 427.2 350.3 439.6 348.5 452.1 327.8 464.6 326.8 477.0 326.5 489.4 344.2 501.9 346.3 514.4 345.0 526.8 344.3 539.2 336.5 551.7 332.6 564.1 327.6 576.6 331.7 589.0 329.0 601.5 334.1"/><path d="M352.5 361.4L364.9 342.1 377.4 331.2 389.9 317.5 402.3 341.9 414.8 355.8 427.2 353.2 439.6 346.4 452.1 332.5 464.6 338.7 477.0 338.0 489.4 341.5 501.9 341.9 514.4 317.8 526.8 305.8 539.2 308.0 551.7 320.4 564.1 314.1 576.6 323.1 589.0 324.9 601.5 317.7"/><path d="M352.5 353.7L364.9 336.3 377.4 321.2 389.9 341.9 402.3 355.1 414.8 351.9 427.2 356.8 439.6 342.9 452.1 336.5 464.6 336.8 477.0 339.5 489.4 344.6 501.9 332.9 514.4 346.1 526.8 338.1 539.2 341.4 551.7 374.0 564.1 381.6 576.6 370.2 589.0 371.8 601.5 360.7"/><path d="M352.5 330.0L364.9 322.5 377.4 321.9 389.9 325.4 402.3 334.7 414.8 356.6 427.2 354.8 439.6 350.9 452.1 335.5 464.6 344.5 477.0 344.2 489.4 357.7 501.9 356.1 514.4 370.0 526.8 369.3 539.2 365.1 551.7 361.8 564.1 357.5 576.6 361.0 589.0 363.0 601.5 339.2"/><path d="M352.5 320.5L364.9 314.7 377.4 325.2 389.9 323.4 402.3 332.6 414.8 338.8 427.2 337.5 439.6 315.5 452.1 334.9 464.6 336.7 477.0 332.1 489.4 337.3 501.9 335.1 514.4 340.8 526.8 337.6 539.2 366.3 551.7 362.8 564.1 367.6 576.6 359.0 589.0 370.3 601.5 387.1"/><path d="M352.5 351.6L364.9 342.2 377.4 346.4 389.9 345.2 402.3 354.6 414.8 355.0 427.2 354.4 439.6 348.3 452.1 343.3 464.6 341.3 477.0 352.8 489.4 352.1 501.9 356.9 514.4 355.3 526.8 356.2 539.2 345.7 551.7 345.9 564.1 340.4 576.6 317.8 589.0 315.2 601.5 308.2"/><path d="M352.5 336.3L364.9 331.2 377.4 345.3 389.9 344.0 402.3 335.2 414.8 330.0 427.2 324.5 439.6 319.3 452.1 324.3 464.6 318.8 477.0 323.6 489.4 335.0 501.9 331.6 514.4 335.6 526.8 356.8 539.2 363.0 551.7 357.2 564.1 362.7 576.6 357.6 589.0 347.5 601.5 359.0"/><path d="M352.5 324.2L364.9 318.8 377.4 320.1 389.9 331.6 402.3 338.2 414.8 330.5 427.2 328.6 439.6 323.5 452.1 330.4 464.6 330.8 477.0 325.0 489.4 334.3 501.9 324.1 514.4 325.5 526.8 310.6 539.2 327.7 551.7 328.8 564.1 339.1 576.6 371.5 589.0 370.7 601.5 369.9"/><path d="M352.5 330.7L364.9 333.9 377.4 328.4 389.9 334.9 402.3 339.0 414.8 339.4 427.2 333.3 439.6 328.6 452.1 326.3 464.6 323.3 477.0 328.5 489.4 323.6 501.9 323.7 514.4 331.2 526.8 351.4 539.2 354.5 551.7 350.0 564.1 345.4 576.6 361.5 589.0 351.0 601.5 343.4"/><path d="M352.5 335.5L364.9 324.7 377.4 321.1 389.9 326.3 402.3 323.8 414.8 306.7 427.2 313.2 439.6 321.5 452.1 316.7 464.6 332.7 477.0 333.8 489.4 336.8 501.9 326.1 514.4 351.9 526.8 374.7 539.2 383.6 551.7 386.8 564.1 381.1 576.6 368.4 589.0 369.8 601.5 367.0"/><path d="M352.5 320.2L364.9 325.3 377.4 335.9 389.9 332.8 402.3 347.6 414.8 347.0 427.2 337.7 439.6 326.6 452.1 316.2 464.6 325.0 477.0 314.9 489.4 324.9 501.9 333.2 514.4 325.8 526.8 337.3 539.2 342.2 551.7 364.6 564.1 367.5 576.6 363.4 589.0 368.7 601.5 382.0"/><path d="M352.5 327.8L364.9 322.1 377.4 334.8 389.9 357.1 402.3 339.6 414.8 353.9 427.2 353.1 439.6 354.7 452.1 354.4 464.6 345.0 477.0 338.9 489.4 358.8 501.9 345.6 514.4 350.0 526.8 369.4 539.2 368.4 551.7 375.7 564.1 372.8 576.6 361.3 589.0 367.7 601.5 367.0"/><path d="M352.5 332.7L364.9 342.3 377.4 338.1 389.9 340.9 402.3 335.3 414.8 349.8 427.2 353.7 439.6 350.2 452.1 343.9 464.6 338.1 477.0 336.4 489.4 330.2 501.9 345.5 514.4 340.8 526.8 354.3 539.2 365.7 551.7 361.3 564.1 358.5 576.6 342.8 589.0 343.5 601.5 339.7"/><path d="M352.5 359.5L364.9 347.3 377.4 338.2 389.9 344.5 402.3 324.6 414.8 320.3 427.2 332.2 439.6 328.6 452.1 334.9 464.6 307.4 477.0 306.7 489.4 311.4 501.9 305.2 514.4 320.6 526.8 310.9 539.2 311.5 551.7 320.4 564.1 326.6 576.6 327.5 589.0 321.3 601.5 328.8"/><path d="M352.5 325.1L364.9 341.6 377.4 335.5 389.9 323.9 402.3 335.8 414.8 350.8 427.2 347.8 439.6 336.5 452.1 319.5 464.6 314.1 477.0 324.2 489.4 331.1 501.9 317.2 514.4 324.6 526.8 311.4 539.2 324.4 551.7 346.2 564.1 342.8 576.6 354.9 589.0 347.6 601.5 345.6"/><path d="M352.5 355.0L364.9 359.7 377.4 348.1 389.9 357.2 402.3 350.6 414.8 315.6 427.2 321.8 439.6 326.5 452.1 299.8 464.6 302.8 477.0 314.6 489.4 320.5 501.9 317.6 514.4 315.0 526.8 320.6 539.2 322.9 551.7 334.3 564.1 340.5 576.6 360.1 589.0 352.9 601.5 359.4"/><path d="M352.5 351.8L364.9 348.6 377.4 353.9 389.9 333.2 402.3 330.1 414.8 349.3 427.2 349.8 439.6 344.4 452.1 349.4 464.6 342.6 477.0 331.8 489.4 335.2 501.9 343.9 514.4 343.6 526.8 363.3 539.2 365.8 551.7 363.2 564.1 354.1 576.6 377.1 589.0 390.3 601.5 377.5"/><path d="M352.5 341.6L364.9 332.2 377.4 345.4 389.9 342.4 402.3 350.3 414.8 345.1 427.2 332.0 439.6 344.1 452.1 341.3 464.6 335.9 477.0 328.4 489.4 333.5 501.9 345.3 514.4 345.4 526.8 372.3 539.2 383.6 551.7 385.8 564.1 386.5 576.6 376.3 589.0 379.4 601.5 363.0"/><path d="M352.5 324.0L364.9 353.9 377.4 352.9 389.9 358.7 402.3 346.0 414.8 348.0 427.2 342.3 439.6 319.5 452.1 318.7 464.6 320.0 477.0 321.9 489.4 334.8 501.9 341.3 514.4 331.8 526.8 329.1 539.2 332.1 551.7 335.7 564.1 338.3 576.6 324.9 589.0 332.9 601.5 333.4"/><path d="M352.5 300.2L364.9 299.8 377.4 299.4 389.9 299.5 402.3 299.6 414.8 300.8 427.2 299.4 439.6 298.0 452.1 297.7 464.6 304.3 477.0 298.2 489.4 310.5 501.9 327.9 514.4 325.5 526.8 348.1 539.2 350.1 551.7 336.5 564.1 355.7 576.6 352.5 589.0 346.9 601.5 370.1"/><path d="M352.5 369.4L364.9 358.3 377.4 345.3 389.9 342.4 402.3 342.3 414.8 348.1 427.2 319.2 439.6 322.9 452.1 325.1 464.6 321.6 477.0 325.3 489.4 333.7 501.9 321.9 514.4 315.1 526.8 319.2 539.2 322.3 551.7 325.1 564.1 333.5 576.6 359.9 589.0 353.3 601.5 355.9"/><path d="M352.5 357.3L364.9 347.7 377.4 339.2 389.9 340.5 402.3 342.4 414.8 331.6 427.2 334.1 439.6 334.1 452.1 333.6 464.6 338.4 477.0 324.6 489.4 333.3 501.9 329.6 514.4 332.2 526.8 332.5 539.2 324.5 551.7 332.1 564.1 356.9 576.6 356.9 589.0 369.6 601.5 357.0"/><path d="M352.5 327.0L364.9 327.5 377.4 321.7 389.9 315.8 402.3 326.0 414.8 331.6 427.2 337.0 439.6 334.0 452.1 329.4 464.6 323.7 477.0 333.6 489.4 333.4 501.9 344.3 514.4 355.3 526.8 378.4 539.2 372.3 551.7 384.8 564.1 365.5 576.6 378.3 589.0 382.3 601.5 391.8"/><path d="M352.5 308.6L364.9 332.7 377.4 331.5 389.9 330.1 402.3 315.6 414.8 312.8 427.2 327.2 439.6 341.6 452.1 342.5 464.6 332.8 477.0 338.4 489.4 325.9 501.9 326.8 514.4 325.7 526.8 342.0 539.2 328.2 551.7 326.8 564.1 335.6 576.6 345.5 589.0 332.1 601.5 330.4"/><path d="M352.5 301.2L364.9 317.8 377.4 315.9 389.9 315.4 402.3 312.9 414.8 332.1 427.2 329.4 439.6 319.3 452.1 329.0 464.6 332.3 477.0 331.7 489.4 325.2 501.9 328.3 514.4 337.3 526.8 339.4 539.2 341.2 551.7 352.9 564.1 342.7 576.6 352.4 589.0 348.4 601.5 335.8"/><path d="M352.5 357.7L364.9 361.1 377.4 346.8 389.9 336.2 402.3 347.5 414.8 345.7 427.2 324.8 439.6 317.0 452.1 322.1 464.6 318.1 477.0 329.3 489.4 328.2 501.9 335.9 514.4 340.5 526.8 348.5 539.2 352.6 551.7 353.4 564.1 339.8 576.6 356.3 589.0 351.3 601.5 340.6"/><path d="M352.5 372.4L364.9 358.4 377.4 369.3 389.9 340.3 402.3 343.0 414.8 341.5 427.2 331.4 439.6 340.1 452.1 328.4 464.6 328.6 477.0 325.9 489.4 336.2 501.9 328.8 514.4 335.8 526.8 341.8 539.2 323.4 551.7 363.3 564.1 363.9 576.6 367.1 589.0 374.2 601.5 367.1"/><path d="M352.5 333.5L364.9 310.0 377.4 309.8 389.9 314.9 402.3 325.0 414.8 328.1 427.2 330.0 439.6 330.1 452.1 332.2 464.6 333.5 477.0 335.1 489.4 343.5 501.9 330.5 514.4 331.7 526.8 343.9 539.2 346.1 551.7 336.8 564.1 336.9 576.6 338.3 589.0 343.2 601.5 368.9"/><path d="M352.5 369.7L364.9 357.6 377.4 355.1 389.9 371.8 402.3 359.4 414.8 360.8 427.2 350.6 439.6 336.2 452.1 332.3 464.6 331.1 477.0 342.5 489.4 335.9 501.9 348.8 514.4 349.4 526.8 351.3 539.2 342.7 551.7 321.0 564.1 328.1 576.6 324.5 589.0 331.6 601.5 333.7"/><path d="M352.5 303.3L364.9 303.8 377.4 309.3 389.9 314.1 402.3 319.1 414.8 321.8 427.2 314.1 439.6 314.8 452.1 311.8 464.6 313.6 477.0 317.4 489.4 320.9 501.9 340.6 514.4 333.5 526.8 319.2 539.2 330.3 551.7 326.6 564.1 333.5 576.6 334.3 589.0 341.5 601.5 338.8"/><path d="M352.5 331.5L364.9 353.3 377.4 361.8 389.9 344.6 402.3 338.4 414.8 348.6 427.2 344.3 439.6 329.3 452.1 331.6 464.6 336.4 477.0 333.3 489.4 336.6 501.9 333.0 514.4 348.7 526.8 372.2 539.2 372.1 551.7 362.7 564.1 369.2 576.6 368.1 589.0 367.0 601.5 354.7"/><path d="M352.5 329.7L364.9 320.6 377.4 315.9 389.9 318.4 402.3 316.3 414.8 337.9 427.2 334.0 439.6 327.8 452.1 327.8 464.6 335.3 477.0 344.6 489.4 334.9 501.9 328.3 514.4 324.5 526.8 327.9 539.2 333.3 551.7 354.4 564.1 370.4 576.6 357.9 589.0 330.4 601.5 318.7"/><path d="M352.5 325.9L364.9 326.8 377.4 334.2 389.9 321.1 402.3 332.1 414.8 340.6 427.2 314.9 439.6 304.0 452.1 323.0 464.6 319.9 477.0 321.9 489.4 355.6 501.9 354.4 514.4 353.4 526.8 332.5 539.2 334.9 551.7 340.9 564.1 332.5 576.6 352.7 589.0 342.0 601.5 359.5"/><path d="M352.5 348.3L364.9 338.8 377.4 343.9 389.9 357.0 402.3 358.6 414.8 338.8 427.2 343.0 439.6 335.2 452.1 339.3 464.6 342.5 477.0 339.2 489.4 346.9 501.9 339.8 514.4 353.0 526.8 350.5 539.2 359.3 551.7 360.5 564.1 351.3 576.6 366.3 589.0 347.0 601.5 359.0"/><path d="M352.5 334.9L364.9 334.6 377.4 334.5 389.9 326.8 402.3 332.5 414.8 321.6 427.2 299.4 439.6 301.5 452.1 297.7 464.6 309.2 477.0 312.8 489.4 317.8 501.9 312.3 514.4 327.0 526.8 323.9 539.2 316.6 551.7 305.5 564.1 305.3 576.6 326.8 589.0 339.1 601.5 342.0"/><path d="M352.5 330.9L364.9 329.3 377.4 344.9 389.9 346.2 402.3 345.3 414.8 356.9 427.2 348.0 439.6 343.1 452.1 324.9 464.6 318.7 477.0 316.8 489.4 320.0 501.9 326.9 514.4 325.4 526.8 333.6 539.2 346.4 551.7 340.4 564.1 342.2 576.6 348.2 589.0 332.7 601.5 349.7"/><path d="M352.5 331.3L364.9 332.3 377.4 314.1 389.9 323.3 402.3 330.0 414.8 329.1 427.2 319.7 439.6 324.1 452.1 310.8 464.6 319.6 477.0 328.2 489.4 336.2 501.9 347.1 514.4 347.2 526.8 353.1 539.2 362.0 551.7 366.2 564.1 352.6 576.6 350.2 589.0 345.4 601.5 350.2"/><path d="M352.5 345.0L364.9 354.0 377.4 358.3 389.9 365.3 402.3 354.5 414.8 363.2 427.2 362.6 439.6 364.0 452.1 361.4 464.6 344.3 477.0 356.9 489.4 344.4 501.9 344.3 514.4 344.9 526.8 346.8 539.2 366.9 551.7 374.0 564.1 375.1 576.6 366.6 589.0 362.1 601.5 363.8"/><path d="M352.5 350.6L364.9 346.6 377.4 325.1 389.9 331.5 402.3 332.7 414.8 325.4 427.2 330.8 439.6 336.5 452.1 332.1 464.6 351.9 477.0 340.9 489.4 340.3 501.9 343.0 514.4 347.7 526.8 363.0 539.2 356.0 551.7 344.7 564.1 367.2 576.6 363.8 589.0 367.9 601.5 374.0"/><path d="M352.5 362.0L364.9 362.7 377.4 346.2 389.9 341.1 402.3 340.4 414.8 345.1 427.2 354.8 439.6 339.2 452.1 339.3 464.6 337.2 477.0 339.0 489.4 322.3 501.9 315.9 514.4 319.8 526.8 316.6 539.2 318.0 551.7 319.0 564.1 330.8 576.6 318.8 589.0 310.0 601.5 308.2"/><path d="M352.5 354.9L364.9 338.5 377.4 348.3 389.9 351.5 402.3 348.4 414.8 332.6 427.2 330.1 439.6 327.0 452.1 322.1 464.6 310.2 477.0 308.2 489.4 306.1 501.9 306.9 514.4 315.4 526.8 313.5 539.2 308.7 551.7 332.8 564.1 341.7 576.6 365.5 589.0 373.2 601.5 363.3"/><path d="M352.5 350.2L364.9 348.5 377.4 348.3 389.9 350.0 402.3 345.2 414.8 350.0 427.2 352.2 439.6 327.3 452.1 329.7 464.6 331.6 477.0 327.5 489.4 341.7 501.9 344.3 514.4 358.3 526.8 375.3 539.2 383.6 551.7 376.1 564.1 370.7 576.6 365.6 589.0 350.3 601.5 348.2"/><path d="M352.5 353.7L364.9 332.2 377.4 337.7 389.9 323.9 402.3 311.9 414.8 319.1 427.2 309.4 439.6 319.9 452.1 327.2 464.6 328.8 477.0 324.0 489.4 326.3 501.9 338.6 514.4 355.4 526.8 349.3 539.2 328.2 551.7 327.9 564.1 332.6 576.6 338.8 589.0 349.6 601.5 339.1"/><path d="M352.5 321.5L364.9 311.3 377.4 321.7 389.9 321.6 402.3 330.6 414.8 335.5 427.2 338.3 439.6 333.2 452.1 333.9 464.6 327.2 477.0 331.2 489.4 334.0 501.9 337.2 514.4 343.2 526.8 349.8 539.2 350.0 551.7 347.7 564.1 343.6 576.6 326.2 589.0 340.4 601.5 358.7"/><path d="M352.5 311.9L364.9 337.2 377.4 349.4 389.9 350.9 402.3 347.3 414.8 344.4 427.2 334.0 439.6 326.4 452.1 324.3 464.6 327.5 477.0 314.0 489.4 314.6 501.9 311.8 514.4 313.0 526.8 307.0 539.2 309.2 551.7 316.1 564.1 312.5 576.6 328.6 589.0 338.1 601.5 338.6"/><path d="M352.5 362.8L364.9 348.4 377.4 342.6 389.9 328.7 402.3 313.7 414.8 334.8 427.2 329.1 439.6 318.0 452.1 319.5 464.6 322.9 477.0 315.9 489.4 318.4 501.9 334.9 514.4 346.1 526.8 347.3 539.2 335.0 551.7 354.0 564.1 367.9 576.6 361.1 589.0 357.4 601.5 366.6"/><path d="M352.5 363.9L364.9 371.0 377.4 366.6 389.9 357.9 402.3 353.0 414.8 344.7 427.2 344.2 439.6 352.0 452.1 342.0 464.6 330.0 477.0 329.7 489.4 338.1 501.9 329.7 514.4 334.0 526.8 330.4 539.2 323.2 551.7 342.3 564.1 345.0 576.6 340.1 589.0 343.3 601.5 344.3"/><path d="M352.5 348.4L364.9 356.9 377.4 345.2 389.9 353.2 402.3 345.4 414.8 344.9 427.2 330.3 439.6 318.7 452.1 322.3 464.6 323.1 477.0 322.7 489.4 327.6 501.9 321.9 514.4 336.7 526.8 357.5 539.2 358.3 551.7 362.9 564.1 356.7 576.6 364.1 589.0 360.9 601.5 355.5"/><path d="M352.5 342.4L364.9 333.8 377.4 332.2 389.9 337.5 402.3 327.7 414.8 334.7 427.2 329.1 439.6 331.6 452.1 321.2 464.6 312.1 477.0 320.4 489.4 320.6 501.9 327.8 514.4 347.0 526.8 359.3 539.2 356.1 551.7 375.7 564.1 361.8 576.6 338.7 589.0 369.2 601.5 361.7"/><path d="M352.5 359.4L364.9 347.5 377.4 354.2 389.9 352.3 402.3 374.4 414.8 362.2 427.2 367.3 439.6 360.5 452.1 360.9 464.6 355.0 477.0 352.1 489.4 338.2 501.9 343.8 514.4 331.6 526.8 336.7 539.2 349.6 551.7 349.9 564.1 358.1 576.6 371.7 589.0 380.5 601.5 377.3"/><path d="M352.5 343.6L364.9 352.6 377.4 351.2 389.9 346.3 402.3 336.5 414.8 335.1 427.2 332.7 439.6 324.3 452.1 327.8 464.6 329.2 477.0 319.0 489.4 313.2 501.9 324.5 514.4 337.5 526.8 352.1 539.2 356.4 551.7 355.8 564.1 346.1 576.6 351.4 589.0 337.1 601.5 319.0"/><path d="M352.5 342.3L364.9 339.3 377.4 352.9 389.9 339.9 402.3 331.2 414.8 324.7 427.2 316.2 439.6 324.2 452.1 328.3 464.6 335.1 477.0 330.5 489.4 333.8 501.9 344.5 514.4 342.8 526.8 335.0 539.2 315.0 551.7 323.9 564.1 326.2 576.6 309.2 589.0 318.0 601.5 337.9"/><path d="M352.5 373.0L364.9 355.8 377.4 358.3 389.9 355.6 402.3 357.7 414.8 352.8 427.2 329.4 439.6 340.5 452.1 342.3 464.6 336.3 477.0 335.2 489.4 335.9 501.9 341.2 514.4 349.1 526.8 332.9 539.2 333.0 551.7 329.0 564.1 336.6 576.6 332.5 589.0 334.0 601.5 316.6"/><path d="M352.5 328.3L364.9 320.1 377.4 330.8 389.9 338.5 402.3 348.9 414.8 335.0 427.2 331.3 439.6 331.1 452.1 340.7 464.6 341.2 477.0 347.5 489.4 349.8 501.9 362.8 514.4 366.9 526.8 369.0 539.2 373.7 551.7 383.2 564.1 387.8 576.6 370.0 589.0 365.1 601.5 354.5"/><path d="M352.5 335.0L364.9 321.3 377.4 345.8 389.9 343.7 402.3 334.2 414.8 327.9 427.2 330.5 439.6 320.6 452.1 319.0 464.6 323.4 477.0 330.1 489.4 331.7 501.9 328.6 514.4 356.6 526.8 353.3 539.2 353.0 551.7 345.8 564.1 367.0 576.6 353.1 589.0 353.5 601.5 329.1"/><path d="M352.5 329.7L364.9 341.1 377.4 334.0 389.9 320.6 402.3 313.3 414.8 322.6 427.2 331.8 439.6 329.9 452.1 319.4 464.6 320.9 477.0 322.1 489.4 325.7 501.9 338.0 514.4 339.0 526.8 330.5 539.2 359.3 551.7 340.9 564.1 341.9 576.6 347.1 589.0 334.9 601.5 364.8"/><path d="M352.5 392.0L364.9 384.0 377.4 378.0 389.9 370.0 402.3 360.0 414.8 352.0 427.2 346.0 439.6 340.0 452.1 334.0 464.6 330.0 477.0 328.0 489.4 330.0 501.9 336.0 514.4 348.0 526.8 365.0 539.2 380.0 551.7 398.0 564.1 400.0 576.6 390.0 589.0 372.0 601.5 360.0"/><path d="M352.5 312.0L364.9 308.0 377.4 305.0 389.9 303.0 402.3 302.0 414.8 300.0 427.2 300.0 439.6 302.0 452.1 304.0 464.6 306.0 477.0 308.0 489.4 306.0 501.9 300.0 514.4 298.0 526.8 300.0 539.2 299.0 551.7 300.0 564.1 308.0 576.6 318.0 589.0 332.0 601.5 340.0"/></g>
<path d="M352.5 354.6L364.9 336.0 377.4 325.4 389.9 323.0 402.3 328.0 414.8 326.0 427.2 323.0 439.6 321.4 452.1 319.0 464.6 315.0 477.0 313.4 489.4 318.0 501.9 325.0 514.4 336.0 526.8 346.0 539.2 348.0 551.7 340.0 564.1 330.6 576.6 329.4 589.0 332.0 601.5 339.0" fill="none" stroke="#9a6cef" stroke-width="1.85" stroke-linejoin="round" stroke-linecap="butt"/>
<path d="M352.5 330.0L364.9 344.6 377.4 351.0 389.9 350.6 402.3 343.4 414.8 336.0 427.2 331.0 439.6 325.4 452.1 317.0 464.6 311.6 477.0 311.0 489.4 316.0 501.9 323.0 514.4 332.0 526.8 333.0 539.2 328.0 551.7 323.0 564.1 326.6 576.6 336.0 589.0 349.0 601.5 362.0" fill="none" stroke="#fb7748" stroke-width="1.85" stroke-linejoin="round" stroke-linecap="butt"/>
<line x1="340.30" y1="292.20" x2="340.30" y2="406.50" stroke="#1a1a1a" stroke-width="1.25"/>
<line x1="337.40" y1="328.00" x2="340.30" y2="328.00" stroke="#333" stroke-width="1.1"/>
<text x="334.90" y="331.50" text-anchor="end" class="tk">95000</text>
<line x1="337.40" y1="372.80" x2="340.30" y2="372.80" stroke="#333" stroke-width="1.1"/>
<text x="334.90" y="376.30" text-anchor="end" class="tk">94000</text>
<text x="477.25" y="285.80" text-anchor="middle" class="ti">(f) Surface Pressure [hPa]</text>
<rect x="123.65" y="431.70" width="74.70" height="114.30" fill="#ebebeb"/>
<g fill="none" stroke="#000" stroke-opacity="0.5" stroke-width="0.55" stroke-linejoin="round"><path d="M36.5 470.9L38.7 471.2 41.9 471.5 45.5 471.8 49.0 472.2 52.1 472.6 55.2 473.1 58.3 473.5 61.4 473.8 64.5 473.9 67.6 473.9 70.7 473.8 73.9 474.0 77.0 474.6 80.1 475.5 83.2 476.3 86.3 476.6 89.4 476.1 92.5 475.1 95.6 474.1 98.8 473.8 101.9 474.4 105.0 475.7 108.1 477.0 111.2 478.0 114.3 478.5 117.4 478.7 120.5 478.9 123.7 479.2 126.8 479.7 129.9 480.4 133.0 481.0 136.1 481.5 139.2 481.8 142.3 481.9 145.4 482.0 148.6 482.0 151.7 481.8 154.8 481.6 157.9 481.4 161.0 481.2 164.1 481.2 167.2 481.2 170.3 481.2 173.4 481.5 176.6 482.1 179.7 482.9 182.8 483.8 185.9 484.5 189.0 485.1 192.1 485.7 195.2 486.1 198.3 486.6 201.5 487.0 204.6 487.4 207.7 487.7 210.8 487.8 213.9 487.6 217.0 487.1 220.1 486.6 223.2 486.2 226.4 486.1 229.5 486.0 232.6 486.0 235.7 485.8 238.8 485.6 241.9 485.3 245.0 484.9 248.1 484.4 251.3 483.4 254.4 482.2 257.5 481.1 260.6 480.2 263.7 479.8 266.8 479.7 269.9 479.6 273.1 479.4 276.5 479.0 280.1 478.4 283.3 477.8 285.5 477.5"/><path d="M36.5 470.0L38.7 470.0 41.9 470.0 45.5 470.0 49.0 470.1 52.1 470.2 55.2 470.2 58.3 470.4 61.4 470.6 64.5 470.9 67.6 471.3 70.7 471.8 73.9 472.3 77.0 473.0 80.1 473.7 83.2 474.4 86.3 474.9 89.4 475.1 92.5 475.1 95.6 475.1 98.8 475.2 101.9 475.4 105.0 475.8 108.1 476.2 111.2 476.6 114.3 477.0 117.4 477.4 120.5 478.0 123.7 478.7 126.8 479.8 129.9 481.3 133.0 482.6 136.1 483.7 139.2 484.1 142.3 484.3 145.4 484.3 148.6 484.3 151.7 484.2 154.8 484.0 157.9 484.1 161.0 484.7 164.1 486.3 167.2 488.6 170.3 490.9 173.4 492.5 176.6 493.3 179.7 493.5 182.8 493.4 185.9 493.6 189.0 494.1 192.1 494.8 195.2 495.3 198.3 495.2 201.5 494.1 204.6 492.3 207.7 490.5 210.8 489.1 213.9 488.2 217.0 487.7 220.1 487.3 223.2 486.9 226.4 486.6 229.5 486.3 232.6 485.9 235.7 485.5 238.8 484.9 241.9 484.2 245.0 483.5 248.1 482.8 251.3 482.1 254.4 481.5 257.5 481.0 260.6 480.5 263.7 480.1 266.8 479.7 269.9 479.5 273.1 479.4 276.5 479.4 280.1 479.5 283.3 479.7 285.5 479.8"/><path d="M36.5 471.1L38.7 470.7 41.9 470.1 45.5 469.5 49.0 468.9 52.1 468.2 55.2 467.5 58.3 467.0 61.4 466.7 64.5 466.9 67.6 467.4 70.7 468.0 73.9 468.5 77.0 468.9 80.1 469.2 83.2 469.5 86.3 469.6 89.4 469.4 92.5 469.1 95.6 468.7 98.8 468.4 101.9 468.0 105.0 467.7 108.1 467.4 111.2 467.2 114.3 467.1 117.4 467.1 120.5 467.2 123.7 467.5 126.8 468.0 129.9 468.8 133.0 469.6 136.1 470.5 139.2 471.5 142.3 472.6 145.4 473.7 148.6 474.9 151.7 476.2 154.8 477.6 157.9 478.9 161.0 480.1 164.1 481.1 167.2 481.9 170.3 482.6 173.4 483.0 176.6 482.8 179.7 482.3 182.8 481.8 185.9 481.9 189.0 482.9 192.1 484.5 195.2 486.2 198.3 487.4 201.5 487.9 204.6 488.2 207.7 488.2 210.8 488.1 213.9 487.9 217.0 487.6 220.1 487.2 223.2 486.8 226.4 486.4 229.5 485.9 232.6 485.4 235.7 485.3 238.8 485.5 241.9 486.1 245.0 486.6 248.1 486.7 251.3 486.4 254.4 485.8 257.5 485.0 260.6 484.4 263.7 484.0 266.8 483.5 269.9 483.2 273.1 482.9 276.5 482.8 280.1 482.7 283.3 482.7 285.5 482.7"/><path d="M36.5 475.5L38.7 474.9 41.9 474.0 45.5 473.1 49.0 472.8 52.1 473.2 55.2 474.1 58.3 475.1 61.4 475.4 64.5 474.7 67.6 473.6 70.7 472.2 73.9 471.3 77.0 470.6 80.1 470.2 83.2 469.9 86.3 469.8 89.4 469.8 92.5 470.0 95.6 470.3 98.8 470.8 101.9 471.7 105.0 472.8 108.1 474.0 111.2 474.7 114.3 474.6 117.4 474.1 120.5 473.6 123.7 473.6 126.8 474.4 129.9 475.7 133.0 477.1 136.1 478.5 139.2 479.9 142.3 481.4 145.4 482.8 148.6 483.9 151.7 484.6 154.8 485.0 157.9 485.3 161.0 485.6 164.1 485.8 167.2 485.9 170.3 486.0 173.4 486.2 176.6 486.5 179.7 486.8 182.8 487.1 185.9 487.0 189.0 486.2 192.1 485.0 195.2 484.0 198.3 483.6 201.5 484.4 204.6 485.9 207.7 487.6 210.8 488.7 213.9 489.3 217.0 489.5 220.1 489.5 223.2 489.1 226.4 488.1 229.5 486.7 232.6 485.3 235.7 484.4 238.8 484.2 241.9 484.3 245.0 484.7 248.1 484.9 251.3 485.0 254.4 485.1 257.5 485.2 260.6 485.2 263.7 485.0 266.8 484.7 269.9 484.4 273.1 484.1 276.5 484.1 280.1 484.0 283.3 484.1 285.5 484.1"/><path d="M36.5 471.3L38.7 471.2 41.9 471.1 45.5 471.0 49.0 470.8 52.1 470.3 55.2 469.7 58.3 469.2 61.4 469.2 64.5 470.0 67.6 471.3 70.7 472.6 73.9 473.7 77.0 474.3 80.1 474.7 83.2 474.9 86.3 475.1 89.4 475.0 92.5 474.6 95.6 474.4 98.8 474.7 101.9 475.8 105.0 477.5 108.1 479.1 111.2 480.0 114.3 479.7 117.4 478.7 120.5 477.5 123.7 476.8 126.8 476.5 129.9 476.5 133.0 476.7 136.1 477.2 139.2 478.0 142.3 479.1 145.4 480.4 148.6 481.4 151.7 482.4 154.8 483.2 157.9 484.0 161.0 484.8 164.1 485.4 167.2 486.0 170.3 486.4 173.4 486.8 176.6 486.9 179.7 486.9 182.8 486.9 185.9 486.8 189.0 486.8 192.1 486.8 195.2 486.8 198.3 486.5 201.5 486.1 204.6 485.5 207.7 484.8 210.8 484.1 213.9 483.5 217.0 482.9 220.1 482.4 223.2 482.1 226.4 482.1 229.5 482.3 232.6 482.6 235.7 482.9 238.8 483.3 241.9 483.8 245.0 484.3 248.1 484.7 251.3 484.9 254.4 484.9 257.5 485.0 260.6 485.3 263.7 486.3 266.8 487.6 269.9 488.7 273.1 489.0 276.5 488.1 280.1 486.4 283.3 484.5 285.5 483.2"/><path d="M36.5 461.5L38.7 461.1 41.9 460.5 45.5 460.0 49.0 460.0 52.1 460.8 55.2 462.2 58.3 463.7 61.4 464.7 64.5 465.0 67.6 465.0 70.7 464.8 73.9 464.9 77.0 465.3 80.1 465.9 83.2 466.5 86.3 467.0 89.4 467.4 92.5 467.7 95.6 468.0 98.8 468.2 101.9 468.3 105.0 468.4 108.1 468.4 111.2 468.4 114.3 468.3 117.4 468.2 120.5 468.1 123.7 468.4 126.8 469.1 129.9 470.2 133.0 471.4 136.1 472.5 139.2 473.7 142.3 475.0 145.4 476.2 148.6 477.1 151.7 477.7 154.8 478.1 157.9 478.4 161.0 479.1 164.1 480.2 167.2 481.7 170.3 483.2 173.4 484.3 176.6 484.9 179.7 485.2 182.8 485.4 185.9 485.8 189.0 486.6 192.1 487.6 195.2 488.5 198.3 489.2 201.5 489.3 204.6 489.2 207.7 489.1 210.8 489.1 213.9 489.5 217.0 490.2 220.1 490.8 223.2 490.7 226.4 489.7 229.5 488.0 232.6 486.4 235.7 485.5 238.8 485.8 241.9 486.7 245.0 487.8 248.1 488.6 251.3 489.1 254.4 489.4 257.5 489.7 260.6 490.0 263.7 490.4 266.8 490.9 269.9 491.4 273.1 492.0 276.5 492.9 280.1 493.9 283.3 494.9 285.5 495.6"/><path d="M36.5 468.6L38.7 468.1 41.9 467.3 45.5 466.6 49.0 466.0 52.1 465.8 55.2 465.7 58.3 465.6 61.4 465.5 64.5 465.1 67.6 464.6 70.7 464.1 73.9 463.7 77.0 463.4 80.1 463.2 83.2 463.2 86.3 463.3 89.4 463.5 92.5 464.0 95.6 464.5 98.8 465.3 101.9 466.6 105.0 468.1 108.1 469.6 111.2 470.5 114.3 470.6 117.4 470.1 120.5 469.5 123.7 469.2 126.8 469.1 129.9 469.1 133.0 469.2 136.1 469.5 139.2 470.1 142.3 470.8 145.4 471.6 148.6 472.5 151.7 473.5 154.8 474.6 157.9 475.7 161.0 476.6 164.1 477.2 167.2 477.7 170.3 478.0 173.4 478.3 176.6 478.3 179.7 478.1 182.8 478.0 185.9 478.1 189.0 478.5 192.1 479.1 195.2 479.7 198.3 480.1 201.5 480.3 204.6 480.2 207.7 480.1 210.8 479.7 213.9 478.9 217.0 477.9 220.1 476.9 223.2 476.4 226.4 476.7 229.5 477.6 232.6 478.4 235.7 478.6 238.8 477.6 241.9 476.0 245.0 474.4 248.1 473.1 251.3 472.5 254.4 472.2 257.5 472.1 260.6 471.9 263.7 471.6 266.8 471.3 269.9 471.1 273.1 471.0 276.5 471.0 280.1 471.1 283.3 471.3 285.5 471.4"/><path d="M36.5 471.0L38.7 470.9 41.9 470.7 45.5 470.5 49.0 470.3 52.1 470.3 55.2 470.3 58.3 470.4 61.4 470.5 64.5 470.8 67.6 471.2 70.7 471.6 73.9 472.3 77.0 473.2 80.1 474.4 83.2 475.6 86.3 476.3 89.4 476.3 92.5 475.8 95.6 475.3 98.8 475.2 101.9 475.7 105.0 476.6 108.1 477.5 111.2 478.3 114.3 479.0 117.4 479.5 120.5 480.0 123.7 480.4 126.8 480.6 129.9 480.6 133.0 480.7 136.1 481.1 139.2 481.9 142.3 483.0 145.4 484.1 148.6 484.9 151.7 485.2 154.8 485.3 157.9 485.3 161.0 485.5 164.1 485.7 167.2 486.0 170.3 486.4 173.4 486.8 176.6 487.0 179.7 487.3 182.8 487.7 185.9 488.4 189.0 490.0 192.1 492.0 195.2 493.9 198.3 495.0 201.5 494.8 204.6 493.8 207.7 492.6 210.8 491.8 213.9 491.8 217.0 492.1 220.1 492.6 223.2 492.8 226.4 492.8 229.5 492.8 232.6 492.7 235.7 492.5 238.8 492.3 241.9 491.9 245.0 491.6 248.1 491.2 251.3 490.5 254.4 489.8 257.5 489.2 260.6 489.1 263.7 489.8 266.8 491.1 269.9 492.3 273.1 493.0 276.5 492.8 280.1 492.1 283.3 491.3 285.5 490.7"/><path d="M36.5 470.2L38.7 470.2 41.9 470.1 45.5 470.2 49.0 470.3 52.1 470.7 55.2 471.3 58.3 471.8 61.4 472.4 64.5 473.1 67.6 473.9 70.7 474.6 73.9 474.8 77.0 474.4 80.1 473.6 83.2 472.7 86.3 472.0 89.4 471.4 92.5 471.0 95.6 470.6 98.8 470.5 101.9 470.7 105.0 471.2 108.1 471.7 111.2 472.2 114.3 472.8 117.4 473.4 120.5 474.0 123.7 474.4 126.8 474.4 129.9 474.2 133.0 474.0 136.1 474.2 139.2 474.9 142.3 475.9 145.4 477.0 148.6 478.2 151.7 479.4 154.8 480.9 157.9 482.2 161.0 483.2 164.1 483.8 167.2 484.0 170.3 484.2 173.4 484.4 176.6 484.9 179.7 485.4 182.8 485.9 185.9 486.1 189.0 485.9 192.1 485.3 195.2 484.8 198.3 484.5 201.5 484.7 204.6 485.1 207.7 485.6 210.8 486.3 213.9 487.1 217.0 488.0 220.1 489.0 223.2 490.2 226.4 491.9 229.5 493.8 232.6 495.6 235.7 496.8 238.8 497.1 241.9 496.7 245.0 496.3 248.1 496.3 251.3 497.2 254.4 498.6 257.5 499.9 260.6 500.7 263.7 500.6 266.8 500.0 269.9 499.2 273.1 498.8 276.5 498.9 280.1 499.2 283.3 499.6 285.5 499.8"/><path d="M36.5 464.0L38.7 463.5 41.9 462.8 45.5 462.0 49.0 461.5 52.1 461.2 55.2 461.0 58.3 460.9 61.4 461.0 64.5 461.1 67.6 461.3 70.7 461.6 73.9 461.9 77.0 462.1 80.1 462.4 83.2 462.6 86.3 462.7 89.4 462.7 92.5 462.6 95.6 462.5 98.8 462.6 101.9 463.0 105.0 463.4 108.1 464.0 111.2 464.7 114.3 465.5 117.4 466.5 120.5 467.5 123.7 468.7 126.8 470.1 129.9 471.8 133.0 473.2 136.1 474.1 139.2 474.1 142.3 473.4 145.4 472.5 148.6 472.2 151.7 472.4 154.8 472.9 157.9 473.6 161.0 474.1 164.1 474.6 167.2 475.2 170.3 475.5 173.4 475.4 176.6 474.6 179.7 473.2 182.8 471.9 185.9 471.1 189.0 471.3 192.1 471.9 195.2 472.7 198.3 473.4 201.5 474.1 204.6 474.9 207.7 475.5 210.8 475.5 213.9 474.8 217.0 473.7 220.1 472.2 223.2 470.7 226.4 468.9 229.5 466.9 232.6 464.9 235.7 463.3 238.8 462.2 241.9 461.4 245.0 460.9 248.1 460.7 251.3 460.9 254.4 461.5 257.5 462.4 260.6 463.6 263.7 465.3 266.8 467.5 269.9 469.7 273.1 471.2 276.5 471.9 280.1 472.0 283.3 471.9 285.5 471.9"/><path d="M36.5 463.2L38.7 462.9 41.9 462.5 45.5 462.1 49.0 462.1 52.1 462.5 55.2 463.3 58.3 464.0 61.4 464.5 64.5 464.5 67.6 464.2 70.7 463.8 73.9 463.7 77.0 463.8 80.1 464.0 83.2 464.3 86.3 464.8 89.4 465.5 92.5 466.4 95.6 467.3 98.8 468.1 101.9 468.8 105.0 469.4 108.1 470.0 111.2 470.3 114.3 470.4 117.4 470.1 120.5 470.0 123.7 470.1 126.8 470.8 129.9 471.7 133.0 472.8 136.1 474.0 139.2 475.3 142.3 476.7 145.4 478.2 148.6 479.6 151.7 481.2 154.8 482.9 157.9 484.4 161.0 485.2 164.1 485.1 167.2 484.3 170.3 483.4 173.4 483.0 176.6 483.2 179.7 483.9 182.8 484.7 185.9 485.4 189.0 486.2 192.1 487.0 195.2 487.7 198.3 488.0 201.5 488.0 204.6 487.7 207.7 487.2 210.8 486.5 213.9 485.7 217.0 484.7 220.1 483.7 223.2 482.7 226.4 481.9 229.5 481.2 232.6 480.5 235.7 479.8 238.8 478.8 241.9 477.7 245.0 476.8 248.1 476.6 251.3 477.4 254.4 479.0 257.5 480.7 260.6 481.9 263.7 482.4 266.8 482.6 269.9 482.5 273.1 482.5 276.5 482.3 280.1 482.0 283.3 481.6 285.5 481.4"/><path d="M36.5 467.3L38.7 468.1 41.9 469.2 45.5 470.4 49.0 471.2 52.1 471.6 55.2 471.7 58.3 471.7 61.4 471.9 64.5 472.5 67.6 473.2 70.7 473.9 73.9 474.6 77.0 475.3 80.1 475.9 83.2 476.5 86.3 476.9 89.4 476.8 92.5 476.5 95.6 476.3 98.8 476.6 101.9 477.6 105.0 479.1 108.1 480.7 111.2 482.0 114.3 482.8 117.4 483.3 120.5 483.8 123.7 484.5 126.8 485.7 129.9 487.0 133.0 488.5 136.1 489.9 139.2 491.4 142.3 493.1 145.4 494.6 148.6 495.8 151.7 496.5 154.8 497.0 157.9 497.3 161.0 497.6 164.1 497.7 167.2 497.6 170.3 497.5 173.4 497.5 176.6 497.4 179.7 497.2 182.8 497.2 185.9 497.8 189.0 499.2 192.1 501.3 195.2 503.4 198.3 504.8 201.5 505.3 204.6 505.3 207.7 505.0 210.8 504.7 213.9 504.4 217.0 503.9 220.1 503.5 223.2 503.4 226.4 503.9 229.5 504.7 232.6 505.5 235.7 505.9 238.8 505.8 241.9 505.3 245.0 504.7 248.1 504.4 251.3 504.5 254.4 504.8 257.5 505.1 260.6 505.4 263.7 505.6 266.8 505.7 269.9 505.9 273.1 506.0 276.5 506.2 280.1 506.3 283.3 506.5 285.5 506.6"/><path d="M36.5 465.0L38.7 465.3 41.9 465.7 45.5 466.2 49.0 466.8 52.1 467.5 55.2 468.3 58.3 469.1 61.4 469.9 64.5 470.6 67.6 471.4 70.7 472.1 73.9 472.4 77.0 472.3 80.1 471.8 83.2 471.2 86.3 470.7 89.4 470.2 92.5 469.8 95.6 469.4 98.8 469.3 101.9 469.6 105.0 470.0 108.1 470.6 111.2 471.3 114.3 472.2 117.4 473.2 120.5 474.3 123.7 475.2 126.8 475.9 129.9 476.5 133.0 477.0 136.1 477.5 139.2 478.1 142.3 478.6 145.4 479.1 148.6 479.3 151.7 479.2 154.8 478.8 157.9 478.4 161.0 478.4 164.1 478.8 167.2 479.6 170.3 480.4 173.4 481.1 176.6 481.7 179.7 482.4 182.8 482.9 185.9 483.1 189.0 483.1 192.1 482.9 195.2 482.6 198.3 482.2 201.5 481.8 204.6 481.2 207.7 480.7 210.8 480.6 213.9 481.1 217.0 482.2 220.1 483.2 223.2 483.6 226.4 483.4 229.5 482.8 232.6 482.0 235.7 481.2 238.8 480.4 241.9 479.6 245.0 478.8 248.1 478.4 251.3 478.6 254.4 479.2 257.5 479.7 260.6 479.6 263.7 478.5 266.8 476.9 269.9 475.1 273.1 473.8 276.5 473.0 280.1 472.6 283.3 472.4 285.5 472.3"/><path d="M36.5 461.5L38.7 461.4 41.9 461.1 45.5 460.9 49.0 460.8 52.1 460.8 55.2 460.8 58.3 460.8 61.4 460.9 64.5 460.9 67.6 461.0 70.7 461.0 73.9 461.2 77.0 461.4 80.1 461.8 83.2 462.2 86.3 462.5 89.4 462.6 92.5 462.6 95.6 462.7 98.8 463.0 101.9 463.7 105.0 464.6 108.1 465.7 111.2 466.7 114.3 467.6 117.4 468.6 120.5 469.6 123.7 470.5 126.8 471.4 129.9 472.1 133.0 472.9 136.1 473.6 139.2 474.3 142.3 475.1 145.4 475.7 148.6 476.0 151.7 475.7 154.8 475.0 157.9 474.4 161.0 474.2 164.1 474.8 167.2 475.8 170.3 476.9 173.4 477.8 176.6 478.4 179.7 478.8 182.8 479.2 185.9 479.7 189.0 480.1 192.1 480.6 195.2 481.1 198.3 481.5 201.5 482.0 204.6 482.6 207.7 483.0 210.8 483.1 213.9 482.8 217.0 482.1 220.1 481.3 223.2 480.5 226.4 479.7 229.5 478.8 232.6 478.1 235.7 477.6 238.8 477.8 241.9 478.5 245.0 479.0 248.1 478.5 251.3 476.2 254.4 472.8 257.5 469.5 260.6 467.4 263.7 466.9 266.8 467.6 269.9 468.5 273.1 469.2 276.5 469.3 280.1 469.3 283.3 469.2 285.5 469.2"/><path d="M36.5 450.6L38.7 450.4 41.9 450.0 45.5 449.8 49.0 449.9 52.1 450.5 55.2 451.5 58.3 452.6 61.4 453.3 64.5 453.3 67.6 453.0 70.7 452.6 73.9 452.6 77.0 453.1 80.1 453.9 83.2 454.7 86.3 455.4 89.4 455.9 92.5 456.4 95.6 456.8 98.8 457.2 101.9 457.7 105.0 458.3 108.1 458.9 111.2 459.4 114.3 459.9 117.4 460.4 120.5 460.9 123.7 461.4 126.8 462.1 129.9 462.8 133.0 463.6 136.1 464.3 139.2 464.9 142.3 465.4 145.4 465.9 148.6 466.6 151.7 467.4 154.8 468.4 157.9 469.4 161.0 470.4 164.1 471.3 167.2 472.4 170.3 473.2 173.4 473.5 176.6 472.9 179.7 471.6 182.8 470.4 185.9 470.0 189.0 470.5 192.1 471.8 195.2 473.3 198.3 474.6 201.5 476.0 204.6 477.5 207.7 478.7 210.8 479.1 213.9 478.3 217.0 476.6 220.1 474.8 223.2 473.8 226.4 473.9 229.5 474.6 232.6 475.5 235.7 476.1 238.8 476.1 241.9 475.8 245.0 475.5 248.1 475.4 251.3 475.7 254.4 476.1 257.5 476.4 260.6 476.7 263.7 476.7 266.8 476.7 269.9 476.5 273.1 476.0 276.5 475.2 280.1 474.1 283.3 472.9 285.5 472.2"/><path d="M36.5 469.1L38.7 469.2 41.9 469.5 45.5 469.7 49.0 470.1 52.1 470.5 55.2 471.1 58.3 471.6 61.4 471.8 64.5 471.6 67.6 471.1 70.7 470.6 73.9 470.3 77.0 470.2 80.1 470.2 83.2 470.3 86.3 470.6 89.4 471.3 92.5 472.2 95.6 473.1 98.8 473.5 101.9 473.4 105.0 472.8 108.1 472.2 111.2 472.0 114.3 472.5 117.4 473.4 120.5 474.3 123.7 474.8 126.8 474.8 129.9 474.4 133.0 474.0 136.1 474.2 139.2 475.0 142.3 476.2 145.4 477.7 148.6 479.3 151.7 481.3 154.8 483.7 157.9 485.9 161.0 487.3 164.1 487.5 167.2 486.9 170.3 486.1 173.4 485.7 176.6 485.7 179.7 486.0 182.8 486.4 185.9 486.9 189.0 487.6 192.1 488.6 195.2 489.5 198.3 489.8 201.5 489.3 204.6 488.3 207.7 487.2 210.8 486.6 213.9 486.7 217.0 487.3 220.1 487.9 223.2 488.4 226.4 488.5 229.5 488.6 232.6 488.5 235.7 488.4 238.8 488.0 241.9 487.5 245.0 487.0 248.1 486.8 251.3 487.2 254.4 487.9 257.5 488.6 260.6 489.2 263.7 489.2 266.8 489.0 269.9 489.0 273.1 489.6 276.5 491.3 280.1 493.7 283.3 496.0 285.5 497.7"/><path d="M36.5 474.2L38.7 474.5 41.9 474.8 45.5 475.2 49.0 475.6 52.1 476.0 55.2 476.4 58.3 476.8 61.4 476.9 64.5 476.6 67.6 476.1 70.7 475.5 73.9 475.1 77.0 474.8 80.1 474.6 83.2 474.4 86.3 474.2 89.4 473.7 92.5 473.2 95.6 472.8 98.8 472.7 101.9 473.1 105.0 473.9 108.1 474.7 111.2 475.5 114.3 476.2 117.4 476.9 120.5 477.5 123.7 478.0 126.8 478.1 129.9 477.9 133.0 477.8 136.1 477.9 139.2 478.5 142.3 479.4 145.4 480.3 148.6 481.1 151.7 481.8 154.8 482.5 157.9 483.1 161.0 483.4 164.1 483.4 167.2 483.2 170.3 482.9 173.4 482.9 176.6 483.3 179.7 483.9 182.8 484.6 185.9 485.1 189.0 485.3 192.1 485.5 195.2 485.5 198.3 485.2 201.5 484.6 204.6 483.7 207.7 482.8 210.8 481.9 213.9 481.0 217.0 480.2 220.1 479.4 223.2 478.8 226.4 478.5 229.5 478.4 232.6 478.3 235.7 477.8 238.8 476.6 241.9 475.1 245.0 473.5 248.1 472.1 251.3 471.0 254.4 470.0 257.5 469.2 260.6 468.5 263.7 468.2 266.8 468.0 269.9 467.9 273.1 468.0 276.5 468.1 280.1 468.5 283.3 468.8 285.5 469.0"/><path d="M36.5 461.9L38.7 461.9 41.9 461.9 45.5 461.9 49.0 461.6 52.1 460.9 55.2 459.9 58.3 459.0 61.4 458.6 64.5 458.9 67.6 459.8 70.7 460.7 73.9 461.2 77.0 461.1 80.1 460.7 83.2 460.2 86.3 459.7 89.4 459.1 92.5 458.4 95.6 457.9 98.8 457.8 101.9 458.4 105.0 459.5 108.1 460.6 111.2 461.4 114.3 461.6 117.4 461.5 120.5 461.4 123.7 461.3 126.8 461.3 129.9 461.3 133.0 461.4 136.1 461.7 139.2 462.3 142.3 463.1 145.4 464.0 148.6 464.9 151.7 466.0 154.8 467.1 157.9 468.2 161.0 469.1 164.1 469.8 167.2 470.3 170.3 470.6 173.4 470.5 176.6 469.9 179.7 468.8 182.8 467.7 185.9 467.0 189.0 467.1 192.1 467.6 195.2 468.1 198.3 468.2 201.5 467.7 204.6 466.9 207.7 465.9 210.8 465.0 213.9 464.1 217.0 463.2 220.1 462.3 223.2 461.6 226.4 461.3 229.5 461.2 232.6 461.2 235.7 461.2 238.8 461.3 241.9 461.6 245.0 461.6 248.1 461.2 251.3 459.9 254.4 458.0 257.5 456.2 260.6 455.0 263.7 454.9 266.8 455.4 269.9 456.0 273.1 456.3 276.5 455.9 280.1 455.2 283.3 454.5 285.5 454.0"/><path d="M36.5 459.0L38.7 458.7 41.9 458.3 45.5 457.8 49.0 457.6 52.1 457.6 55.2 457.7 58.3 458.0 61.4 458.3 64.5 458.8 67.6 459.4 70.7 460.1 73.9 460.4 77.0 460.5 80.1 460.3 83.2 460.1 86.3 459.7 89.4 458.9 92.5 457.8 95.6 457.0 98.8 457.0 101.9 458.1 105.0 460.0 108.1 462.1 111.2 463.8 114.3 465.0 117.4 466.0 120.5 466.9 123.7 467.9 126.8 468.9 129.9 469.8 133.0 470.8 136.1 472.0 139.2 473.4 142.3 475.1 145.4 476.6 148.6 477.8 151.7 478.4 154.8 478.7 157.9 478.7 161.0 478.8 164.1 478.9 167.2 478.9 170.3 478.9 173.4 478.7 176.6 478.4 179.7 478.0 182.8 477.6 185.9 477.5 189.0 477.4 192.1 477.5 195.2 477.8 198.3 478.6 201.5 479.9 204.6 481.7 207.7 483.5 210.8 485.1 213.9 486.3 217.0 487.3 220.1 488.1 223.2 488.4 226.4 488.0 229.5 487.0 232.6 485.9 235.7 485.5 238.8 485.9 241.9 486.7 245.0 487.7 248.1 488.6 251.3 489.1 254.4 489.4 257.5 489.8 260.6 490.4 263.7 491.4 266.8 492.7 269.9 493.8 273.1 494.4 276.5 494.2 280.1 493.5 283.3 492.6 285.5 492.0"/><path d="M36.5 463.5L38.7 463.2 41.9 462.7 45.5 462.3 49.0 462.1 52.1 462.1 55.2 462.3 58.3 462.6 61.4 463.0 64.5 463.7 67.6 464.5 70.7 465.2 73.9 465.8 77.0 466.0 80.1 466.1 83.2 466.1 86.3 466.1 89.4 466.2 92.5 466.3 95.6 466.4 98.8 466.8 101.9 467.7 105.0 468.8 108.1 469.9 111.2 470.8 114.3 471.3 117.4 471.5 120.5 471.7 123.7 471.8 126.8 471.9 129.9 471.8 133.0 471.9 136.1 472.3 139.2 473.3 142.3 474.6 145.4 476.0 148.6 476.8 151.7 476.8 154.8 476.2 157.9 475.7 161.0 475.6 164.1 476.4 167.2 477.7 170.3 479.0 173.4 479.8 176.6 479.9 179.7 479.5 182.8 479.0 185.9 478.6 189.0 478.6 192.1 478.8 195.2 478.9 198.3 478.6 201.5 477.5 204.6 476.0 207.7 474.6 210.8 473.8 213.9 473.9 217.0 474.5 220.1 475.3 223.2 476.1 226.4 476.8 229.5 477.6 232.6 478.3 235.7 478.7 238.8 478.8 241.9 478.7 245.0 478.5 248.1 478.4 251.3 478.3 254.4 478.3 257.5 478.3 260.6 478.7 263.7 479.5 266.8 480.6 269.9 481.7 273.1 482.5 276.5 482.7 280.1 482.7 283.3 482.6 285.5 482.5"/><path d="M36.5 450.8L38.7 450.6 41.9 450.3 45.5 450.0 49.0 449.8 52.1 449.8 55.2 449.9 58.3 449.9 61.4 449.6 64.5 448.8 67.6 447.6 70.7 446.4 73.9 445.6 77.0 445.5 80.1 445.7 83.2 446.1 86.3 446.4 89.4 446.6 92.5 446.7 95.6 446.9 98.8 447.2 101.9 447.6 105.0 448.1 108.1 448.7 111.2 449.2 114.3 449.6 117.4 449.9 120.5 450.4 123.7 451.2 126.8 452.5 129.9 454.2 133.0 455.9 136.1 457.3 139.2 458.0 142.3 458.4 145.4 458.6 148.6 459.1 151.7 459.9 154.8 460.9 157.9 461.9 161.0 462.8 164.1 463.6 167.2 464.4 170.3 465.1 173.4 465.6 176.6 465.9 179.7 466.0 182.8 466.1 185.9 466.3 189.0 466.8 192.1 467.4 195.2 467.9 198.3 467.7 201.5 466.6 204.6 464.9 207.7 463.1 210.8 461.7 213.9 461.1 217.0 460.8 220.1 460.6 223.2 460.3 226.4 459.8 229.5 459.1 232.6 458.5 235.7 458.2 238.8 458.4 241.9 459.0 245.0 459.6 248.1 459.8 251.3 459.6 254.4 459.2 257.5 458.6 260.6 458.3 263.7 458.0 266.8 457.8 269.9 457.7 273.1 458.0 276.5 458.9 280.1 460.1 283.3 461.4 285.5 462.3"/><path d="M36.5 451.2L38.7 451.5 41.9 452.0 45.5 452.4 49.0 452.5 52.1 452.3 55.2 451.8 58.3 451.3 61.4 451.0 64.5 450.9 67.6 450.9 70.7 451.0 73.9 451.1 77.0 451.3 80.1 451.5 83.2 451.8 86.3 451.9 89.4 451.7 92.5 451.3 95.6 451.1 98.8 451.2 101.9 452.0 105.0 453.2 108.1 454.4 111.2 455.3 114.3 455.7 117.4 455.8 120.5 455.9 123.7 456.2 126.8 456.7 129.9 457.4 133.0 458.2 136.1 459.0 139.2 459.8 142.3 460.8 145.4 461.7 148.6 462.6 151.7 463.4 154.8 464.3 157.9 465.1 161.0 465.8 164.1 466.4 167.2 467.0 170.3 467.5 173.4 467.9 176.6 467.9 179.7 467.6 182.8 467.4 185.9 467.5 189.0 468.4 192.1 469.7 195.2 470.9 198.3 471.8 201.5 472.1 204.6 472.1 207.7 472.0 210.8 471.9 213.9 472.0 217.0 472.1 220.1 472.2 223.2 472.3 226.4 472.4 229.5 472.5 232.6 472.6 235.7 472.5 238.8 472.3 241.9 472.0 245.0 471.6 248.1 471.3 251.3 471.1 254.4 470.9 257.5 470.8 260.6 470.8 263.7 470.9 266.8 471.1 269.9 471.4 273.1 471.9 276.5 472.6 280.1 473.6 283.3 474.5 285.5 475.1"/><path d="M36.5 469.5L38.7 469.5 41.9 469.4 45.5 469.4 49.0 469.5 52.1 469.9 55.2 470.5 58.3 471.0 61.4 471.2 64.5 471.0 67.6 470.5 70.7 470.0 73.9 469.8 77.0 470.0 80.1 470.4 83.2 470.8 86.3 471.2 89.4 471.3 92.5 471.3 95.6 471.3 98.8 471.4 101.9 471.8 105.0 472.3 108.1 472.8 111.2 473.3 114.3 473.8 117.4 474.2 120.5 474.7 123.7 475.0 126.8 475.3 129.9 475.5 133.0 475.7 136.1 476.0 139.2 476.4 142.3 476.8 145.4 477.4 148.6 477.9 151.7 478.6 154.8 479.2 157.9 479.9 161.0 480.5 164.1 481.0 167.2 481.4 170.3 481.8 173.4 482.3 176.6 482.8 179.7 483.5 182.8 484.1 185.9 484.6 189.0 485.0 192.1 485.3 195.2 485.5 198.3 485.5 201.5 485.0 204.6 484.1 207.7 483.3 210.8 483.0 213.9 483.3 217.0 484.1 220.1 484.9 223.2 485.1 226.4 484.3 229.5 482.8 232.6 481.5 235.7 480.9 238.8 481.7 241.9 483.2 245.0 484.9 248.1 486.3 251.3 487.3 254.4 488.1 257.5 488.7 260.6 489.2 263.7 489.6 266.8 489.9 269.9 490.0 273.1 490.0 276.5 489.8 280.1 489.4 283.3 489.0 285.5 488.8"/><path d="M36.5 462.2L38.7 462.1 41.9 461.8 45.5 461.7 49.0 461.9 52.1 462.5 55.2 463.4 58.3 464.5 61.4 465.4 64.5 466.1 67.6 466.8 70.7 467.4 73.9 467.8 77.0 468.0 80.1 467.9 83.2 467.8 86.3 467.8 89.4 467.9 92.5 468.1 95.6 468.4 98.8 468.7 101.9 469.1 105.0 469.7 108.1 470.3 111.2 470.8 114.3 471.1 117.4 471.3 120.5 471.5 123.7 472.0 126.8 472.8 129.9 473.8 133.0 474.9 136.1 475.9 139.2 476.5 142.3 477.0 145.4 477.6 148.6 478.4 151.7 479.6 154.8 481.0 157.9 482.4 161.0 483.5 164.1 484.3 167.2 485.0 170.3 485.4 173.4 485.7 176.6 485.7 179.7 485.4 182.8 485.1 185.9 485.1 189.0 485.5 192.1 486.0 195.2 486.7 198.3 487.4 201.5 488.1 204.6 489.0 207.7 489.7 210.8 490.3 213.9 490.5 217.0 490.6 220.1 490.5 223.2 490.3 226.4 490.0 229.5 489.7 232.6 489.2 235.7 488.7 238.8 487.8 241.9 486.8 245.0 485.8 248.1 484.9 251.3 484.1 254.4 483.5 257.5 482.9 260.6 482.7 263.7 482.8 266.8 483.1 269.9 483.6 273.1 484.0 276.5 484.2 280.1 484.3 283.3 484.4 285.5 484.5"/><path d="M36.5 449.6L38.7 450.1 41.9 450.9 45.5 451.6 49.0 451.9 52.1 451.8 55.2 451.2 58.3 450.7 61.4 450.4 64.5 450.6 67.6 451.0 70.7 451.4 73.9 451.9 77.0 452.2 80.1 452.4 83.2 452.7 86.3 453.0 89.4 453.4 92.5 453.8 95.6 454.2 98.8 454.6 101.9 455.2 105.0 455.8 108.1 456.5 111.2 457.0 114.3 457.3 117.4 457.4 120.5 457.6 123.7 457.8 126.8 458.2 129.9 458.7 133.0 459.2 136.1 459.9 139.2 460.8 142.3 461.9 145.4 463.1 148.6 464.1 151.7 465.0 154.8 465.8 157.9 466.6 161.0 467.4 164.1 468.4 167.2 469.4 170.3 470.4 173.4 471.2 176.6 471.6 179.7 471.7 182.8 471.9 185.9 472.3 189.0 473.1 192.1 474.1 195.2 475.1 198.3 475.8 201.5 475.9 204.6 475.7 207.7 475.4 210.8 475.0 213.9 474.5 217.0 473.8 220.1 473.1 223.2 473.0 226.4 473.6 229.5 474.7 232.6 475.8 235.7 476.2 238.8 475.7 241.9 474.6 245.0 473.4 248.1 472.3 251.3 471.4 254.4 470.6 257.5 469.9 260.6 469.5 263.7 469.6 266.8 470.0 269.9 470.6 273.1 471.1 276.5 471.8 280.1 472.6 283.3 473.4 285.5 473.9"/><path d="M36.5 464.9L38.7 464.9 41.9 465.0 45.5 465.0 49.0 465.1 52.1 465.1 55.2 465.1 58.3 465.2 61.4 465.5 64.5 466.2 67.6 467.2 70.7 468.2 73.9 468.6 77.0 468.2 80.1 467.4 83.2 466.4 86.3 465.4 89.4 464.5 92.5 463.6 95.6 462.7 98.8 462.2 101.9 462.1 105.0 462.3 108.1 462.6 111.2 462.8 114.3 462.7 117.4 462.5 120.5 462.3 123.7 462.3 126.8 462.6 129.9 463.1 133.0 463.7 136.1 464.3 139.2 464.9 142.3 465.5 145.4 466.2 148.6 466.8 151.7 467.3 154.8 467.7 157.9 468.1 161.0 468.5 164.1 468.8 167.2 469.1 170.3 469.3 173.4 469.5 176.6 469.7 179.7 469.9 182.8 470.1 185.9 470.1 189.0 470.2 192.1 470.2 195.2 470.2 198.3 470.0 201.5 469.6 204.6 469.0 207.7 468.4 210.8 467.8 213.9 467.3 217.0 466.8 220.1 466.3 223.2 465.7 226.4 464.9 229.5 464.0 232.6 463.1 235.7 462.7 238.8 462.9 241.9 463.6 245.0 464.3 248.1 464.9 251.3 465.1 254.4 465.3 257.5 465.3 260.6 465.0 263.7 464.1 266.8 462.8 269.9 461.6 273.1 461.1 276.5 461.6 280.1 462.8 283.3 464.1 285.5 465.0"/><path d="M36.5 467.2L38.7 467.1 41.9 466.8 45.5 466.6 49.0 466.5 52.1 466.6 55.2 466.8 58.3 466.9 61.4 466.9 64.5 466.5 67.6 465.9 70.7 465.2 73.9 464.7 77.0 464.4 80.1 464.1 83.2 464.0 86.3 463.8 89.4 463.4 92.5 463.0 95.6 462.7 98.8 462.8 101.9 463.2 105.0 463.9 108.1 464.9 111.2 466.0 114.3 467.5 117.4 469.2 120.5 471.0 123.7 472.6 126.8 473.8 129.9 474.9 133.0 475.9 136.1 476.9 139.2 477.8 142.3 478.7 145.4 479.6 148.6 480.4 151.7 481.1 154.8 481.9 157.9 482.6 161.0 483.3 164.1 484.1 167.2 484.9 170.3 485.6 173.4 486.4 176.6 487.2 179.7 488.0 182.8 488.7 185.9 489.1 189.0 489.2 192.1 489.0 195.2 488.6 198.3 488.1 201.5 487.4 204.6 486.5 207.7 485.6 210.8 484.8 213.9 484.1 217.0 483.4 220.1 482.9 223.2 482.6 226.4 482.7 229.5 483.0 232.6 483.4 235.7 483.5 238.8 483.5 241.9 483.4 245.0 483.0 248.1 482.1 251.3 480.3 254.4 477.9 257.5 475.6 260.6 474.1 263.7 473.5 266.8 473.6 269.9 474.1 273.1 474.7 276.5 475.6 280.1 476.9 283.3 478.1 285.5 479.0"/><path d="M36.5 466.1L38.7 466.0 41.9 465.8 45.5 465.6 49.0 465.6 52.1 465.9 55.2 466.3 58.3 466.8 61.4 467.3 64.5 467.9 67.6 468.6 70.7 469.2 73.9 469.7 77.0 470.2 80.1 470.5 83.2 470.8 86.3 471.0 89.4 471.1 92.5 471.2 95.6 471.2 98.8 471.1 101.9 470.8 105.0 470.2 108.1 469.7 111.2 469.8 114.3 470.6 117.4 471.9 120.5 473.3 123.7 474.3 126.8 474.8 129.9 474.9 133.0 475.0 136.1 475.5 139.2 476.6 142.3 478.0 145.4 479.5 148.6 480.5 151.7 481.1 154.8 481.4 157.9 481.5 161.0 481.5 164.1 481.2 167.2 480.5 170.3 480.0 173.4 480.2 176.6 481.5 179.7 483.6 182.8 485.7 185.9 487.0 189.0 486.9 192.1 486.1 195.2 485.1 198.3 484.5 201.5 484.4 204.6 484.5 207.7 484.6 210.8 484.6 213.9 484.0 217.0 483.3 220.1 482.6 223.2 482.3 226.4 482.8 229.5 483.7 232.6 484.7 235.7 485.2 238.8 485.2 241.9 484.8 245.0 484.3 248.1 484.0 251.3 483.6 254.4 483.2 257.5 483.0 260.6 483.3 263.7 484.4 266.8 486.2 269.9 487.8 273.1 488.9 276.5 489.0 280.1 488.6 283.3 487.9 285.5 487.5"/><path d="M36.5 462.5L38.7 462.9 41.9 463.5 45.5 464.1 49.0 464.4 52.1 464.2 55.2 463.7 58.3 463.2 61.4 463.0 64.5 463.3 67.6 463.8 70.7 464.4 73.9 464.8 77.0 464.7 80.1 464.4 83.2 464.2 86.3 464.2 89.4 464.8 92.5 465.7 95.6 466.6 98.8 467.5 101.9 468.2 105.0 468.9 108.1 469.5 111.2 469.7 114.3 469.5 117.4 469.0 120.5 468.4 123.7 468.1 126.8 468.3 129.9 468.7 133.0 469.2 136.1 469.6 139.2 469.8 142.3 469.8 145.4 469.9 148.6 470.4 151.7 471.6 154.8 473.3 157.9 474.9 161.0 476.0 164.1 476.2 167.2 475.8 170.3 475.3 173.4 475.3 176.6 475.9 179.7 477.0 182.8 478.0 185.9 478.7 189.0 478.9 192.1 478.8 195.2 478.5 198.3 478.3 201.5 478.1 204.6 477.8 207.7 477.5 210.8 477.2 213.9 476.9 217.0 476.4 220.1 476.1 223.2 476.2 226.4 477.0 229.5 478.3 232.6 479.5 235.7 480.1 238.8 479.7 241.9 478.7 245.0 477.4 248.1 476.5 251.3 476.0 254.4 475.7 257.5 475.4 260.6 474.9 263.7 473.7 266.8 472.2 269.9 471.1 273.1 471.1 276.5 472.9 280.1 476.0 283.3 479.2 285.5 481.4"/><path d="M36.5 462.4L38.7 462.8 41.9 463.4 45.5 464.0 49.0 464.4 52.1 464.4 55.2 464.2 58.3 464.0 61.4 464.1 64.5 464.4 67.6 465.0 70.7 465.6 73.9 466.2 77.0 466.8 80.1 467.3 83.2 467.8 86.3 468.2 89.4 468.2 92.5 467.9 95.6 467.7 98.8 467.9 101.9 468.5 105.0 469.4 108.1 470.4 111.2 471.1 114.3 471.6 117.4 471.9 120.5 472.1 123.7 472.3 126.8 472.4 129.9 472.3 133.0 472.4 136.1 472.9 139.2 474.1 142.3 475.7 145.4 477.4 148.6 478.9 151.7 480.3 154.8 481.5 157.9 482.7 161.0 483.6 164.1 484.2 167.2 484.7 170.3 484.9 173.4 484.9 176.6 484.3 179.7 483.3 182.8 482.5 185.9 482.3 189.0 483.3 192.1 485.1 195.2 486.9 198.3 488.0 201.5 488.0 204.6 487.5 207.7 486.7 210.8 485.9 213.9 485.2 217.0 484.5 220.1 483.7 223.2 483.0 226.4 482.5 229.5 482.0 232.6 481.6 235.7 481.3 238.8 481.3 241.9 481.4 245.0 481.5 248.1 481.3 251.3 480.7 254.4 480.0 257.5 479.0 260.6 478.0 263.7 476.7 266.8 475.3 269.9 473.9 273.1 472.9 276.5 472.5 280.1 472.5 283.3 472.6 285.5 472.6"/><path d="M36.5 466.4L38.7 466.2 41.9 465.9 45.5 465.6 49.0 465.4 52.1 465.4 55.2 465.5 58.3 465.6 61.4 466.0 64.5 466.5 67.6 467.3 70.7 468.0 73.9 468.6 77.0 469.1 80.1 469.4 83.2 469.6 86.3 469.7 89.4 469.5 92.5 469.2 95.6 468.9 98.8 468.9 101.9 469.4 105.0 470.3 108.1 471.2 111.2 471.7 114.3 471.8 117.4 471.6 120.5 471.4 123.7 471.5 126.8 472.0 129.9 472.7 133.0 473.6 136.1 474.4 139.2 475.2 142.3 475.9 145.4 476.7 148.6 477.5 151.7 478.3 154.8 479.2 157.9 480.0 161.0 480.7 164.1 481.5 167.2 482.3 170.3 482.9 173.4 483.4 176.6 483.4 179.7 483.2 182.8 482.9 185.9 482.9 189.0 483.4 192.1 484.3 195.2 484.9 198.3 485.0 201.5 484.0 204.6 482.4 207.7 480.6 210.8 479.4 213.9 479.0 217.0 479.0 220.1 478.9 223.2 478.3 226.4 476.6 229.5 474.3 232.6 472.0 235.7 470.2 238.8 469.1 241.9 468.4 245.0 467.9 248.1 467.6 251.3 467.8 254.4 468.3 257.5 468.7 260.6 468.4 263.7 466.9 266.8 464.8 269.9 462.6 273.1 460.9 276.5 460.0 280.1 459.4 283.3 459.1 285.5 458.9"/><path d="M36.5 467.8L38.7 467.8 41.9 467.9 45.5 467.9 49.0 467.8 52.1 467.5 55.2 467.1 58.3 466.8 61.4 466.7 64.5 467.1 67.6 467.7 70.7 468.4 73.9 468.8 77.0 469.0 80.1 469.0 83.2 469.0 86.3 469.0 89.4 469.1 92.5 469.2 95.6 469.4 98.8 469.5 101.9 469.6 105.0 469.6 108.1 469.7 111.2 470.0 114.3 470.6 117.4 471.3 120.5 472.1 123.7 473.0 126.8 474.0 129.9 475.0 133.0 476.1 136.1 476.9 139.2 477.6 142.3 478.0 145.4 478.4 148.6 479.1 151.7 480.1 154.8 481.3 157.9 482.4 161.0 483.3 164.1 483.8 167.2 483.9 170.3 484.1 173.4 484.4 176.6 485.2 179.7 486.4 182.8 487.3 185.9 487.7 189.0 487.2 192.1 486.1 195.2 484.8 198.3 483.6 201.5 482.4 204.6 481.1 207.7 479.8 210.8 478.7 213.9 477.8 217.0 477.0 220.1 476.3 223.2 476.0 226.4 476.1 229.5 476.5 232.6 477.1 235.7 477.7 238.8 478.2 241.9 478.9 245.0 479.5 248.1 479.7 251.3 479.6 254.4 479.2 257.5 478.7 260.6 478.2 263.7 477.7 266.8 477.0 269.9 476.5 273.1 476.4 276.5 476.9 280.1 477.9 283.3 479.0 285.5 479.7"/><path d="M36.5 460.8L38.7 460.3 41.9 459.7 45.5 459.0 49.0 458.5 52.1 458.3 55.2 458.1 58.3 458.1 61.4 458.3 64.5 458.7 67.6 459.3 70.7 460.0 73.9 460.6 77.0 461.0 80.1 461.2 83.2 461.5 86.3 462.1 89.4 463.1 92.5 464.3 95.6 465.6 98.8 466.6 101.9 467.1 105.0 467.3 108.1 467.5 111.2 468.1 114.3 469.3 117.4 470.9 120.5 472.4 123.7 473.6 126.8 474.0 129.9 474.2 133.0 474.2 136.1 474.5 139.2 475.2 142.3 476.1 145.4 477.1 148.6 477.9 151.7 478.6 154.8 479.2 157.9 479.8 161.0 480.4 164.1 481.4 167.2 482.5 170.3 483.5 173.4 484.0 176.6 483.5 179.7 482.4 182.8 481.4 185.9 480.9 189.0 481.3 192.1 482.2 195.2 483.2 198.3 483.8 201.5 483.7 204.6 483.3 207.7 482.7 210.8 482.4 213.9 482.3 217.0 482.2 220.1 482.3 223.2 482.8 226.4 483.9 229.5 485.7 232.6 487.2 235.7 487.9 238.8 487.1 241.9 485.3 245.0 483.5 248.1 482.6 251.3 482.8 254.4 483.7 257.5 484.8 260.6 485.5 263.7 485.6 266.8 485.4 269.9 485.1 273.1 484.6 276.5 483.9 280.1 482.9 283.3 481.9 285.5 481.3"/><path d="M36.5 465.3L38.7 465.0 41.9 464.6 45.5 464.1 49.0 463.8 52.1 463.4 55.2 463.0 58.3 462.8 61.4 462.9 64.5 463.5 67.6 464.5 70.7 465.5 73.9 466.4 77.0 467.1 80.1 467.6 83.2 468.1 86.3 468.5 89.4 468.8 92.5 469.0 95.6 469.3 98.8 469.8 101.9 470.8 105.0 472.2 108.1 473.4 111.2 474.2 114.3 474.0 117.4 473.3 120.5 472.6 123.7 472.3 126.8 472.7 129.9 473.5 133.0 474.3 136.1 474.9 139.2 475.2 142.3 475.2 145.4 475.2 148.6 475.5 151.7 476.4 154.8 477.5 157.9 478.6 161.0 479.6 164.1 480.4 167.2 481.1 170.3 481.6 173.4 481.9 176.6 481.6 179.7 481.0 182.8 480.4 185.9 480.3 189.0 480.9 192.1 481.9 195.2 483.1 198.3 484.3 201.5 485.6 204.6 487.0 207.7 488.1 210.8 488.8 213.9 488.5 217.0 487.6 220.1 486.6 223.2 486.1 226.4 486.0 229.5 486.3 232.6 486.6 235.7 486.8 238.8 487.0 241.9 487.1 245.0 487.1 248.1 486.8 251.3 486.0 254.4 484.9 257.5 483.7 260.6 482.9 263.7 482.6 266.8 482.7 269.9 482.9 273.1 482.9 276.5 482.6 280.1 482.2 283.3 481.8 285.5 481.5"/><path d="M36.5 454.0L38.7 454.4 41.9 455.0 45.5 455.8 49.0 456.5 52.1 457.5 55.2 458.7 58.3 459.7 61.4 460.2 64.5 459.9 67.6 459.1 70.7 458.1 73.9 457.2 77.0 456.4 80.1 455.7 83.2 455.0 86.3 454.6 89.4 454.6 92.5 454.9 95.6 455.3 98.8 455.4 101.9 455.1 105.0 454.5 108.1 454.1 111.2 454.3 114.3 455.3 117.4 456.9 120.5 458.6 123.7 460.0 126.8 460.7 129.9 461.0 133.0 461.4 136.1 462.2 139.2 463.5 142.3 465.3 145.4 467.0 148.6 468.4 151.7 469.2 154.8 469.7 157.9 470.0 161.0 470.3 164.1 470.5 167.2 470.7 170.3 470.8 173.4 471.0 176.6 471.3 179.7 471.6 182.8 472.1 185.9 472.8 189.0 473.9 192.1 475.3 195.2 476.7 198.3 477.8 201.5 478.5 204.6 478.9 207.7 479.1 210.8 478.8 213.9 477.9 217.0 476.5 220.1 475.0 223.2 473.8 226.4 473.2 229.5 472.9 232.6 472.6 235.7 472.4 238.8 472.1 241.9 471.7 245.0 471.5 248.1 471.2 251.3 471.0 254.4 470.7 257.5 470.6 260.6 471.1 263.7 472.5 266.8 474.6 269.9 476.7 273.1 478.4 276.5 479.4 280.1 480.1 283.3 480.6 285.5 481.0"/><path d="M36.5 457.6L38.7 457.6 41.9 457.6 45.5 457.6 49.0 457.7 52.1 457.9 55.2 458.3 58.3 458.6 61.4 458.7 64.5 458.6 67.6 458.2 70.7 457.8 73.9 457.6 77.0 457.6 80.1 457.7 83.2 457.9 86.3 457.9 89.4 457.7 92.5 457.4 95.6 457.2 98.8 457.3 101.9 458.0 105.0 459.2 108.1 460.4 111.2 461.2 114.3 461.4 117.4 461.2 120.5 461.1 123.7 461.7 126.8 463.5 129.9 466.0 133.0 468.5 136.1 470.5 139.2 471.7 142.3 472.5 145.4 473.0 148.6 473.3 151.7 473.4 154.8 473.2 157.9 473.0 161.0 472.9 164.1 473.1 167.2 473.4 170.3 473.7 173.4 474.0 176.6 474.2 179.7 474.4 182.8 474.5 185.9 474.5 189.0 474.2 192.1 473.7 195.2 473.3 198.3 473.1 201.5 473.2 204.6 473.6 207.7 474.0 210.8 474.1 213.9 473.7 217.0 473.0 220.1 472.3 223.2 471.8 226.4 471.6 229.5 471.6 232.6 471.7 235.7 471.7 238.8 471.6 241.9 471.4 245.0 471.2 248.1 471.0 251.3 470.9 254.4 470.8 257.5 470.7 260.6 470.3 263.7 469.7 266.8 468.9 269.9 468.0 273.1 467.2 276.5 466.2 280.1 465.2 283.3 464.2 285.5 463.6"/><path d="M36.5 443.2L38.7 443.3 41.9 443.5 45.5 443.7 49.0 444.0 52.1 444.5 55.2 445.1 58.3 445.8 61.4 446.3 64.5 446.6 67.6 446.7 70.7 446.9 73.9 447.1 77.0 447.6 80.1 448.2 83.2 448.7 86.3 449.1 89.4 449.1 92.5 448.9 95.6 448.7 98.8 448.9 101.9 449.5 105.0 450.4 108.1 451.4 111.2 452.2 114.3 452.7 117.4 453.1 120.5 453.4 123.7 453.7 126.8 454.0 129.9 454.2 133.0 454.4 136.1 454.8 139.2 455.3 142.3 455.9 145.4 456.5 148.6 457.2 151.7 458.0 154.8 458.8 157.9 459.6 161.0 460.2 164.1 460.4 167.2 460.3 170.3 460.3 173.4 460.9 176.6 462.4 179.7 464.7 182.8 466.7 185.9 467.8 189.0 467.5 192.1 466.3 195.2 464.8 198.3 463.9 201.5 463.7 204.6 463.8 207.7 464.0 210.8 464.2 213.9 464.3 217.0 464.5 220.1 464.5 223.2 464.1 226.4 462.9 229.5 461.2 232.6 459.5 235.7 458.2 238.8 457.5 241.9 457.0 245.0 456.8 248.1 457.2 251.3 458.4 254.4 460.4 257.5 462.3 260.6 463.3 263.7 463.1 266.8 462.2 269.9 461.0 273.1 460.0 276.5 459.1 280.1 458.2 283.3 457.3 285.5 456.8"/><path d="M36.5 453.8L38.7 454.2 41.9 454.8 45.5 455.4 49.0 455.9 52.1 456.2 55.2 456.4 58.3 456.6 61.4 456.9 64.5 457.6 67.6 458.3 70.7 459.2 73.9 460.1 77.0 461.2 80.1 462.4 83.2 463.5 86.3 464.1 89.4 464.2 92.5 463.8 95.6 463.3 98.8 463.1 101.9 463.4 105.0 464.0 108.1 464.6 111.2 465.1 114.3 465.3 117.4 465.4 120.5 465.5 123.7 466.0 126.8 467.1 129.9 468.5 133.0 469.9 136.1 470.9 139.2 471.1 142.3 470.9 145.4 470.7 148.6 470.9 151.7 471.6 154.8 472.6 157.9 473.7 161.0 474.7 164.1 475.7 167.2 476.7 170.3 477.7 173.4 478.7 176.6 479.7 179.7 480.7 182.8 481.5 185.9 482.1 189.0 482.2 192.1 482.1 195.2 481.8 198.3 481.3 201.5 480.6 204.6 479.7 207.7 478.8 210.8 478.0 213.9 477.5 217.0 477.2 220.1 476.9 223.2 476.4 226.4 475.6 229.5 474.8 232.6 473.9 235.7 473.1 238.8 472.4 241.9 471.8 245.0 471.2 248.1 470.5 251.3 469.7 254.4 468.8 257.5 467.8 260.6 466.5 263.7 464.7 266.8 462.4 269.9 460.3 273.1 458.9 276.5 458.5 280.1 458.8 283.3 459.3 285.5 459.6"/><path d="M36.5 475.2L38.7 475.1 41.9 475.0 45.5 474.9 49.0 474.7 52.1 474.2 55.2 473.5 58.3 472.9 61.4 472.7 64.5 473.0 67.6 473.7 70.7 474.5 73.9 475.1 77.0 475.3 80.1 475.5 83.2 475.6 86.3 475.6 89.4 475.4 92.5 475.0 95.6 474.6 98.8 474.4 101.9 474.4 105.0 474.6 108.1 474.7 111.2 474.5 114.3 473.8 117.4 472.7 120.5 471.7 123.7 471.3 126.8 471.8 129.9 472.9 133.0 474.3 136.1 475.5 139.2 476.7 142.3 477.9 145.4 479.1 148.6 480.1 151.7 480.9 154.8 481.5 157.9 482.0 161.0 482.5 164.1 482.9 167.2 483.4 170.3 483.7 173.4 483.7 176.6 483.4 179.7 482.8 182.8 482.2 185.9 481.8 189.0 481.8 192.1 482.0 195.2 482.2 198.3 482.3 201.5 482.3 204.6 482.1 207.7 481.9 210.8 481.4 213.9 480.7 217.0 479.8 220.1 478.9 223.2 478.1 226.4 477.5 229.5 477.0 232.6 476.6 235.7 476.2 238.8 475.9 241.9 475.8 245.0 475.5 248.1 474.9 251.3 473.7 254.4 472.1 257.5 470.4 260.6 469.0 263.7 467.7 266.8 466.5 269.9 465.6 273.1 465.2 276.5 465.8 280.1 467.0 283.3 468.4 285.5 469.3"/><path d="M36.5 467.5L38.7 467.0 41.9 466.1 45.5 465.4 49.0 465.2 52.1 465.9 55.2 467.0 58.3 468.3 61.4 469.1 64.5 469.4 67.6 469.3 70.7 469.2 73.9 469.2 77.0 469.2 80.1 469.3 83.2 469.4 86.3 469.7 89.4 470.0 92.5 470.5 95.6 471.1 98.8 472.0 101.9 473.3 105.0 475.0 108.1 476.8 111.2 478.5 114.3 480.1 117.4 481.7 120.5 483.2 123.7 484.2 126.8 484.4 129.9 484.2 133.0 483.9 136.1 484.2 139.2 485.0 142.3 486.3 145.4 487.7 148.6 489.3 151.7 491.0 154.8 493.0 157.9 494.9 161.0 496.5 164.1 497.8 167.2 498.8 170.3 499.6 173.4 500.1 176.6 500.1 179.7 499.7 182.8 499.2 185.9 499.1 189.0 499.4 192.1 499.9 195.2 500.5 198.3 500.8 201.5 500.9 204.6 500.9 207.7 500.8 210.8 500.6 213.9 500.4 217.0 500.1 220.1 499.7 223.2 499.2 226.4 498.4 229.5 497.3 232.6 496.2 235.7 495.5 238.8 495.2 241.9 495.1 245.0 495.2 248.1 495.1 251.3 494.7 254.4 494.1 257.5 493.6 260.6 493.4 263.7 493.5 266.8 493.9 269.9 494.3 273.1 494.9 276.5 495.7 280.1 496.6 283.3 497.6 285.5 498.2"/><path d="M36.5 460.7L38.7 460.9 41.9 461.3 45.5 461.7 49.0 462.0 52.1 461.9 55.2 461.6 58.3 461.4 61.4 461.6 64.5 462.2 67.6 463.2 70.7 464.4 73.9 465.5 77.0 466.6 80.1 467.8 83.2 468.9 86.3 469.8 89.4 470.3 92.5 470.5 95.6 470.6 98.8 470.9 101.9 471.7 105.0 472.6 108.1 473.5 111.2 473.8 114.3 473.3 117.4 472.3 120.5 471.2 123.7 470.5 126.8 470.4 129.9 470.6 133.0 471.0 136.1 471.5 139.2 472.2 142.3 473.1 145.4 474.1 148.6 475.0 151.7 475.8 154.8 476.5 157.9 477.2 161.0 477.8 164.1 478.4 167.2 479.0 170.3 479.5 173.4 479.8 176.6 479.9 179.7 479.8 182.8 479.7 185.9 480.1 189.0 481.2 192.1 482.8 195.2 484.4 198.3 485.4 201.5 485.7 204.6 485.5 207.7 485.1 210.8 484.5 213.9 483.7 217.0 482.5 220.1 481.4 223.2 480.9 226.4 481.1 229.5 481.8 232.6 482.7 235.7 483.2 238.8 483.4 241.9 483.3 245.0 483.2 248.1 483.1 251.3 483.2 254.4 483.3 257.5 483.4 260.6 483.5 263.7 483.4 266.8 483.1 269.9 483.0 273.1 483.0 276.5 483.3 280.1 483.9 283.3 484.4 285.5 484.8"/><path d="M36.5 476.0L38.7 475.8 41.9 475.4 45.5 475.3 49.0 475.5 52.1 476.5 55.2 478.0 58.3 479.5 61.4 480.8 64.5 481.6 67.6 482.2 70.7 482.7 73.9 483.2 77.0 483.6 80.1 483.9 83.2 484.1 86.3 484.0 89.4 483.4 92.5 482.4 95.6 481.5 98.8 480.8 101.9 480.7 105.0 480.9 108.1 481.2 111.2 481.5 114.3 481.6 117.4 481.7 120.5 482.0 123.7 482.3 126.8 482.9 129.9 483.6 133.0 484.4 136.1 485.0 139.2 485.6 142.3 486.1 145.4 486.7 148.6 487.2 151.7 487.9 154.8 488.7 157.9 489.4 161.0 489.9 164.1 490.1 167.2 489.9 170.3 489.8 173.4 490.1 176.6 491.1 179.7 492.6 182.8 494.0 185.9 494.9 189.0 495.1 192.1 495.0 195.2 494.7 198.3 494.3 201.5 494.0 204.6 493.6 207.7 493.2 210.8 492.7 213.9 492.1 217.0 491.4 220.1 490.6 223.2 489.8 226.4 489.0 229.5 487.9 232.6 487.1 235.7 486.6 238.8 486.8 241.9 487.5 245.0 488.2 248.1 488.6 251.3 488.4 254.4 487.9 257.5 487.4 260.6 487.6 263.7 488.7 266.8 490.4 269.9 492.1 273.1 493.3 276.5 493.7 280.1 493.6 283.3 493.3 285.5 493.2"/><path d="M36.5 466.3L38.7 466.9 41.9 467.9 45.5 468.7 49.0 469.0 52.1 468.3 55.2 467.0 58.3 465.8 61.4 465.1 64.5 465.4 67.6 466.2 70.7 467.2 73.9 467.7 77.0 467.7 80.1 467.5 83.2 467.1 86.3 466.8 89.4 466.5 92.5 466.2 95.6 466.0 98.8 466.1 101.9 466.6 105.0 467.3 108.1 468.1 111.2 468.6 114.3 468.7 117.4 468.6 120.5 468.5 123.7 468.6 126.8 469.2 129.9 469.9 133.0 470.8 136.1 471.7 139.2 472.4 142.3 473.2 145.4 473.9 148.6 474.8 151.7 475.8 154.8 476.8 157.9 477.9 161.0 478.8 164.1 479.6 167.2 480.3 170.3 481.0 173.4 481.8 176.6 482.9 179.7 484.2 182.8 485.5 185.9 486.6 189.0 487.8 192.1 489.0 195.2 490.0 198.3 490.3 201.5 489.8 204.6 488.7 207.7 487.3 210.8 486.0 213.9 484.7 217.0 483.4 220.1 482.2 223.2 481.2 226.4 480.4 229.5 479.8 232.6 479.3 235.7 479.0 238.8 478.8 241.9 478.9 245.0 479.0 248.1 479.0 251.3 478.9 254.4 478.8 257.5 478.5 260.6 478.1 263.7 477.2 266.8 476.0 269.9 475.0 273.1 474.4 276.5 474.5 280.1 475.1 283.3 475.8 285.5 476.3"/><path d="M36.5 462.3L38.7 462.0 41.9 461.5 45.5 461.1 49.0 461.0 52.1 461.4 55.2 462.1 58.3 462.9 61.4 463.4 64.5 463.4 67.6 463.1 70.7 462.9 73.9 463.0 77.0 463.6 80.1 464.7 83.2 465.7 86.3 466.2 89.4 465.9 92.5 465.2 95.6 464.4 98.8 464.0 101.9 464.0 105.0 464.3 108.1 464.7 111.2 465.3 114.3 466.0 117.4 466.9 120.5 467.9 123.7 469.1 126.8 470.4 129.9 472.0 133.0 473.6 136.1 474.9 139.2 475.7 142.3 476.2 145.4 476.7 148.6 477.6 151.7 478.9 154.8 480.6 157.9 482.2 161.0 483.5 164.1 484.2 167.2 484.6 170.3 484.9 173.4 485.5 176.6 486.3 179.7 487.4 182.8 488.4 185.9 489.3 189.0 490.1 192.1 490.8 195.2 491.3 198.3 491.3 201.5 490.6 204.6 489.4 207.7 488.1 210.8 487.2 213.9 486.7 217.0 486.5 220.1 486.4 223.2 485.9 226.4 485.1 229.5 484.0 232.6 482.8 235.7 481.6 238.8 480.5 241.9 479.4 245.0 478.1 248.1 476.7 251.3 474.7 254.4 472.3 257.5 470.1 260.6 468.7 263.7 468.4 266.8 469.0 269.9 469.7 273.1 470.1 276.5 470.0 280.1 469.8 283.3 469.5 285.5 469.3"/><path d="M36.5 462.5L38.7 463.4 41.9 464.6 45.5 465.9 49.0 466.8 52.1 467.3 55.2 467.5 58.3 467.7 61.4 468.0 64.5 468.6 67.6 469.3 70.7 469.9 73.9 470.3 77.0 470.2 80.1 469.9 83.2 469.5 86.3 469.4 89.4 469.8 92.5 470.4 95.6 471.0 98.8 471.7 101.9 472.2 105.0 472.7 108.1 473.2 111.2 473.9 114.3 475.0 117.4 476.2 120.5 477.5 123.7 478.5 126.8 479.3 129.9 480.0 133.0 480.4 136.1 480.7 139.2 480.4 142.3 479.7 145.4 479.1 148.6 479.1 151.7 479.9 154.8 481.3 157.9 482.8 161.0 483.8 164.1 484.3 167.2 484.5 170.3 484.6 173.4 484.9 176.6 485.4 179.7 486.2 182.8 486.9 185.9 487.5 189.0 487.8 192.1 488.1 195.2 488.3 198.3 488.5 201.5 488.9 204.6 489.4 207.7 489.8 210.8 490.1 213.9 490.1 217.0 489.9 220.1 489.8 223.2 489.8 226.4 490.0 229.5 490.3 232.6 490.7 235.7 490.9 238.8 491.0 241.9 490.9 245.0 490.8 248.1 491.1 251.3 491.7 254.4 492.5 257.5 493.5 260.6 494.9 263.7 496.8 266.8 499.3 269.9 501.7 273.1 503.5 276.5 504.8 280.1 505.6 283.3 506.2 285.5 506.6"/><path d="M36.5 476.9L38.7 475.9 41.9 474.4 45.5 473.0 49.0 472.3 52.1 472.7 55.2 473.8 58.3 474.9 61.4 475.6 64.5 475.6 67.6 475.2 70.7 474.7 73.9 474.3 77.0 474.3 80.1 474.3 83.2 474.4 86.3 474.5 89.4 474.6 92.5 474.7 95.6 474.8 98.8 475.1 101.9 475.7 105.0 476.5 108.1 477.3 111.2 477.7 114.3 477.5 117.4 477.1 120.5 476.5 123.7 476.1 126.8 475.9 129.9 475.8 133.0 475.9 136.1 476.2 139.2 477.0 142.3 478.0 145.4 479.2 148.6 480.3 151.7 481.1 154.8 481.9 157.9 482.7 161.0 483.6 164.1 484.6 167.2 485.8 170.3 486.9 173.4 488.0 176.6 489.0 179.7 489.9 182.8 490.8 185.9 491.7 189.0 492.5 192.1 493.3 195.2 494.0 198.3 494.4 201.5 494.2 204.6 493.7 207.7 493.3 210.8 493.2 213.9 493.7 217.0 494.6 220.1 495.6 223.2 496.4 226.4 496.9 229.5 497.2 232.6 497.4 235.7 497.7 238.8 498.2 241.9 498.8 245.0 499.2 248.1 498.9 251.3 497.4 254.4 495.3 257.5 493.0 260.6 491.1 263.7 489.7 266.8 488.6 269.9 487.7 273.1 487.3 276.5 487.6 280.1 488.4 283.3 489.3 285.5 489.9"/><path d="M36.5 454.5L38.7 454.7 41.9 455.1 45.5 455.5 49.0 455.9 52.1 456.2 55.2 456.6 58.3 457.0 61.4 457.4 64.5 457.7 67.6 458.1 70.7 458.4 73.9 458.9 77.0 459.4 80.1 460.1 83.2 460.7 86.3 461.1 89.4 461.2 92.5 461.1 95.6 460.9 98.8 460.7 101.9 460.5 105.0 460.4 108.1 460.2 111.2 460.1 114.3 459.9 117.4 459.7 120.5 459.6 123.7 459.8 126.8 460.4 129.9 461.3 133.0 462.3 136.1 463.3 139.2 464.4 142.3 465.7 145.4 466.9 148.6 467.9 151.7 468.9 154.8 469.8 157.9 470.4 161.0 470.7 164.1 470.2 167.2 469.3 170.3 468.3 173.4 467.4 176.6 466.8 179.7 466.2 182.8 465.8 185.9 465.7 189.0 466.0 192.1 466.7 195.2 467.2 198.3 467.1 201.5 465.7 204.6 463.7 207.7 461.5 210.8 459.9 213.9 459.1 217.0 458.6 220.1 458.4 223.2 458.3 226.4 458.3 229.5 458.4 232.6 458.7 235.7 458.7 238.8 458.7 241.9 458.7 245.0 458.5 248.1 458.1 251.3 457.4 254.4 456.3 257.5 455.4 260.6 455.0 263.7 455.6 266.8 456.8 269.9 458.1 273.1 459.1 276.5 459.6 280.1 460.0 283.3 460.2 285.5 460.4"/><path d="M36.5 462.7L38.7 461.8 41.9 460.6 45.5 459.4 49.0 458.9 52.1 459.1 55.2 459.8 58.3 460.8 61.4 461.9 64.5 463.1 67.6 464.6 70.7 466.1 73.9 467.5 77.0 468.6 80.1 469.7 83.2 470.6 86.3 471.1 89.4 471.2 92.5 470.9 95.6 470.6 98.8 470.6 101.9 471.1 105.0 471.9 108.1 472.7 111.2 473.1 114.3 472.9 117.4 472.4 120.5 471.8 123.7 471.5 126.8 471.5 129.9 471.7 133.0 472.1 136.1 472.8 139.2 473.9 142.3 475.4 145.4 476.8 148.6 478.0 151.7 478.7 154.8 479.1 157.9 479.4 161.0 479.7 164.1 480.1 167.2 480.5 170.3 480.9 173.4 481.4 176.6 482.1 179.7 483.0 182.8 483.8 185.9 484.4 189.0 484.8 192.1 485.2 195.2 485.2 198.3 484.9 201.5 484.0 204.6 482.7 207.7 481.3 210.8 480.1 213.9 479.4 217.0 478.8 220.1 478.4 223.2 478.0 226.4 477.6 229.5 477.2 232.6 477.0 235.7 476.8 238.8 477.0 241.9 477.4 245.0 477.7 248.1 477.8 251.3 477.3 254.4 476.6 257.5 475.9 260.6 475.3 263.7 474.9 266.8 474.5 269.9 474.3 273.1 474.4 276.5 474.7 280.1 475.3 283.3 476.0 285.5 476.4"/><path d="M36.5 482.5L38.7 482.4 41.9 482.3 45.5 482.1 49.0 481.6 52.1 480.6 55.2 479.2 58.3 477.9 61.4 477.1 64.5 477.2 67.6 477.8 70.7 478.5 73.9 478.8 77.0 478.6 80.1 478.1 83.2 477.5 86.3 477.0 89.4 476.6 92.5 476.1 95.6 475.8 98.8 476.0 101.9 476.9 105.0 478.3 108.1 479.8 111.2 481.1 114.3 482.1 117.4 482.9 120.5 483.7 123.7 484.7 126.8 486.0 129.9 487.4 133.0 488.9 136.1 490.5 139.2 492.1 142.3 493.8 145.4 495.4 148.6 496.8 151.7 497.8 154.8 498.6 157.9 499.2 161.0 499.8 164.1 500.4 167.2 501.0 170.3 501.5 173.4 501.9 176.6 501.9 179.7 501.6 182.8 501.4 185.9 501.6 189.0 502.5 192.1 503.8 195.2 505.1 198.3 506.0 201.5 506.3 204.6 506.3 207.7 506.2 210.8 506.1 213.9 506.1 217.0 506.2 220.1 506.2 223.2 506.2 226.4 506.2 229.5 506.1 232.6 506.0 235.7 505.9 238.8 505.9 241.9 505.8 245.0 505.7 248.1 505.7 251.3 505.6 254.4 505.5 257.5 505.4 260.6 505.4 263.7 505.6 266.8 505.9 269.9 506.1 273.1 506.0 276.5 505.4 280.1 504.6 283.3 503.6 285.5 503.0"/><path d="M36.5 452.8L38.7 453.0 41.9 453.3 45.5 453.7 49.0 454.3 52.1 454.9 55.2 455.8 58.3 456.6 61.4 457.4 64.5 458.0 67.6 458.7 70.7 459.3 73.9 459.9 77.0 460.4 80.1 460.8 83.2 461.3 86.3 461.8 89.4 462.4 92.5 463.0 95.6 463.7 98.8 464.3 101.9 464.9 105.0 465.5 108.1 466.1 111.2 466.3 114.3 466.0 117.4 465.3 120.5 464.8 123.7 464.9 126.8 465.8 129.9 467.4 133.0 469.2 136.1 471.0 139.2 472.7 142.3 474.4 145.4 476.3 148.6 478.4 151.7 481.0 154.8 484.1 157.9 486.9 161.0 488.9 164.1 489.9 167.2 490.2 170.3 490.1 173.4 489.8 176.6 489.2 179.7 488.3 182.8 487.4 185.9 487.1 189.0 487.7 192.1 488.9 195.2 490.1 198.3 490.7 201.5 490.6 204.6 489.9 207.7 489.2 210.8 489.0 213.9 489.8 217.0 491.0 220.1 492.2 223.2 492.6 226.4 491.9 229.5 490.5 232.6 488.8 235.7 487.3 238.8 486.0 241.9 484.8 245.0 483.5 248.1 482.2 251.3 480.6 254.4 478.8 257.5 477.1 260.6 475.8 263.7 475.1 266.8 474.6 269.9 474.4 273.1 474.3 276.5 474.4 280.1 474.6 283.3 474.9 285.5 475.1"/><path d="M36.5 464.5L38.7 465.6 41.9 467.2 45.5 468.7 49.0 469.7 52.1 469.6 55.2 468.9 58.3 468.2 61.4 467.8 64.5 468.0 67.6 468.5 70.7 469.2 73.9 469.9 77.0 470.8 80.1 472.0 83.2 473.1 86.3 473.7 89.4 473.7 92.5 473.2 95.6 472.7 98.8 472.5 101.9 472.7 105.0 473.2 108.1 473.7 111.2 473.9 114.3 473.4 117.4 472.6 120.5 471.9 123.7 471.9 126.8 473.1 129.9 475.0 133.0 477.0 136.1 478.3 139.2 478.6 142.3 478.3 145.4 477.8 148.6 477.9 151.7 478.6 154.8 479.8 157.9 481.0 161.0 481.9 164.1 482.3 167.2 482.6 170.3 482.7 173.4 482.7 176.6 482.2 179.7 481.6 182.8 480.9 185.9 480.5 189.0 480.7 192.1 481.3 195.2 481.8 198.3 481.8 201.5 481.0 204.6 479.7 207.7 478.4 210.8 477.5 213.9 477.1 217.0 477.1 220.1 477.1 223.2 476.8 226.4 476.2 229.5 475.3 232.6 474.3 235.7 473.3 238.8 472.3 241.9 471.3 245.0 470.4 248.1 469.8 251.3 469.8 254.4 470.1 257.5 470.4 260.6 470.4 263.7 470.1 266.8 469.5 269.9 468.8 273.1 468.2 276.5 467.4 280.1 466.6 283.3 465.9 285.5 465.4"/><path d="M36.5 469.8L38.7 469.6 41.9 469.3 45.5 469.1 49.0 469.4 52.1 470.3 55.2 471.6 58.3 473.0 61.4 473.9 64.5 474.1 67.6 473.8 70.7 473.5 73.9 473.4 77.0 473.6 80.1 474.1 83.2 474.5 86.3 474.7 89.4 474.6 92.5 474.2 95.6 473.8 98.8 473.6 101.9 473.7 105.0 473.9 108.1 474.2 111.2 474.5 114.3 474.8 117.4 475.2 120.5 475.6 123.7 475.9 126.8 476.1 129.9 476.4 133.0 476.6 136.1 476.8 139.2 477.0 142.3 477.1 145.4 477.4 148.6 478.1 151.7 479.5 154.8 481.5 157.9 483.4 161.0 484.5 164.1 484.6 167.2 484.0 170.3 483.2 173.4 482.7 176.6 482.5 179.7 482.5 182.8 482.5 185.9 482.4 189.0 482.1 192.1 481.8 195.2 481.5 198.3 481.3 201.5 481.1 204.6 481.0 207.7 481.0 210.8 480.8 213.9 480.5 217.0 480.1 220.1 479.7 223.2 479.4 226.4 479.4 229.5 479.5 232.6 479.5 235.7 479.3 238.8 478.8 241.9 478.2 245.0 477.4 248.1 476.7 251.3 476.0 254.4 475.3 257.5 474.7 260.6 474.3 263.7 474.0 266.8 473.9 269.9 473.8 273.1 473.7 276.5 473.5 280.1 473.2 283.3 473.0 285.5 472.9"/><path d="M36.5 468.9L38.7 468.3 41.9 467.3 45.5 466.4 49.0 465.5 52.1 464.9 55.2 464.3 58.3 463.9 61.4 463.4 64.5 462.8 67.6 462.2 70.7 461.8 73.9 461.6 77.0 462.0 80.1 462.7 83.2 463.5 86.3 464.3 89.4 464.9 92.5 465.4 95.6 466.0 98.8 466.6 101.9 467.2 105.0 467.9 108.1 468.7 111.2 469.5 114.3 470.6 117.4 471.9 120.5 473.1 123.7 474.1 126.8 474.8 129.9 475.3 133.0 475.7 136.1 476.2 139.2 476.6 142.3 476.9 145.4 477.4 148.6 477.9 151.7 478.6 154.8 479.5 157.9 480.4 161.0 481.0 164.1 481.4 167.2 481.4 170.3 481.5 173.4 481.8 176.6 482.3 179.7 483.0 182.8 483.7 185.9 484.2 189.0 484.4 192.1 484.5 195.2 484.5 198.3 484.6 201.5 485.2 204.6 486.0 207.7 486.7 210.8 486.8 213.9 485.9 217.0 484.4 220.1 482.9 223.2 481.9 226.4 481.8 229.5 482.1 232.6 482.5 235.7 482.8 238.8 483.0 241.9 483.2 245.0 483.3 248.1 483.1 251.3 482.5 254.4 481.4 257.5 480.4 260.6 479.7 263.7 479.6 266.8 479.8 269.9 480.1 273.1 480.2 276.5 479.8 280.1 479.3 283.3 478.8 285.5 478.4"/><path d="M36.5 456.3L38.7 456.9 41.9 457.9 45.5 458.8 49.0 459.3 52.1 459.2 55.2 458.7 58.3 458.2 61.4 458.1 64.5 458.8 67.6 459.9 70.7 461.0 73.9 461.6 77.0 461.6 80.1 461.2 83.2 460.7 86.3 460.5 89.4 460.6 92.5 460.9 95.6 461.4 98.8 462.4 101.9 464.1 105.0 466.3 108.1 468.6 111.2 470.7 114.3 472.5 117.4 474.1 120.5 475.6 123.7 476.9 126.8 478.1 129.9 479.0 133.0 479.9 136.1 481.0 139.2 482.3 142.3 483.7 145.4 485.1 148.6 486.0 151.7 486.2 154.8 486.0 157.9 485.7 161.0 485.6 164.1 485.7 167.2 485.9 170.3 486.2 173.4 486.7 176.6 487.3 179.7 488.1 182.8 489.0 185.9 489.9 189.0 490.8 192.1 491.9 195.2 492.9 198.3 493.7 201.5 494.3 204.6 494.7 207.7 495.0 210.8 495.0 213.9 494.8 217.0 494.3 220.1 493.8 223.2 493.2 226.4 492.7 229.5 492.1 232.6 491.6 235.7 491.4 238.8 491.5 241.9 491.8 245.0 492.3 248.1 492.7 251.3 493.1 254.4 493.6 257.5 494.0 260.6 494.5 263.7 495.1 266.8 495.9 269.9 496.4 273.1 496.3 276.5 494.9 280.1 492.8 283.3 490.6 285.5 489.1"/><path d="M36.5 458.2L38.7 458.2 41.9 458.2 45.5 458.2 49.0 458.3 52.1 458.5 55.2 458.8 58.3 459.1 61.4 459.3 64.5 459.2 67.6 459.1 70.7 458.9 73.9 458.9 77.0 459.0 80.1 459.3 83.2 459.5 86.3 459.5 89.4 459.0 92.5 458.1 95.6 457.4 98.8 457.3 101.9 458.2 105.0 459.8 108.1 461.5 111.2 462.8 114.3 463.4 117.4 463.7 120.5 464.0 123.7 464.3 126.8 464.9 129.9 465.7 133.0 466.4 136.1 466.9 139.2 467.5 142.3 468.0 145.4 468.4 148.6 468.4 151.7 467.8 154.8 466.8 157.9 465.9 161.0 465.4 164.1 465.7 167.2 466.4 170.3 467.2 173.4 467.5 176.6 466.9 179.7 465.9 182.8 464.9 185.9 464.5 189.0 465.3 192.1 466.8 195.2 468.3 198.3 469.4 201.5 469.9 204.6 470.1 207.7 470.0 210.8 469.9 213.9 469.7 217.0 469.3 220.1 468.9 223.2 468.6 226.4 468.5 229.5 468.5 232.6 468.5 235.7 468.2 238.8 467.7 241.9 466.9 245.0 466.0 248.1 465.0 251.3 463.6 254.4 461.9 257.5 460.4 260.6 459.6 263.7 459.9 266.8 461.0 269.9 462.0 273.1 462.4 276.5 461.5 280.1 460.0 283.3 458.4 285.5 457.3"/><path d="M36.5 482.5L38.7 483.0 41.9 483.8 45.5 484.5 49.0 484.9 52.1 484.8 55.2 484.4 58.3 483.8 61.4 483.4 64.5 483.0 67.6 482.5 70.7 482.2 73.9 482.1 77.0 482.5 80.1 483.2 83.2 483.8 86.3 483.9 89.4 483.1 92.5 481.8 95.6 480.5 98.8 479.9 101.9 480.3 105.0 481.3 108.1 482.5 111.2 483.3 114.3 483.8 117.4 484.1 120.5 484.3 123.7 484.6 126.8 485.0 129.9 485.4 133.0 485.8 136.1 486.4 139.2 487.1 142.3 487.8 145.4 488.6 148.6 489.1 151.7 489.3 154.8 489.1 157.9 489.1 161.0 489.4 164.1 490.4 167.2 492.0 170.3 493.4 173.4 494.0 176.6 493.4 179.7 491.9 182.8 490.4 185.9 489.8 189.0 490.7 192.1 492.5 195.2 494.5 198.3 495.8 201.5 496.5 204.6 496.8 207.7 496.8 210.8 496.8 213.9 496.6 217.0 496.3 220.1 495.9 223.2 495.5 226.4 495.1 229.5 494.6 232.6 494.3 235.7 494.1 238.8 494.3 241.9 494.6 245.0 495.1 248.1 495.8 251.3 497.0 254.4 498.5 257.5 499.9 260.6 500.7 263.7 500.4 266.8 499.5 269.9 498.6 273.1 498.1 276.5 498.5 280.1 499.3 283.3 500.2 285.5 500.8"/><path d="M36.5 505.1L38.7 504.8 41.9 504.4 45.5 503.9 49.0 503.5 52.1 503.1 55.2 502.7 58.3 502.3 61.4 502.1 64.5 502.2 67.6 502.3 70.7 502.6 73.9 502.9 77.0 503.3 80.1 503.8 83.2 504.3 86.3 504.9 89.4 505.6 92.5 506.5 95.6 507.3 98.8 507.8 101.9 508.0 105.0 508.0 108.1 507.8 111.2 507.3 114.3 506.5 117.4 505.2 120.5 504.0 123.7 503.3 126.8 503.1 129.9 503.2 133.0 503.6 136.1 504.2 139.2 505.2 142.3 506.5 145.4 507.8 148.6 508.6 151.7 508.4 154.8 507.6 157.9 506.9 161.0 506.6 164.1 507.0 167.2 507.9 170.3 509.0 173.4 509.8 176.6 510.2 179.7 510.5 182.8 510.9 185.9 511.6 189.0 512.9 192.1 514.7 195.2 516.4 198.3 517.5 201.5 517.8 204.6 517.5 207.7 517.1 210.8 517.1 213.9 517.8 217.0 518.8 220.1 519.7 223.2 520.2 226.4 520.2 229.5 519.8 232.6 519.1 235.7 518.1 238.8 516.2 241.9 513.7 245.0 511.4 248.1 510.0 251.3 509.8 254.4 510.5 257.5 511.5 260.6 512.5 263.7 513.6 266.8 515.0 269.9 516.2 273.1 516.9 276.5 516.9 280.1 516.4 283.3 515.7 285.5 515.3"/><path d="M36.5 488.0L38.7 487.7 41.9 487.3 45.5 487.0 49.0 487.0 52.1 487.6 55.2 488.5 58.3 489.5 61.4 490.0 64.5 490.1 67.6 489.7 70.7 489.3 73.9 489.0 77.0 488.8 80.1 488.6 83.2 488.5 86.3 488.4 89.4 488.4 92.5 488.5 95.6 488.7 98.8 488.9 101.9 489.3 105.0 489.8 108.1 490.3 111.2 490.6 114.3 490.6 117.4 490.3 120.5 490.1 123.7 489.9 126.8 489.7 129.9 489.5 133.0 489.4 136.1 489.8 139.2 490.7 142.3 492.0 145.4 493.5 148.6 494.8 151.7 495.9 154.8 496.8 157.9 497.8 161.0 498.8 164.1 500.1 167.2 501.5 170.3 502.8 173.4 503.7 176.6 504.1 179.7 504.1 182.8 503.9 185.9 503.6 189.0 503.2 192.1 502.5 195.2 501.8 198.3 501.5 201.5 501.4 204.6 501.4 207.7 501.8 210.8 502.6 213.9 504.0 217.0 506.0 220.1 508.0 223.2 509.5 226.4 510.5 229.5 511.2 232.6 511.5 235.7 511.6 238.8 511.1 241.9 510.2 245.0 509.2 248.1 508.4 251.3 507.7 254.4 507.0 257.5 506.7 260.6 506.9 263.7 508.2 266.8 510.3 269.9 512.4 273.1 513.8 276.5 514.0 280.1 513.7 283.3 513.1 285.5 512.7"/><path d="M36.5 470.0L38.7 470.1 41.9 470.3 45.5 470.6 49.0 470.8 52.1 471.0 55.2 471.2 58.3 471.4 61.4 471.6 64.5 471.8 67.6 472.0 70.7 472.2 73.9 472.4 77.0 472.6 80.1 472.8 83.2 473.0 86.3 473.2 89.4 473.4 92.5 473.7 95.6 473.9 98.8 474.0 101.9 474.0 105.0 474.0 108.1 473.9 111.2 473.9 114.3 473.8 117.4 473.7 120.5 473.7 123.7 473.8 126.8 474.2 129.9 474.7 133.0 475.3 136.1 475.8 139.2 476.3 142.3 476.8 145.4 477.2 148.6 477.7 151.7 478.2 154.8 478.7 157.9 479.2 161.0 479.6 164.1 479.9 167.2 480.0 170.3 480.1 173.4 480.2 176.6 480.3 179.7 480.4 182.8 480.5 185.9 480.8 189.0 481.3 192.1 481.9 195.2 482.6 198.3 483.5 201.5 484.7 204.6 486.2 207.7 487.6 210.8 488.6 213.9 489.0 217.0 489.1 220.1 489.1 223.2 489.2 226.4 489.4 229.5 489.8 232.6 490.1 235.7 490.0 238.8 489.5 241.9 488.7 245.0 487.8 248.1 487.4 251.3 487.7 254.4 488.3 257.5 489.0 260.6 489.1 263.7 488.6 266.8 487.6 269.9 486.5 273.1 485.4 276.5 484.3 280.1 483.1 283.3 482.0 285.5 481.2"/><path d="M36.5 506.1L38.7 505.4 41.9 504.3 45.5 503.3 49.0 502.7 52.1 502.6 55.2 502.7 58.3 503.1 61.4 503.4 64.5 503.9 67.6 504.5 70.7 505.1 73.9 505.4 77.0 505.2 80.1 504.8 83.2 504.3 86.3 503.9 89.4 503.9 92.5 503.9 95.6 504.0 98.8 504.2 101.9 504.5 105.0 504.8 108.1 505.1 111.2 505.4 114.3 505.5 117.4 505.4 120.5 505.5 123.7 505.7 126.8 506.1 129.9 506.7 133.0 507.4 136.1 508.2 139.2 509.0 142.3 509.9 145.4 510.8 148.6 511.6 151.7 512.6 154.8 513.6 157.9 514.3 161.0 514.4 164.1 513.4 167.2 511.7 170.3 509.9 173.4 509.0 176.6 509.2 179.7 510.1 182.8 511.1 185.9 511.5 189.0 511.0 192.1 510.1 195.2 509.0 198.3 508.1 201.5 507.4 204.6 506.8 207.7 506.4 210.8 506.4 213.9 506.9 217.0 507.9 220.1 509.0 223.2 510.0 226.4 510.9 229.5 511.8 232.6 512.6 235.7 513.2 238.8 513.7 241.9 514.1 245.0 514.3 248.1 514.6 251.3 514.7 254.4 514.6 257.5 514.7 260.6 515.2 263.7 516.2 266.8 517.5 269.9 518.9 273.1 519.9 276.5 520.2 280.1 520.2 283.3 520.0 285.5 519.9"/><path d="M36.5 478.8L38.7 478.4 41.9 477.8 45.5 477.2 49.0 476.9 52.1 476.9 55.2 477.0 58.3 477.4 61.4 477.8 64.5 478.4 67.6 479.1 70.7 479.9 73.9 480.8 77.0 481.7 80.1 482.8 83.2 483.8 86.3 484.4 89.4 484.6 92.5 484.5 95.6 484.2 98.8 483.9 101.9 483.6 105.0 483.1 108.1 482.7 111.2 482.6 114.3 482.9 117.4 483.5 120.5 484.1 123.7 484.5 126.8 484.4 129.9 484.0 133.0 483.7 136.1 483.8 139.2 484.3 142.3 485.2 145.4 486.2 148.6 487.5 151.7 489.1 154.8 491.1 157.9 493.0 161.0 494.3 164.1 494.9 167.2 495.0 170.3 494.8 173.4 494.3 176.6 493.5 179.7 492.3 182.8 491.1 185.9 490.2 189.0 489.8 192.1 489.5 195.2 489.6 198.3 490.1 201.5 491.3 204.6 493.0 207.7 494.9 210.8 496.3 213.9 497.3 217.0 498.0 220.1 498.6 223.2 499.0 226.4 499.4 229.5 499.5 232.6 499.6 235.7 499.4 238.8 498.9 241.9 498.1 245.0 497.5 248.1 497.2 251.3 497.9 254.4 499.1 257.5 500.2 260.6 500.7 263.7 500.0 266.8 498.6 269.9 497.2 273.1 496.8 276.5 497.6 280.1 499.4 283.3 501.2 285.5 502.5"/><path d="M36.5 493.6L38.7 493.4 41.9 493.1 45.5 493.0 49.0 493.4 52.1 494.8 55.2 496.8 58.3 498.7 61.4 499.8 64.5 499.8 67.6 498.9 70.7 498.0 73.9 497.5 77.0 497.9 80.1 498.7 83.2 499.5 86.3 500.0 89.4 500.0 92.5 499.8 95.6 499.6 98.8 499.5 101.9 499.7 105.0 499.9 108.1 500.3 111.2 500.8 114.3 501.5 117.4 502.3 120.5 503.1 123.7 504.0 126.8 505.1 129.9 506.4 133.0 507.5 136.1 508.0 139.2 507.5 142.3 506.4 145.4 505.3 148.6 505.1 151.7 506.1 154.8 507.8 157.9 509.9 161.0 511.7 164.1 513.5 167.2 515.4 170.3 517.0 173.4 517.9 176.6 517.7 179.7 516.8 182.8 515.6 185.9 514.8 189.0 514.3 192.1 513.8 195.2 513.7 198.3 513.8 201.5 514.6 204.6 515.8 207.7 517.0 210.8 517.8 213.9 517.9 217.0 517.6 220.1 517.1 223.2 516.7 226.4 516.3 229.5 515.8 232.6 515.3 235.7 515.0 238.8 515.0 241.9 515.1 245.0 515.4 248.1 515.5 251.3 515.7 254.4 515.9 257.5 516.1 260.6 516.1 263.7 515.8 266.8 515.4 269.9 515.0 273.1 514.7 276.5 514.8 280.1 515.1 283.3 515.5 285.5 515.7"/><path d="M36.5 489.7L38.7 489.8 41.9 489.9 45.5 490.0 49.0 490.1 52.1 489.9 55.2 489.5 58.3 489.3 61.4 489.9 64.5 491.4 67.6 493.7 70.7 496.2 73.9 498.3 77.0 500.2 80.1 502.0 83.2 503.4 86.3 504.2 89.4 503.9 92.5 502.7 95.6 501.4 98.8 500.6 101.9 500.4 105.0 500.4 108.1 500.7 111.2 501.1 114.3 501.7 117.4 502.6 120.5 503.5 123.7 504.6 126.8 505.9 129.9 507.5 133.0 508.9 136.1 510.0 139.2 510.5 142.3 510.7 145.4 510.8 148.6 510.9 151.7 511.0 154.8 511.0 157.9 511.0 161.0 511.3 164.1 511.9 167.2 512.8 170.3 513.7 173.4 514.5 176.6 515.2 179.7 515.7 182.8 516.2 185.9 516.5 189.0 516.4 192.1 516.0 195.2 515.7 198.3 515.9 201.5 516.8 204.6 518.1 207.7 519.6 210.8 520.8 213.9 521.7 217.0 522.5 220.1 523.3 223.2 524.1 226.4 525.1 229.5 526.2 232.6 527.1 235.7 527.7 238.8 527.8 241.9 527.4 245.0 527.1 248.1 526.9 251.3 527.3 254.4 527.8 257.5 528.4 260.6 528.9 263.7 529.3 266.8 529.6 269.9 529.8 273.1 529.9 276.5 529.8 280.1 529.5 283.3 529.1 285.5 528.9"/><path d="M36.5 500.2L38.7 500.4 41.9 500.6 45.5 500.8 49.0 500.8 52.1 500.6 55.2 500.2 58.3 499.8 61.4 499.5 64.5 499.5 67.6 499.7 70.7 499.9 73.9 500.1 77.0 500.3 80.1 500.6 83.2 500.9 86.3 501.2 89.4 501.3 92.5 501.4 95.6 501.6 98.8 502.1 101.9 503.1 105.0 504.4 108.1 505.7 111.2 506.4 114.3 506.0 117.4 504.9 120.5 503.9 123.7 503.5 126.8 504.3 129.9 505.8 133.0 507.3 136.1 508.2 139.2 508.3 142.3 507.9 145.4 507.4 148.6 507.0 151.7 507.2 154.8 507.6 157.9 507.9 161.0 507.6 164.1 506.4 167.2 504.6 170.3 502.7 173.4 501.3 176.6 500.2 179.7 499.4 182.8 499.0 185.9 499.5 189.0 501.3 192.1 504.3 195.2 507.1 198.3 508.5 201.5 507.7 204.6 505.5 207.7 503.1 210.8 501.5 213.9 501.2 217.0 501.5 220.1 502.0 223.2 502.3 226.4 502.2 229.5 501.9 232.6 501.7 235.7 501.7 238.8 501.9 241.9 502.3 245.0 502.9 248.1 503.7 251.3 505.1 254.4 506.9 257.5 508.7 260.6 510.2 263.7 511.2 266.8 512.0 269.9 512.7 273.1 513.3 276.5 514.1 280.1 514.8 283.3 515.5 285.5 515.9"/><path d="M36.5 481.8L38.7 481.8 41.9 481.7 45.5 481.6 49.0 481.5 52.1 481.2 55.2 480.8 58.3 480.4 61.4 480.3 64.5 480.4 67.6 480.7 70.7 481.1 73.9 481.3 77.0 481.4 80.1 481.4 83.2 481.4 86.3 481.3 89.4 481.0 92.5 480.7 95.6 480.4 98.8 480.1 101.9 479.9 105.0 479.6 108.1 479.5 111.2 479.6 114.3 479.8 117.4 480.1 120.5 480.5 123.7 481.2 126.8 482.1 129.9 483.1 133.0 484.3 136.1 485.5 139.2 486.8 142.3 488.1 145.4 489.5 148.6 490.9 151.7 492.4 154.8 494.1 157.9 495.6 161.0 496.9 164.1 497.9 167.2 498.7 170.3 499.4 173.4 500.1 176.6 501.0 179.7 501.9 182.8 502.9 185.9 504.1 189.0 505.4 192.1 506.8 195.2 508.3 198.3 509.7 201.5 511.2 204.6 512.6 207.7 514.0 210.8 515.2 213.9 516.2 217.0 516.9 220.1 517.6 223.2 518.3 226.4 519.1 229.5 520.0 232.6 520.6 235.7 520.6 238.8 519.8 241.9 518.3 245.0 516.7 248.1 515.4 251.3 514.6 254.4 513.9 257.5 513.5 260.6 513.1 263.7 512.7 266.8 512.3 269.9 512.2 273.1 512.6 276.5 514.0 280.1 516.1 283.3 518.2 285.5 519.6"/><path d="M36.5 481.0L38.7 481.5 41.9 482.2 45.5 483.0 49.0 484.2 52.1 486.1 55.2 488.4 58.3 490.6 61.4 492.1 64.5 492.3 67.6 491.8 70.7 491.1 73.9 490.8 77.0 491.2 80.1 491.7 83.2 492.5 86.3 493.3 89.4 494.2 92.5 495.3 95.6 496.4 98.8 497.3 101.9 497.8 105.0 498.1 108.1 498.2 111.2 498.4 114.3 498.6 117.4 498.6 120.5 498.7 123.7 499.0 126.8 499.3 129.9 499.7 133.0 500.3 136.1 501.0 139.2 502.1 142.3 503.4 145.4 504.7 148.6 505.5 151.7 505.4 154.8 504.8 157.9 504.2 161.0 504.1 164.1 504.9 167.2 506.3 170.3 507.6 173.4 508.5 176.6 508.8 179.7 508.7 182.8 508.4 185.9 508.1 189.0 507.7 192.1 507.2 195.2 506.8 198.3 506.8 201.5 507.0 204.6 507.5 207.7 508.3 210.8 509.4 213.9 511.2 217.0 513.5 220.1 515.7 223.2 516.9 226.4 516.8 229.5 515.8 232.6 514.6 235.7 514.1 238.8 514.5 241.9 515.5 245.0 516.6 248.1 517.2 251.3 517.3 254.4 517.1 257.5 516.8 260.6 516.6 263.7 516.5 266.8 516.5 269.9 516.6 273.1 516.6 276.5 516.6 280.1 516.7 283.3 516.7 285.5 516.7"/><path d="M36.5 504.0L38.7 504.5 41.9 505.3 45.5 506.2 49.0 507.0 52.1 507.8 55.2 508.5 58.3 509.2 61.4 510.0 64.5 510.8 67.6 511.5 70.7 512.2 73.9 513.0 77.0 513.8 80.1 514.5 83.2 515.2 86.3 516.0 89.4 516.8 92.5 517.5 95.6 518.2 98.8 519.0 101.9 519.8 105.0 520.5 108.1 521.2 111.2 522.0 114.3 522.8 117.4 523.6 120.5 524.3 123.7 525.0 126.8 525.6 129.9 526.1 133.0 526.5 136.1 527.0 139.2 527.5 142.3 528.1 145.4 528.6 148.6 529.0 151.7 529.3 154.8 529.5 157.9 529.7 161.0 530.0 164.1 530.4 167.2 530.9 170.3 531.5 173.4 532.0 176.6 532.5 179.7 533.0 182.8 533.5 185.9 534.0 189.0 534.5 192.1 535.1 195.2 535.6 198.3 536.0 201.5 536.3 204.6 536.6 207.7 536.8 210.8 537.0 213.9 537.2 217.0 537.5 220.1 537.8 223.2 538.0 226.4 538.3 229.5 538.6 232.6 538.8 235.7 539.0 238.8 539.0 241.9 539.0 245.0 539.0 248.1 539.0 251.3 539.2 254.4 539.5 257.5 539.8 260.6 540.0 263.7 540.0 266.8 540.0 269.9 540.0 273.1 540.0 276.5 540.2 280.1 540.5 283.3 540.8 285.5 541.0"/><path d="M36.5 437.0L38.7 437.4 41.9 437.9 45.5 438.5 49.0 439.0 52.1 439.5 55.2 440.0 58.3 440.5 61.4 441.0 64.5 441.5 67.6 442.0 70.7 442.5 73.9 443.0 77.0 443.5 80.1 444.0 83.2 444.5 86.3 445.0 89.4 445.5 92.5 446.0 95.6 446.5 98.8 447.0 101.9 447.5 105.0 448.0 108.1 448.5 111.2 449.0 114.3 449.5 117.4 449.9 120.5 450.4 123.7 451.0 126.8 451.7 129.9 452.4 133.0 453.2 136.1 454.0 139.2 454.8 142.3 455.5 145.4 456.2 148.6 457.0 151.7 457.8 154.8 458.6 157.9 459.4 161.0 460.0 164.1 460.4 167.2 460.8 170.3 460.9 173.4 461.0 176.6 460.9 179.7 460.7 182.8 460.4 185.9 460.0 189.0 459.6 192.1 459.1 195.2 458.6 198.3 458.0 201.5 457.3 204.6 456.6 207.7 455.8 210.8 455.0 213.9 454.2 217.0 453.4 220.1 452.7 223.2 452.0 226.4 451.4 229.5 450.9 232.6 450.4 235.7 450.0 238.8 449.7 241.9 449.4 245.0 449.2 248.1 449.0 251.3 448.8 254.4 448.5 257.5 448.2 260.6 448.0 263.7 447.8 266.8 447.5 269.9 447.2 273.1 447.0 276.5 446.7 280.1 446.4 283.3 446.2 285.5 446.0"/><path d="M36.5 502.0L38.7 502.2 41.9 502.4 45.5 502.7 49.0 503.0 52.1 503.4 55.2 503.9 58.3 504.5 61.4 505.0 64.5 505.5 67.6 506.0 70.7 506.5 73.9 507.0 77.0 507.5 80.1 507.9 83.2 508.4 86.3 509.0 89.4 509.7 92.5 510.4 95.6 511.2 98.8 512.0 101.9 512.8 105.0 513.5 108.1 514.2 111.2 515.0 114.3 515.8 117.4 516.5 120.5 517.2 123.7 518.0 126.8 518.8 129.9 519.6 133.0 520.3 136.1 521.0 139.2 521.6 142.3 522.1 145.4 522.5 148.6 523.0 151.7 523.5 154.8 524.0 157.9 524.5 161.0 525.0 164.1 525.5 167.2 525.9 170.3 526.4 173.4 527.0 176.6 527.7 179.7 528.5 182.8 529.3 185.9 530.0 189.0 530.6 192.1 531.1 195.2 531.6 198.3 532.0 201.5 532.3 204.6 532.6 207.7 532.8 210.8 533.0 213.9 533.2 217.0 533.5 220.1 533.8 223.2 534.0 226.4 534.3 229.5 534.6 232.6 534.8 235.7 535.0 238.8 535.1 241.9 535.1 245.0 535.0 248.1 535.0 251.3 535.0 254.4 535.0 257.5 535.0 260.6 535.0 263.7 535.0 266.8 534.9 269.9 534.9 273.1 535.0 276.5 535.2 280.1 535.5 283.3 535.8 285.5 536.0"/></g>
<path d="M36.5 473.6L38.7 473.9 41.9 474.3 45.5 474.9 49.0 475.4 52.1 476.0 55.2 476.6 58.3 477.3 61.4 478.0 64.5 478.7 67.6 479.5 70.7 480.3 73.9 481.0 77.0 481.7 80.1 482.3 83.2 482.9 86.3 483.4 89.4 483.8 92.5 484.2 95.6 484.5 98.8 485.0 101.9 485.6 105.0 486.4 108.1 487.1 111.2 488.0 114.3 488.9 117.4 489.9 120.5 491.0 123.7 492.0 126.8 493.0 129.9 494.0 133.0 495.0 136.1 496.0 139.2 497.1 142.3 498.3 145.4 499.4 148.6 500.6 151.7 501.7 154.8 502.9 157.9 504.0 161.0 505.0 164.1 505.8 167.2 506.6 170.3 507.3 173.4 508.0 176.6 508.8 179.7 509.5 182.8 510.2 185.9 511.0 189.0 511.8 192.1 512.6 195.2 513.4 198.3 514.0 201.5 514.5 204.6 514.8 207.7 515.0 210.8 515.0 213.9 514.8 217.0 514.3 220.1 513.8 223.2 513.4 226.4 513.1 229.5 512.8 232.6 512.7 235.7 512.6 238.8 512.7 241.9 512.9 245.0 513.1 248.1 513.4 251.3 513.7 254.4 514.1 257.5 514.5 260.6 515.0 263.7 515.6 266.8 516.4 269.9 517.1 273.1 518.0 276.5 519.0 280.1 520.2 283.3 521.3 285.5 522.0" fill="none" stroke="#9a6cef" stroke-width="1.85" stroke-linejoin="round" stroke-linecap="butt"/>
<path d="M36.5 477.4L38.7 478.1 41.9 479.0 45.5 480.1 49.0 481.0 52.1 481.8 55.2 482.6 58.3 483.4 61.4 484.0 64.5 484.5 67.6 485.0 70.7 485.3 73.9 485.4 77.0 485.3 80.1 485.0 83.2 484.5 86.3 484.0 89.4 483.3 92.5 482.5 95.6 481.7 98.8 481.0 101.9 480.3 105.0 479.7 108.1 479.2 111.2 479.0 114.3 479.1 117.4 479.4 120.5 479.9 123.7 480.6 126.8 481.4 129.9 482.3 133.0 483.4 136.1 484.6 139.2 486.0 142.3 487.6 145.4 489.3 148.6 491.0 151.7 492.8 154.8 494.6 157.9 496.4 161.0 498.0 164.1 499.4 167.2 500.6 170.3 501.8 173.4 503.0 176.6 504.3 179.7 505.5 182.8 506.8 185.9 508.0 189.0 509.2 192.1 510.4 195.2 511.6 198.3 512.6 201.5 513.5 204.6 514.2 207.7 514.9 210.8 515.4 213.9 515.8 217.0 516.1 220.1 516.3 223.2 516.6 226.4 516.9 229.5 517.3 232.6 517.6 235.7 518.0 238.8 518.3 241.9 518.7 245.0 519.0 248.1 519.4 251.3 519.8 254.4 520.2 257.5 520.6 260.6 521.0 263.7 521.5 266.8 522.0 269.9 522.5 273.1 523.0 276.5 523.5 280.1 524.1 283.3 524.6 285.5 525.0" fill="none" stroke="#fb7748" stroke-width="1.85" stroke-linejoin="round" stroke-linecap="butt"/>
<line x1="24.40" y1="431.70" x2="24.40" y2="546.00" stroke="#1a1a1a" stroke-width="1.25"/>
<line x1="21.50" y1="441.50" x2="24.40" y2="441.50" stroke="#333" stroke-width="1.1"/>
<text x="19.00" y="445.00" text-anchor="end" class="tk">0.40</text>
<line x1="21.50" y1="470.70" x2="24.40" y2="470.70" stroke="#333" stroke-width="1.1"/>
<text x="19.00" y="474.20" text-anchor="end" class="tk">0.35</text>
<line x1="21.50" y1="499.70" x2="24.40" y2="499.70" stroke="#333" stroke-width="1.1"/>
<text x="19.00" y="503.20" text-anchor="end" class="tk">0.30</text>
<line x1="21.50" y1="528.70" x2="24.40" y2="528.70" stroke="#333" stroke-width="1.1"/>
<text x="19.00" y="532.20" text-anchor="end" class="tk">0.25</text>
<text x="161.35" y="425.30" text-anchor="middle" class="ti">(g) Volumetric Soil Water (7 – 28cm depth) [–]</text>
<line x1="23.80" y1="546.00" x2="298.30" y2="546.00" stroke="#1a1a1a" stroke-width="1.25"/>
<line x1="36.50" y1="546.00" x2="36.50" y2="548.90" stroke="#333" stroke-width="1.1"/>
<text x="36.50" y="558.40" text-anchor="middle" class="tk">−10</text>
<line x1="98.75" y1="546.00" x2="98.75" y2="548.90" stroke="#333" stroke-width="1.1"/>
<text x="98.75" y="558.40" text-anchor="middle" class="tk">−5</text>
<line x1="161.00" y1="546.00" x2="161.00" y2="548.90" stroke="#333" stroke-width="1.1"/>
<text x="161.00" y="558.40" text-anchor="middle" class="tk">0</text>
<line x1="223.25" y1="546.00" x2="223.25" y2="548.90" stroke="#333" stroke-width="1.1"/>
<text x="223.25" y="558.40" text-anchor="middle" class="tk">5</text>
<line x1="285.50" y1="546.00" x2="285.50" y2="548.90" stroke="#333" stroke-width="1.1"/>
<text x="285.50" y="558.40" text-anchor="middle" class="tk">10</text>
<text x="318.8" y="572.4" text-anchor="middle" class="at">Day relative to event</text>
<text x="632.5" y="262.0" class="lt">Year</text>
<line x1="633.9" y1="278.7" x2="649.0" y2="278.7" stroke="#9a6cef" stroke-width="1.85"/>
<line x1="633.9" y1="297.6" x2="649.0" y2="297.6" stroke="#fb7748" stroke-width="1.85"/>
<text x="656.8" y="282.0" class="ll">2015</text>
<text x="656.8" y="300.9" class="ll">2019</text>
<defs><clipPath id="mclip"><rect x="396" y="428" width="175" height="118.3"/></clipPath></defs>
<g clip-path="url(#mclip)">
<g fill="none" stroke="#666" stroke-width="0.42" stroke-linejoin="round">
<path d="M418.4 456.3 L419.2 458.4 L417.6 462.8 L415.2 463.1 L411.2 465.2 L408.8 466.4 L405.2 466.9 L402.1 465.2 L403.6 462.8 L404.8 460.5 L406.0 460.5 L403.6 458.7 L406.4 456.9 L402.9 455.1 L403.6 452.2 L403.2 450.7 L408.8 450.4 L409.2 448.7 L410.0 445.4 L414.0 444.2 L418.4 445.1 L420.4 448.7 L418.8 452.2 L418.4 456.3"/>
<path d="M414.0 446.0 L413.2 448.1 L410.4 449.5 L412.8 451.3 L415.2 450.4 L418.0 451.9"/>
<path d="M420.4 475.5 L426.4 473.7 L429.2 472.3 L435.2 472.3 L439.2 471.1 L444.3 471.1 L448.7 468.7 L446.7 466.9 L445.9 465.5 L448.3 464.6 L450.1 461.1 L449.5 458.7 L444.3 458.7 L443.5 455.1 L442.4 451.6 L440.8 449.2 L438.4 448.4 L436.8 444.5 L435.2 441.6 L432.8 440.4 L430.4 440.1 L432.8 439.2 L432.0 437.4 L434.8 434.5 L436.0 431.0 L433.2 430.4 L429.2 430.4 L427.2 431.0 L430.8 425.1 L425.2 425.4 L423.2 425.1 L422.4 428.6 L420.8 431.6 L420.0 435.7 L420.8 438.6 L421.6 441.6 L423.6 441.6 L424.8 443.9 L422.8 447.2 L425.6 448.1 L428.8 447.5 L430.0 449.8 L431.6 451.6 L431.2 455.7 L426.0 455.7 L424.4 459.3 L426.8 461.6 L423.6 465.2 L422.4 465.8 L427.2 466.4 L430.4 467.5 L432.4 466.9 L429.2 468.7 L425.2 469.9 L420.4 475.5"/>
<path d="M418.4 434.5 L416.8 432.1 L418.0 430.4 L419.6 432.7 L418.4 434.5"/>
<path d="M413.6 433.9 L414.4 431.0 L415.6 428.6 L418.0 425.6 L415.6 426.8 L414.0 429.8 L413.2 433.3"/>
<path d="M453.3 469.3 L449.5 470.5 L449.5 474.6 L443.9 477.6 L443.5 479.0 L442.4 479.9 L438.4 479.3 L438.0 477.6 L435.6 477.6 L436.8 483.5 L432.0 484.7 L429.2 482.9 L424.4 484.1 L426.0 487.0 L424.8 487.9 L431.2 490.6 L434.4 492.9 L436.0 496.4 L438.8 500.0 L438.4 502.9 L438.2 508.8 L437.2 514.7 L436.0 515.0 L437.6 516.8 L440.4 518.0 L445.9 518.3 L449.9 520.0 L455.5 520.3 L455.1 517.1 L457.1 515.3 L461.1 514.4 L463.9 515.3 L467.9 516.5 L471.1 514.1 L473.1 512.4 L473.5 510.0 L470.7 508.8 L471.1 505.3 L470.3 500.6 L471.1 500.0 L470.3 498.8 L467.5 498.5 L466.9 498.6 L467.5 497.0 L467.5 495.9 L469.1 493.8 L471.1 491.7 L473.1 490.6 L473.5 490.0 L474.3 484.1 L475.9 481.9 L468.7 480.5 L466.7 478.8 L462.3 477.0 L459.9 476.1 L453.3 469.3"/>
<path d="M453.3 469.3 L456.7 467.7 L460.3 467.7 L463.1 467.1 L466.3 468.7 L465.9 471.1 L467.5 471.7 L468.7 474.0 L467.5 475.2 L466.1 476.4 L466.3 478.8"/>
<path d="M466.3 478.8 L468.7 478.8 L469.1 477.0 L467.5 475.2"/>
<path d="M456.7 467.7 L457.5 466.4 L459.1 464.3 L461.1 461.6 L461.9 458.7 L463.1 458.7 L464.7 460.5 L466.3 459.3 L464.7 456.9 L467.1 455.7 L470.7 456.0 L471.9 456.9 L471.3 460.5 L469.9 461.3 L471.3 462.8 L467.1 464.9 L467.9 468.7 L466.7 469.9 L466.3 468.7"/>
<path d="M470.7 456.0 L471.1 454.6 L475.1 454.0 L477.1 455.1 L478.7 453.1 L477.5 450.4 L478.7 446.9 L480.7 447.5 L483.0 449.2 L486.6 450.1 L486.6 452.2 L489.0 452.2 L492.2 451.0 L495.0 449.8 L496.6 449.2 L497.8 451.6 L499.8 452.8 L500.6 456.3 L499.4 459.3 L501.8 463.4 L501.4 465.2 L503.0 469.3 L500.2 469.6 L493.0 473.4 L491.4 474.0 L493.0 477.0 L495.0 479.9 L498.2 482.9 L496.6 484.7 L495.0 490.6 L491.8 489.4 L485.0 491.1 L481.5 490.6 L477.5 490.0 L473.5 490.0"/>
<path d="M477.5 446.9 L475.5 443.4 L475.5 436.9 L477.5 433.9 L482.7 431.0 L485.4 430.1 L485.0 433.3 L484.2 436.9 L486.6 438.0 L483.8 440.4 L481.5 443.4 L481.5 446.3 L480.7 447.5"/>
<path d="M491.0 446.6 L492.2 444.5 L493.4 442.2 L492.6 439.8 L490.2 440.7 L487.4 442.2 L488.0 445.1 L491.0 446.6"/>
<path d="M482.3 443.9 L485.4 443.4 L486.2 445.7 L483.4 446.0 L482.3 443.9"/>
<path d="M487.0 447.5 L490.6 447.8 L489.4 448.7 L487.0 447.5"/>
<path d="M501.8 445.7 L503.4 445.1 L503.4 446.3 L501.8 445.7"/>
<path d="M489.0 427.4 L490.6 431.0 L492.2 433.9 L494.6 436.9 L493.0 438.6 L494.6 441.0 L494.6 443.9 L496.6 444.2 L499.8 443.9 L500.6 442.2 L499.8 440.4 L503.0 439.5 L506.6 439.8 L508.6 436.9 L509.4 434.5 L509.0 429.8 L509.8 426.8"/>
<path d="M508.6 439.2 L510.2 435.1 L511.4 432.7 L509.4 436.3 L508.6 439.2"/>
<path d="M515.4 433.3 L516.2 435.1 L518.2 432.1 L519.0 429.2 L517.4 429.8 L515.4 431.6 L515.4 433.3"/>
<path d="M467.1 426.8 L471.1 428.3 L475.1 428.0 L479.1 425.1"/>
<path d="M473.5 490.0 L477.5 490.0 L481.5 490.6 L481.1 492.9 L482.7 494.1 L485.0 494.4 L483.4 497.9 L480.3 496.4 L479.1 500.3 L476.7 496.7 L474.7 499.4 L471.1 500.0"/>
<path d="M473.1 512.4 L475.1 511.8 L478.3 508.8 L481.1 510.6 L483.8 511.8 L485.0 515.3 L485.0 517.7 L487.4 520.0 L491.0 523.6 L493.4 526.2 L495.4 527.4 L498.2 527.7 L499.4 530.1 L501.0 531.3 L503.0 533.6 L505.8 534.8 L507.0 538.3 L507.4 541.3 L505.8 544.8 L505.6 547.2 L507.4 547.2 L509.4 544.2 L511.4 540.7 L511.8 538.3 L509.0 536.6 L511.0 531.9 L514.6 533.0 L517.0 534.2 L515.0 531.0 L511.0 528.3 L507.0 526.5 L506.6 523.6 L501.8 522.4 L499.0 518.9 L497.4 513.6 L493.4 510.6 L492.2 507.7 L492.6 505.3 L491.8 503.5 L493.4 502.4 L495.4 500.9 L497.8 501.5 L497.0 499.4 L497.8 496.4 L492.6 495.3 L491.8 492.9 L487.0 494.7 L484.6 494.1 L485.0 496.4 L483.4 497.9"/>
<path d="M480.7 517.1 L481.1 519.5 L481.3 522.4 L479.9 526.5 L478.3 525.4 L477.5 523.0 L477.7 519.5 L480.3 517.7 L480.7 517.1"/>
<path d="M479.9 527.4 L482.3 529.5 L481.9 534.8 L481.5 539.5 L479.1 539.5 L476.7 541.0 L476.7 536.6 L477.1 533.0 L475.9 529.5 L478.3 529.2 L479.9 527.4"/>
<path d="M492.6 547.2 L495.8 545.4 L499.0 546.6 L503.4 546.0 L505.4 545.1 L504.2 549.5"/>
<path d="M481.5 490.6 L485.0 491.1 L491.8 489.4 L495.0 490.6 L496.6 484.7 L498.2 482.9 L501.8 484.1 L503.0 481.7 L507.0 483.2 L510.6 484.1 L511.0 487.6 L509.0 490.6 L509.0 493.5 L507.0 495.3 L503.0 495.9 L497.8 496.4"/>
<path d="M491.4 474.0 L493.0 473.4 L500.2 469.6 L503.0 469.3 L508.2 471.7 L510.6 473.4 L513.8 474.0 L517.4 476.4 L518.2 478.8 L514.6 482.3 L510.6 484.1 L507.0 483.2 L503.0 481.7 L501.8 484.1 L498.2 482.9 L495.0 479.9 L493.0 477.0 L491.4 474.0"/>
<path d="M499.8 452.8 L505.0 451.3 L510.6 448.7 L516.2 447.5 L517.4 449.8 L521.4 449.5 L534.1 449.8 L536.9 452.2 L538.5 456.9 L537.3 460.5 L535.7 462.8 L537.3 466.9 L539.3 471.1 L536.9 474.0 L533.3 478.8 L534.5 481.7 L530.9 480.5 L526.5 479.6 L522.6 480.5 L520.6 478.2 L518.2 478.8"/>
<path d="M514.6 482.3 L518.2 478.8 L520.6 478.2 L522.6 480.5 L526.5 479.6 L530.9 480.5 L533.3 481.1 L531.3 485.2 L526.9 484.7 L524.1 485.8 L519.0 487.0 L518.2 488.8 L514.2 489.1 L511.0 487.6"/>
<path d="M531.3 485.2 L534.5 487.9 L530.9 491.1 L527.7 497.6 L524.1 498.5 L518.2 500.0 L513.4 499.7 L509.4 496.4 L507.4 494.4 L509.0 493.5"/>
<path d="M507.0 495.3 L509.4 496.4 L505.8 498.2 L505.4 500.6 L503.8 502.6 L501.4 501.8 L497.4 502.6 L497.8 501.5"/>
<path d="M497.4 502.6 L498.6 505.9 L500.2 503.5 L503.0 507.7 L503.8 510.0 L507.0 514.1 L510.6 514.7 L514.2 517.7 L517.0 520.3"/>
<path d="M513.4 499.7 L518.2 500.0 L520.6 504.1 L519.0 505.9 L513.0 504.7 L509.0 504.1 L506.2 504.1 L506.6 507.1 L507.8 510.0 L513.4 514.1 L515.0 517.1 L517.0 520.3"/>
<path d="M519.0 505.9 L520.6 508.8 L521.4 511.2 L520.2 514.1 L517.8 517.1 L517.0 520.3"/>
<path d="M520.6 504.1 L519.0 499.4 L524.1 498.5 L528.9 504.1 L532.9 507.1 L533.7 510.0 L532.5 512.4 L534.9 515.9 L532.5 521.2 L529.3 521.5 L525.3 523.6"/>
<path d="M520.2 514.1 L521.4 516.5 L523.3 519.5 L526.1 515.6 L528.9 517.7 L529.3 521.5"/>
<path d="M523.3 519.5 L522.2 520.0 L520.2 523.6 L517.0 520.3"/>
<path d="M520.2 523.6 L521.0 526.0 L520.6 529.5 L520.6 533.0 L523.0 536.6 L525.3 534.2 L526.9 531.3 L524.9 528.9 L525.3 523.6 L523.3 519.5"/>
<path d="M529.3 521.5 L532.5 521.2 L534.9 526.5 L532.1 528.3 L526.9 529.8 L524.9 528.9"/>
<path d="M523.0 536.6 L524.1 538.9 L525.7 541.3 L527.3 544.2 L530.1 544.8 L532.9 546.0 L535.7 546.6 L534.5 544.8 L536.1 545.4 L538.9 545.4 L536.9 543.6 L534.1 541.9 L533.3 540.7 L534.9 540.7 L534.5 538.3 L532.9 534.8 L533.3 532.4 L534.5 531.3 L536.1 533.0 L537.7 533.6 L536.1 535.1 L538.5 534.8 L538.9 533.0 L538.9 530.4 L542.9 529.2 L547.3 530.1 L549.3 526.5 L548.1 524.8 L546.5 527.1 L540.9 525.4 L534.9 526.5"/>
<path d="M534.1 541.3 L537.3 543.1 L540.9 546.6 L539.7 544.8 L536.5 541.3 L534.1 541.3"/>
<path d="M546.9 538.9 L549.3 540.7 L548.5 538.6 L546.9 538.9"/>
<path d="M541.3 530.7 L542.1 531.3 L541.7 530.1 L541.3 530.7"/>
<path d="M533.7 510.0 L534.5 512.4 L540.9 513.0 L544.9 513.3 L550.9 510.6 L554.9 512.7 L557.3 512.7 L554.9 515.9 L554.5 518.9 L552.9 520.6 L554.9 523.0 L550.9 522.4 L548.1 524.8"/>
<path d="M524.1 498.5 L527.7 497.6 L530.9 491.1 L534.5 487.9 L538.9 487.9 L542.9 488.8 L549.3 486.4 L552.1 489.4 L555.7 494.1 L555.7 499.4 L555.7 502.4 L561.3 502.9 L561.7 505.9 L557.7 509.4 L557.3 512.7"/>
<path d="M532.9 507.1 L533.7 510.0"/>
<path d="M549.3 486.4 L552.9 484.7 L555.7 486.4 L559.7 488.2 L561.3 494.1 L563.2 497.0 L558.5 496.4 L555.7 502.4"/>
<path d="M554.9 523.0 L558.9 527.4 L559.3 528.3 L557.3 528.9 L552.9 529.2 L549.7 532.4 L547.3 531.3 L549.3 526.5"/>
<path d="M547.7 534.8 L550.1 532.4 L553.3 532.4 L558.9 532.4 L560.1 527.7 L564.8 527.7 L568.8 527.7 L571.6 524.8"/>
<path d="M547.7 534.8 L550.1 537.8 L550.5 541.3 L549.3 544.2 L550.9 546.6"/>
<path d="M526.9 440.1 L530.9 438.0 L538.9 438.3 L545.3 439.5 L549.3 442.2 L547.7 446.3 L545.7 447.5 L544.9 450.4 L538.9 452.5 L536.9 452.2 L534.1 449.8 L533.3 447.5 L528.5 445.1 L527.7 442.8 L526.9 440.1"/>
<path d="M526.9 440.1 L527.3 435.7 L529.3 432.7 L533.3 430.1 L536.1 434.5 L539.3 434.5 L540.5 429.2 L544.1 428.6 L548.9 431.6 L552.5 431.6 L554.1 434.5 L555.7 439.2 L550.9 441.6 L549.3 442.2"/>
<path d="M521.4 449.5 L522.6 447.8 L524.1 446.6 L526.9 446.6 L527.7 445.1 L530.9 446.0 L533.3 447.5"/>
<path d="M563.2 497.0 L565.6 496.4 L567.6 495.9 L569.2 494.7 L571.6 495.9"/>
<path d="M554.1 434.5 L555.3 431.6 L553.3 429.2 L552.9 426.8"/>
<path d="M540.5 429.2 L540.5 426.8"/>
<path d="M536.9 452.2 L538.9 452.5 L544.9 450.4 L545.7 447.5 L547.7 446.3 L549.3 442.2 L550.9 441.6 L555.7 439.2 L560.5 440.7 L566.4 442.8 L566.0 447.5 L570.0 452.2 L573.6 456.0 L568.4 457.5 L568.8 463.4 L565.2 468.1 L560.1 467.5 L553.7 466.9 L544.1 464.6 L537.3 466.9 L535.7 462.8"/>
<path d="M436.0 515.0 L431.2 514.7 L425.2 514.7 L419.2 513.9 L415.2 513.9 L411.2 513.0 L410.0 513.9 L406.4 515.9 L407.2 519.5 L407.6 522.4 L408.0 523.6 L408.4 528.9 L407.6 533.6 L405.6 538.3 L405.2 541.9 L406.8 542.5 L408.0 543.6 L408.0 546.6 L407.6 552.5"/>
<path d="M408.0 523.6 L410.4 522.4 L414.4 523.3 L416.8 523.3 L418.4 525.4 L415.6 528.9 L416.0 533.0 L415.2 536.6 L413.2 537.2 L415.2 540.1 L414.4 543.1 L415.2 545.4 L413.6 551.3"/>
<path d="M455.5 520.3 L455.9 523.6 L451.9 527.1 L447.1 528.6 L446.3 530.7 L443.1 535.4 L442.0 538.3 L443.9 541.9 L441.2 544.8 L440.0 549.0"/>
<path d="M452.7 537.5 L455.1 535.1 L456.9 536.3 L455.9 538.6 L453.9 537.8 L452.7 537.5"/>
<path d="M458.3 534.8 L460.3 535.7 L458.7 535.4 L458.3 534.8"/>
<path d="M447.9 541.0 L449.5 540.1 L449.1 541.6 L447.9 541.0"/>
</g>
<rect x="463.10" y="464.00" width="39.90" height="41.30" fill="#3d62e0" fill-opacity="0.5"/>
</g>
<text x="391.3" y="448.60" text-anchor="end" class="mk">55°N</text>
<text x="391.3" y="478.10" text-anchor="end" class="mk">50°N</text>
<text x="391.3" y="507.60" text-anchor="end" class="mk">45°N</text>
<text x="391.3" y="537.10" text-anchor="end" class="mk">40°N</text>
<text x="403.25" y="555.0" text-anchor="middle" class="mk">10°W</text>
<text x="443.15" y="555.0" text-anchor="middle" class="mk">0°</text>
<text x="483.05" y="555.0" text-anchor="middle" class="mk">10°E</text>
<text x="522.95" y="555.0" text-anchor="middle" class="mk">20°E</text>
<text x="562.85" y="555.0" text-anchor="middle" class="mk">30°E</text>
<text x="476.9" y="425.5" text-anchor="middle" class="ti">(h) Study Region</text>
</svg>
</body></html>
